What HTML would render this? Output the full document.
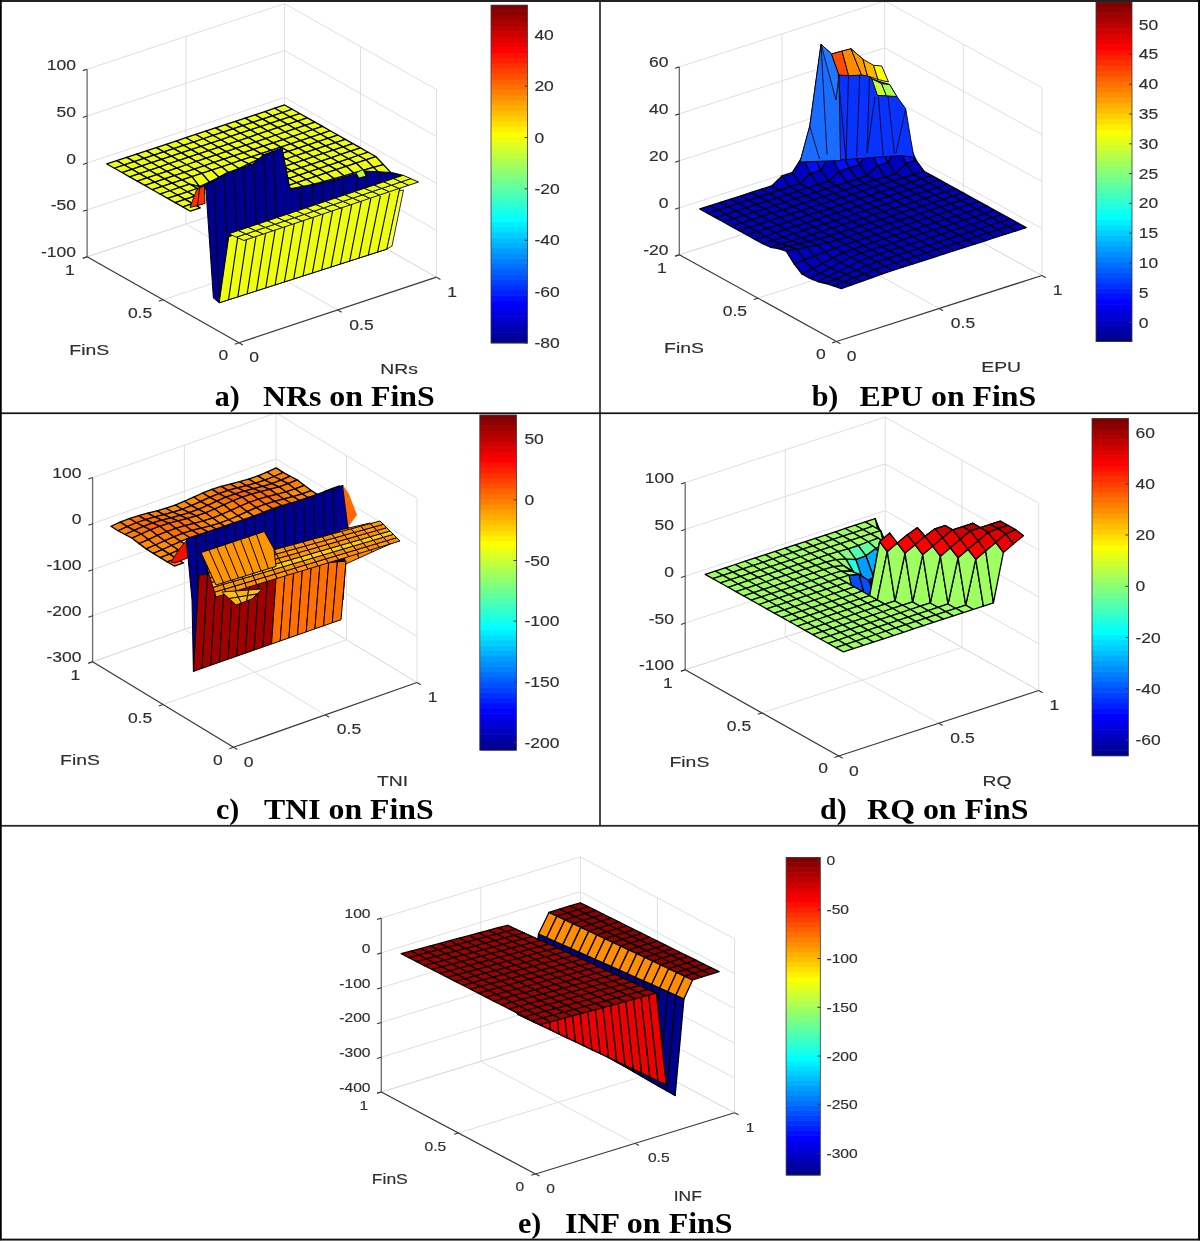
<!DOCTYPE html>
<html><head><meta charset="utf-8"><title>Figure</title>
<style>html,body{margin:0;padding:0;background:#fff;width:1200px;height:1241px;overflow:hidden}svg{display:block;filter:blur(0.4px)}svg.ov{position:absolute;left:0;top:0;filter:none}.t{font-family:"Liberation Sans",sans-serif;fill:#2e2e2e;stroke:#2e2e2e;stroke-width:0.15px}</style>
</head><body>
<svg width="1200" height="1241" viewBox="0 0 1200 1241"><line x1="87.1" y1="256.8" x2="284.6" y2="191.25" stroke="#dedede" stroke-width="1"/>
<line x1="284.6" y1="191.25" x2="436.5" y2="277.2" stroke="#dedede" stroke-width="1"/>
<line x1="87.1" y1="209.9" x2="284.6" y2="144.35" stroke="#dedede" stroke-width="1"/>
<line x1="284.6" y1="144.35" x2="436.5" y2="230.3" stroke="#dedede" stroke-width="1"/>
<line x1="87.1" y1="163" x2="284.6" y2="97.45" stroke="#dedede" stroke-width="1"/>
<line x1="284.6" y1="97.45" x2="436.5" y2="183.4" stroke="#dedede" stroke-width="1"/>
<line x1="87.1" y1="116.1" x2="284.6" y2="50.55" stroke="#dedede" stroke-width="1"/>
<line x1="284.6" y1="50.55" x2="436.5" y2="136.5" stroke="#dedede" stroke-width="1"/>
<line x1="87.1" y1="69.2" x2="284.6" y2="3.65" stroke="#dedede" stroke-width="1"/>
<line x1="284.6" y1="3.65" x2="436.5" y2="89.6" stroke="#dedede" stroke-width="1"/>
<line x1="185.85" y1="224.03" x2="185.85" y2="36.43" stroke="#dedede" stroke-width="1"/>
<line x1="284.6" y1="191.25" x2="284.6" y2="3.65" stroke="#dedede" stroke-width="1"/>
<line x1="436.5" y1="277.2" x2="436.5" y2="89.6" stroke="#dedede" stroke-width="1"/>
<line x1="360.55" y1="234.22" x2="360.55" y2="46.62" stroke="#dedede" stroke-width="1"/>
<line x1="337.75" y1="309.98" x2="185.85" y2="224.03" stroke="#dedede" stroke-width="1"/>
<line x1="436.5" y1="277.2" x2="284.6" y2="191.25" stroke="#dedede" stroke-width="1"/>
<line x1="163.05" y1="299.77" x2="360.55" y2="234.22" stroke="#dedede" stroke-width="1"/>
<line x1="87.1" y1="256.8" x2="284.6" y2="191.25" stroke="#dedede" stroke-width="1"/>
<polygon points="282.32,112.53 292.19,109.25 284.6,104.95 274.73,108.23" fill="#efff10" stroke="#000" stroke-width="1.3" stroke-linejoin="round"/>
<polygon points="272.44,115.81 282.32,112.53 274.73,108.23 264.85,111.51" fill="#efff10" stroke="#000" stroke-width="1.3" stroke-linejoin="round"/>
<polygon points="289.91,116.83 299.79,113.55 292.19,109.25 282.32,112.53" fill="#efff10" stroke="#000" stroke-width="1.3" stroke-linejoin="round"/>
<polygon points="262.57,119.08 272.44,115.81 264.85,111.51 254.97,114.79" fill="#efff10" stroke="#000" stroke-width="1.3" stroke-linejoin="round"/>
<polygon points="280.04,120.1 289.91,116.83 282.32,112.53 272.44,115.81" fill="#efff10" stroke="#000" stroke-width="1.3" stroke-linejoin="round"/>
<polygon points="297.51,121.12 307.38,117.85 299.79,113.55 289.91,116.83" fill="#efff10" stroke="#000" stroke-width="1.3" stroke-linejoin="round"/>
<polygon points="252.69,122.36 262.57,119.08 254.97,114.79 245.1,118.06" fill="#efff10" stroke="#000" stroke-width="1.3" stroke-linejoin="round"/>
<polygon points="270.16,123.38 280.04,120.1 272.44,115.81 262.57,119.08" fill="#efff10" stroke="#000" stroke-width="1.3" stroke-linejoin="round"/>
<polygon points="287.63,124.4 297.51,121.12 289.91,116.83 280.04,120.1" fill="#efff10" stroke="#000" stroke-width="1.3" stroke-linejoin="round"/>
<polygon points="305.11,125.42 314.98,122.14 307.38,117.85 297.51,121.12" fill="#efff10" stroke="#000" stroke-width="1.3" stroke-linejoin="round"/>
<polygon points="242.82,125.64 252.69,122.36 245.1,118.06 235.22,121.34" fill="#efff10" stroke="#000" stroke-width="1.3" stroke-linejoin="round"/>
<polygon points="260.29,126.66 270.16,123.38 262.57,119.08 252.69,122.36" fill="#efff10" stroke="#000" stroke-width="1.3" stroke-linejoin="round"/>
<polygon points="277.76,127.68 287.63,124.4 280.04,120.1 270.16,123.38" fill="#efff10" stroke="#000" stroke-width="1.3" stroke-linejoin="round"/>
<polygon points="295.23,128.7 305.11,125.42 297.51,121.12 287.63,124.4" fill="#efff10" stroke="#000" stroke-width="1.3" stroke-linejoin="round"/>
<polygon points="232.94,128.92 242.82,125.64 235.22,121.34 225.35,124.62" fill="#efff10" stroke="#000" stroke-width="1.3" stroke-linejoin="round"/>
<polygon points="312.7,129.72 322.57,126.44 314.98,122.14 305.11,125.42" fill="#efff10" stroke="#000" stroke-width="1.3" stroke-linejoin="round"/>
<polygon points="250.41,129.94 260.29,126.66 252.69,122.36 242.82,125.64" fill="#efff10" stroke="#000" stroke-width="1.3" stroke-linejoin="round"/>
<polygon points="267.88,130.96 277.76,127.68 270.16,123.38 260.29,126.66" fill="#efff10" stroke="#000" stroke-width="1.3" stroke-linejoin="round"/>
<polygon points="285.36,131.98 295.23,128.7 287.63,124.4 277.76,127.68" fill="#efff10" stroke="#000" stroke-width="1.3" stroke-linejoin="round"/>
<polygon points="223.07,132.19 232.94,128.92 225.35,124.62 215.47,127.9" fill="#efff10" stroke="#000" stroke-width="1.3" stroke-linejoin="round"/>
<polygon points="302.82,133 312.7,129.72 305.11,125.42 295.23,128.7" fill="#efff10" stroke="#000" stroke-width="1.3" stroke-linejoin="round"/>
<polygon points="240.54,133.21 250.41,129.94 242.82,125.64 232.94,128.92" fill="#efff10" stroke="#000" stroke-width="1.3" stroke-linejoin="round"/>
<polygon points="320.3,134.02 330.17,130.74 322.57,126.44 312.7,129.72" fill="#efff10" stroke="#000" stroke-width="1.3" stroke-linejoin="round"/>
<polygon points="258.01,134.23 267.88,130.96 260.29,126.66 250.41,129.94" fill="#efff10" stroke="#000" stroke-width="1.3" stroke-linejoin="round"/>
<polygon points="275.48,135.25 285.36,131.98 277.76,127.68 267.88,130.96" fill="#efff10" stroke="#000" stroke-width="1.3" stroke-linejoin="round"/>
<polygon points="213.19,135.47 223.07,132.19 215.47,127.9 205.6,131.17" fill="#efff10" stroke="#000" stroke-width="1.3" stroke-linejoin="round"/>
<polygon points="292.95,136.27 302.82,133 295.23,128.7 285.36,131.98" fill="#efff10" stroke="#000" stroke-width="1.3" stroke-linejoin="round"/>
<polygon points="230.66,136.49 240.54,133.21 232.94,128.92 223.07,132.19" fill="#efff10" stroke="#000" stroke-width="1.3" stroke-linejoin="round"/>
<polygon points="310.42,137.29 320.3,134.02 312.7,129.72 302.82,133" fill="#efff10" stroke="#000" stroke-width="1.3" stroke-linejoin="round"/>
<polygon points="248.13,137.51 258.01,134.23 250.41,129.94 240.54,133.21" fill="#efff10" stroke="#000" stroke-width="1.3" stroke-linejoin="round"/>
<polygon points="327.89,138.31 337.76,135.04 330.17,130.74 320.3,134.02" fill="#efff10" stroke="#000" stroke-width="1.3" stroke-linejoin="round"/>
<polygon points="265.61,138.53 275.48,135.25 267.88,130.96 258.01,134.23" fill="#efff10" stroke="#000" stroke-width="1.3" stroke-linejoin="round"/>
<polygon points="203.32,138.75 213.19,135.47 205.6,131.17 195.72,134.45" fill="#efff10" stroke="#000" stroke-width="1.3" stroke-linejoin="round"/>
<polygon points="283.07,139.55 292.95,136.27 285.36,131.98 275.48,135.25" fill="#efff10" stroke="#000" stroke-width="1.3" stroke-linejoin="round"/>
<polygon points="220.79,139.77 230.66,136.49 223.07,132.19 213.19,135.47" fill="#efff10" stroke="#000" stroke-width="1.3" stroke-linejoin="round"/>
<polygon points="300.55,140.57 310.42,137.29 302.82,133 292.95,136.27" fill="#efff10" stroke="#000" stroke-width="1.3" stroke-linejoin="round"/>
<polygon points="238.26,140.79 248.13,137.51 240.54,133.21 230.66,136.49" fill="#efff10" stroke="#000" stroke-width="1.3" stroke-linejoin="round"/>
<polygon points="318.01,141.59 327.89,138.31 320.3,134.02 310.42,137.29" fill="#efff10" stroke="#000" stroke-width="1.3" stroke-linejoin="round"/>
<polygon points="255.73,141.81 265.61,138.53 258.01,134.23 248.13,137.51" fill="#efff10" stroke="#000" stroke-width="1.3" stroke-linejoin="round"/>
<polygon points="193.44,142.03 203.32,138.75 195.72,134.45 185.85,137.73" fill="#efff10" stroke="#000" stroke-width="1.3" stroke-linejoin="round"/>
<polygon points="335.49,142.61 345.36,139.33 337.76,135.04 327.89,138.31" fill="#efff10" stroke="#000" stroke-width="1.3" stroke-linejoin="round"/>
<polygon points="273.2,142.83 283.07,139.55 275.48,135.25 265.61,138.53" fill="#efff10" stroke="#000" stroke-width="1.3" stroke-linejoin="round"/>
<polygon points="210.91,143.05 220.79,139.77 213.19,135.47 203.32,138.75" fill="#efff10" stroke="#000" stroke-width="1.3" stroke-linejoin="round"/>
<polygon points="290.67,143.85 300.55,140.57 292.95,136.27 283.07,139.55" fill="#efff10" stroke="#000" stroke-width="1.3" stroke-linejoin="round"/>
<polygon points="228.38,144.07 238.26,140.79 230.66,136.49 220.79,139.77" fill="#efff10" stroke="#000" stroke-width="1.3" stroke-linejoin="round"/>
<polygon points="308.14,144.87 318.01,141.59 310.42,137.29 300.55,140.57" fill="#efff10" stroke="#000" stroke-width="1.3" stroke-linejoin="round"/>
<polygon points="245.85,145.09 255.73,141.81 248.13,137.51 238.26,140.79" fill="#efff10" stroke="#000" stroke-width="1.3" stroke-linejoin="round"/>
<polygon points="183.57,145.3 193.44,142.03 185.85,137.73 175.97,141.01" fill="#efff10" stroke="#000" stroke-width="1.3" stroke-linejoin="round"/>
<polygon points="325.61,145.89 335.49,142.61 327.89,138.31 318.01,141.59" fill="#efff10" stroke="#000" stroke-width="1.3" stroke-linejoin="round"/>
<polygon points="263.32,146.11 273.2,142.83 265.61,138.53 255.73,141.81" fill="#efff10" stroke="#000" stroke-width="1.3" stroke-linejoin="round"/>
<polygon points="201.04,146.32 210.91,143.05 203.32,138.75 193.44,142.03" fill="#efff10" stroke="#000" stroke-width="1.3" stroke-linejoin="round"/>
<polygon points="343.08,146.91 352.95,143.63 345.36,139.33 335.49,142.61" fill="#efff10" stroke="#000" stroke-width="1.3" stroke-linejoin="round"/>
<polygon points="280.8,147.13 290.67,143.85 283.07,139.55 273.2,142.83" fill="#efff10" stroke="#000" stroke-width="1.3" stroke-linejoin="round"/>
<polygon points="218.51,147.34 228.38,144.07 220.79,139.77 210.91,143.05" fill="#efff10" stroke="#000" stroke-width="1.3" stroke-linejoin="round"/>
<polygon points="298.26,148.15 308.14,144.87 300.55,140.57 290.67,143.85" fill="#efff10" stroke="#000" stroke-width="1.3" stroke-linejoin="round"/>
<polygon points="235.98,148.36 245.85,145.09 238.26,140.79 228.38,144.07" fill="#efff10" stroke="#000" stroke-width="1.3" stroke-linejoin="round"/>
<polygon points="173.69,148.58 183.57,145.3 175.97,141.01 166.1,144.28" fill="#efff10" stroke="#000" stroke-width="1.3" stroke-linejoin="round"/>
<polygon points="315.74,149.17 325.61,145.89 318.01,141.59 308.14,144.87" fill="#efff10" stroke="#000" stroke-width="1.3" stroke-linejoin="round"/>
<polygon points="253.45,149.38 263.32,146.11 255.73,141.81 245.85,145.09" fill="#efff10" stroke="#000" stroke-width="1.3" stroke-linejoin="round"/>
<polygon points="191.16,149.6 201.04,146.32 193.44,142.03 183.57,145.3" fill="#efff10" stroke="#000" stroke-width="1.3" stroke-linejoin="round"/>
<polygon points="333.2,150.19 343.08,146.91 335.49,142.61 325.61,145.89" fill="#efff10" stroke="#000" stroke-width="1.3" stroke-linejoin="round"/>
<polygon points="270.92,150.4 280.8,147.13 273.2,142.83 263.32,146.11" fill="#efff10" stroke="#000" stroke-width="1.3" stroke-linejoin="round"/>
<polygon points="208.63,150.62 218.51,147.34 210.91,143.05 201.04,146.32" fill="#efff10" stroke="#000" stroke-width="1.3" stroke-linejoin="round"/>
<polygon points="350.68,151.21 360.55,147.93 352.95,143.63 343.08,146.91" fill="#efff10" stroke="#000" stroke-width="1.3" stroke-linejoin="round"/>
<polygon points="288.39,151.42 298.26,148.15 290.67,143.85 280.8,147.13" fill="#efff10" stroke="#000" stroke-width="1.3" stroke-linejoin="round"/>
<polygon points="226.1,151.64 235.98,148.36 228.38,144.07 218.51,147.34" fill="#efff10" stroke="#000" stroke-width="1.3" stroke-linejoin="round"/>
<polygon points="163.82,151.86 173.69,148.58 166.1,144.28 156.22,147.56" fill="#efff10" stroke="#000" stroke-width="1.3" stroke-linejoin="round"/>
<polygon points="305.86,152.44 315.74,149.17 308.14,144.87 298.26,148.15" fill="#efff10" stroke="#000" stroke-width="1.3" stroke-linejoin="round"/>
<polygon points="243.57,152.66 253.45,149.38 245.85,145.09 235.98,148.36" fill="#efff10" stroke="#000" stroke-width="1.3" stroke-linejoin="round"/>
<polygon points="181.29,152.88 191.16,149.6 183.57,145.3 173.69,148.58" fill="#efff10" stroke="#000" stroke-width="1.3" stroke-linejoin="round"/>
<polygon points="323.33,153.46 333.2,150.19 325.61,145.89 315.74,149.17" fill="#efff10" stroke="#000" stroke-width="1.3" stroke-linejoin="round"/>
<polygon points="261.05,153.68 270.92,150.4 263.32,146.11 253.45,149.38" fill="#efff10" stroke="#000" stroke-width="1.3" stroke-linejoin="round"/>
<polygon points="198.76,153.9 208.63,150.62 201.04,146.32 191.16,149.6" fill="#efff10" stroke="#000" stroke-width="1.3" stroke-linejoin="round"/>
<polygon points="340.8,154.48 350.68,151.21 343.08,146.91 333.2,150.19" fill="#efff10" stroke="#000" stroke-width="1.3" stroke-linejoin="round"/>
<polygon points="278.51,154.7 288.39,151.42 280.8,147.13 270.92,150.4" fill="#efff10" stroke="#000" stroke-width="1.3" stroke-linejoin="round"/>
<polygon points="216.23,154.92 226.1,151.64 218.51,147.34 208.63,150.62" fill="#efff10" stroke="#000" stroke-width="1.3" stroke-linejoin="round"/>
<polygon points="153.94,155.14 163.82,151.86 156.22,147.56 146.35,150.84" fill="#efff10" stroke="#000" stroke-width="1.3" stroke-linejoin="round"/>
<polygon points="358.27,155.5 368.14,152.23 360.55,147.93 350.68,151.21" fill="#efff10" stroke="#000" stroke-width="1.3" stroke-linejoin="round"/>
<polygon points="295.99,155.72 305.86,152.44 298.26,148.15 288.39,151.42" fill="#efff10" stroke="#000" stroke-width="1.3" stroke-linejoin="round"/>
<polygon points="233.7,155.94 243.57,152.66 235.98,148.36 226.1,151.64" fill="#efff10" stroke="#000" stroke-width="1.3" stroke-linejoin="round"/>
<polygon points="171.41,156.16 181.29,152.88 173.69,148.58 163.82,151.86" fill="#efff10" stroke="#000" stroke-width="1.3" stroke-linejoin="round"/>
<polygon points="313.45,156.74 323.33,153.46 315.74,149.17 305.86,152.44" fill="#efff10" stroke="#000" stroke-width="1.3" stroke-linejoin="round"/>
<polygon points="251.17,156.96 261.05,153.68 253.45,149.38 243.57,152.66" fill="#efff10" stroke="#000" stroke-width="1.3" stroke-linejoin="round"/>
<polygon points="188.88,157.18 198.76,153.9 191.16,149.6 181.29,152.88" fill="#efff10" stroke="#000" stroke-width="1.3" stroke-linejoin="round"/>
<polygon points="330.93,157.76 340.8,154.48 333.2,150.19 323.33,153.46" fill="#efff10" stroke="#000" stroke-width="1.3" stroke-linejoin="round"/>
<polygon points="268.64,157.98 278.51,154.7 270.92,150.4 261.05,153.68" fill="#efff10" stroke="#000" stroke-width="1.3" stroke-linejoin="round"/>
<polygon points="206.35,158.2 216.23,154.92 208.63,150.62 198.76,153.9" fill="#efff10" stroke="#000" stroke-width="1.3" stroke-linejoin="round"/>
<polygon points="144.07,158.41 153.94,155.14 146.35,150.84 136.47,154.12" fill="#efff10" stroke="#000" stroke-width="1.3" stroke-linejoin="round"/>
<polygon points="348.39,158.78 358.27,155.5 350.68,151.21 340.8,154.48" fill="#efff10" stroke="#000" stroke-width="1.3" stroke-linejoin="round"/>
<polygon points="286.11,159 295.99,155.72 288.39,151.42 278.51,154.7" fill="#efff10" stroke="#000" stroke-width="1.3" stroke-linejoin="round"/>
<polygon points="223.82,159.22 233.7,155.94 226.1,151.64 216.23,154.92" fill="#efff10" stroke="#000" stroke-width="1.3" stroke-linejoin="round"/>
<polygon points="161.54,159.43 171.41,156.16 163.82,151.86 153.94,155.14" fill="#efff10" stroke="#000" stroke-width="1.3" stroke-linejoin="round"/>
<polygon points="365.87,159.8 375.74,156.52 368.14,152.23 358.27,155.5" fill="#efff10" stroke="#000" stroke-width="1.3" stroke-linejoin="round"/>
<polygon points="303.58,160.02 313.45,156.74 305.86,152.44 295.99,155.72" fill="#efff10" stroke="#000" stroke-width="1.3" stroke-linejoin="round"/>
<polygon points="241.3,160.24 251.17,156.96 243.57,152.66 233.7,155.94" fill="#efff10" stroke="#000" stroke-width="1.3" stroke-linejoin="round"/>
<polygon points="179.01,160.45 188.88,157.18 181.29,152.88 171.41,156.16" fill="#efff10" stroke="#000" stroke-width="1.3" stroke-linejoin="round"/>
<polygon points="321.05,161.04 330.93,157.76 323.33,153.46 313.45,156.74" fill="#efff10" stroke="#000" stroke-width="1.3" stroke-linejoin="round"/>
<polygon points="258.76,159.38 268.64,157.98 261.05,153.68 251.17,156.96" fill="#efff10" stroke="#000" stroke-width="1.3" stroke-linejoin="round"/>
<polygon points="196.48,161.47 206.35,158.2 198.76,153.9 188.88,157.18" fill="#efff10" stroke="#000" stroke-width="1.3" stroke-linejoin="round"/>
<polygon points="134.19,161.69 144.07,158.41 136.47,154.12 126.6,157.39" fill="#efff10" stroke="#000" stroke-width="1.3" stroke-linejoin="round"/>
<polygon points="338.52,162.06 348.39,158.78 340.8,154.48 330.93,157.76" fill="#efff10" stroke="#000" stroke-width="1.3" stroke-linejoin="round"/>
<polygon points="276.24,162.28 286.11,159 278.51,154.7 268.64,157.98" fill="#efff10" stroke="#000" stroke-width="1.3" stroke-linejoin="round"/>
<polygon points="213.95,162.49 223.82,159.22 216.23,154.92 206.35,158.2" fill="#efff10" stroke="#000" stroke-width="1.3" stroke-linejoin="round"/>
<polygon points="151.66,162.71 161.54,159.43 153.94,155.14 144.07,158.41" fill="#efff10" stroke="#000" stroke-width="1.3" stroke-linejoin="round"/>
<polygon points="355.99,163.08 365.87,159.8 358.27,155.5 348.39,158.78" fill="#efff10" stroke="#000" stroke-width="1.3" stroke-linejoin="round"/>
<polygon points="293.7,163.3 303.58,160.02 295.99,155.72 286.11,159" fill="#efff10" stroke="#000" stroke-width="1.3" stroke-linejoin="round"/>
<polygon points="373.46,167.38 383.33,164.57 375.74,156.52 365.87,159.8" fill="#efff10" stroke="#000" stroke-width="1.3" stroke-linejoin="round"/>
<polygon points="231.42,163.51 241.3,160.24 233.7,155.94 223.82,159.22" fill="#efff10" stroke="#000" stroke-width="1.3" stroke-linejoin="round"/>
<polygon points="169.13,163.73 179.01,160.45 171.41,156.16 161.54,159.43" fill="#efff10" stroke="#000" stroke-width="1.3" stroke-linejoin="round"/>
<polygon points="311.18,164.32 321.05,161.04 313.45,156.74 303.58,160.02" fill="#efff10" stroke="#000" stroke-width="1.3" stroke-linejoin="round"/>
<polygon points="248.89,163.91 258.76,159.38 251.17,156.96 241.3,160.24" fill="#efff10" stroke="#000" stroke-width="1.3" stroke-linejoin="round"/>
<polygon points="186.6,164.75 196.48,161.47 188.88,157.18 179.01,160.45" fill="#efff10" stroke="#000" stroke-width="1.3" stroke-linejoin="round"/>
<polygon points="124.32,164.97 134.19,161.69 126.6,157.39 116.72,160.67" fill="#efff10" stroke="#000" stroke-width="1.3" stroke-linejoin="round"/>
<polygon points="328.64,165.34 338.52,162.06 330.93,157.76 321.05,161.04" fill="#efff10" stroke="#000" stroke-width="1.3" stroke-linejoin="round"/>
<polygon points="266.36,165.55 276.24,162.28 268.64,157.98 258.76,159.38" fill="#efff10" stroke="#000" stroke-width="1.3" stroke-linejoin="round"/>
<polygon points="204.07,165.77 213.95,162.49 206.35,158.2 196.48,161.47" fill="#efff10" stroke="#000" stroke-width="1.3" stroke-linejoin="round"/>
<polygon points="141.79,165.99 151.66,162.71 144.07,158.41 134.19,161.69" fill="#efff10" stroke="#000" stroke-width="1.3" stroke-linejoin="round"/>
<polygon points="346.12,166.36 355.99,163.08 348.39,158.78 338.52,162.06" fill="#efff10" stroke="#000" stroke-width="1.3" stroke-linejoin="round"/>
<polygon points="381.06,174.96 390.93,172.62 383.33,164.57 373.46,167.38" fill="#efff10" stroke="#000" stroke-width="1.3" stroke-linejoin="round"/>
<polygon points="283.83,166.57 293.7,163.3 286.11,159 276.24,162.28" fill="#efff10" stroke="#000" stroke-width="1.3" stroke-linejoin="round"/>
<polygon points="363.58,170.19 373.46,167.38 365.87,159.8 355.99,163.08" fill="#efff10" stroke="#000" stroke-width="1.3" stroke-linejoin="round"/>
<polygon points="221.55,166.79 231.42,163.51 223.82,159.22 213.95,162.49" fill="#efff10" stroke="#000" stroke-width="1.3" stroke-linejoin="round"/>
<polygon points="159.26,167.01 169.13,163.73 161.54,159.43 151.66,162.71" fill="#efff10" stroke="#000" stroke-width="1.3" stroke-linejoin="round"/>
<polygon points="301.3,167.59 311.18,164.32 303.58,160.02 293.7,163.3" fill="#efff10" stroke="#000" stroke-width="1.3" stroke-linejoin="round"/>
<polygon points="239.01,168.44 248.89,163.91 241.3,160.24 231.42,163.51" fill="#efff10" stroke="#000" stroke-width="1.3" stroke-linejoin="round"/>
<polygon points="176.73,168.03 186.6,164.75 179.01,160.45 169.13,163.73" fill="#efff10" stroke="#000" stroke-width="1.3" stroke-linejoin="round"/>
<polygon points="114.44,168.25 124.32,164.97 116.72,160.67 106.85,163.95" fill="#efff10" stroke="#000" stroke-width="1.3" stroke-linejoin="round"/>
<polygon points="318.77,168.61 328.64,165.34 321.05,161.04 311.18,164.32" fill="#efff10" stroke="#000" stroke-width="1.3" stroke-linejoin="round"/>
<polygon points="256.49,168.83 266.36,165.55 258.76,159.38 248.89,163.91" fill="#efff10" stroke="#000" stroke-width="1.3" stroke-linejoin="round"/>
<polygon points="194.2,169.05 204.07,165.77 196.48,161.47 186.6,164.75" fill="#efff10" stroke="#000" stroke-width="1.3" stroke-linejoin="round"/>
<polygon points="131.91,169.27 141.79,165.99 134.19,161.69 124.32,164.97" fill="#efff10" stroke="#000" stroke-width="1.3" stroke-linejoin="round"/>
<polygon points="336.24,169.63 346.12,166.36 338.52,162.06 328.64,165.34" fill="#efff10" stroke="#000" stroke-width="1.3" stroke-linejoin="round"/>
<polygon points="273.95,169.85 283.83,166.57 276.24,162.28 266.36,165.55" fill="#efff10" stroke="#000" stroke-width="1.3" stroke-linejoin="round"/>
<polygon points="371.18,177.3 381.06,174.96 373.46,167.38 363.58,170.19" fill="#efff10" stroke="#000" stroke-width="1.3" stroke-linejoin="round"/>
<polygon points="353.71,173 363.58,170.19 355.99,163.08 346.12,166.36" fill="#efff10" stroke="#000" stroke-width="1.3" stroke-linejoin="round"/>
<polygon points="211.67,170.07 221.55,166.79 213.95,162.49 204.07,165.77" fill="#efff10" stroke="#000" stroke-width="1.3" stroke-linejoin="round"/>
<polygon points="149.38,170.29 159.26,167.01 151.66,162.71 141.79,165.99" fill="#efff10" stroke="#000" stroke-width="1.3" stroke-linejoin="round"/>
<polygon points="291.43,170.87 301.3,167.59 293.7,163.3 283.83,166.57" fill="#efff10" stroke="#000" stroke-width="1.3" stroke-linejoin="round"/>
<polygon points="229.14,172.96 239.01,168.44 231.42,163.51 221.55,166.79" fill="#efff10" stroke="#000" stroke-width="1.3" stroke-linejoin="round"/>
<polygon points="166.85,171.31 176.73,168.03 169.13,163.73 159.26,167.01" fill="#efff10" stroke="#000" stroke-width="1.3" stroke-linejoin="round"/>
<polygon points="308.89,171.89 318.77,168.61 311.18,164.32 301.3,167.59" fill="#efff10" stroke="#000" stroke-width="1.3" stroke-linejoin="round"/>
<polygon points="184.32,172.33 194.2,169.05 186.6,164.75 176.73,168.03" fill="#efff10" stroke="#000" stroke-width="1.3" stroke-linejoin="round"/>
<polygon points="122.04,172.54 131.91,169.27 124.32,164.97 114.44,168.25" fill="#efff10" stroke="#000" stroke-width="1.3" stroke-linejoin="round"/>
<polygon points="326.37,172.91 336.24,169.63 328.64,165.34 318.77,168.61" fill="#efff10" stroke="#000" stroke-width="1.3" stroke-linejoin="round"/>
<polygon points="264.08,173.13 273.95,169.85 266.36,165.55 256.49,168.83" fill="#efff10" stroke="#000" stroke-width="1.3" stroke-linejoin="round"/>
<polygon points="201.8,173.35 211.67,170.07 204.07,165.77 194.2,169.05" fill="#efff10" stroke="#000" stroke-width="1.3" stroke-linejoin="round"/>
<polygon points="343.83,175.81 353.71,173 346.12,166.36 336.24,169.63" fill="#efff10" stroke="#000" stroke-width="1.3" stroke-linejoin="round"/>
<polygon points="139.51,173.56 149.38,170.29 141.79,165.99 131.91,169.27" fill="#efff10" stroke="#000" stroke-width="1.3" stroke-linejoin="round"/>
<polygon points="219.26,177.49 229.14,172.96 221.55,166.79 211.67,170.07" fill="#efff10" stroke="#000" stroke-width="1.3" stroke-linejoin="round"/>
<polygon points="281.55,174.15 291.43,170.87 283.83,166.57 273.95,169.85" fill="#efff10" stroke="#000" stroke-width="1.3" stroke-linejoin="round"/>
<polygon points="156.98,174.58 166.85,171.31 159.26,167.01 149.38,170.29" fill="#efff10" stroke="#000" stroke-width="1.3" stroke-linejoin="round"/>
<polygon points="299.02,175.17 308.89,171.89 301.3,167.59 291.43,170.87" fill="#efff10" stroke="#000" stroke-width="1.3" stroke-linejoin="round"/>
<polygon points="174.45,175.6 184.32,172.33 176.73,168.03 166.85,171.31" fill="#efff10" stroke="#000" stroke-width="1.3" stroke-linejoin="round"/>
<polygon points="316.49,176.19 326.37,172.91 318.77,168.61 308.89,171.89" fill="#efff10" stroke="#000" stroke-width="1.3" stroke-linejoin="round"/>
<polygon points="191.92,176.62 201.8,173.35 194.2,169.05 184.32,172.33" fill="#efff10" stroke="#000" stroke-width="1.3" stroke-linejoin="round"/>
<polygon points="333.96,178.62 343.83,175.81 336.24,169.63 326.37,172.91" fill="#efff10" stroke="#000" stroke-width="1.3" stroke-linejoin="round"/>
<polygon points="129.63,176.84 139.51,173.56 131.91,169.27 122.04,172.54" fill="#efff10" stroke="#000" stroke-width="1.3" stroke-linejoin="round"/>
<polygon points="209.39,182.02 219.26,177.49 211.67,170.07 201.8,173.35" fill="#efff10" stroke="#000" stroke-width="1.3" stroke-linejoin="round"/>
<polygon points="271.68,177.43 281.55,174.15 273.95,169.85 264.08,173.13" fill="#efff10" stroke="#000" stroke-width="1.3" stroke-linejoin="round"/>
<polygon points="147.1,177.86 156.98,174.58 149.38,170.29 139.51,173.56" fill="#efff10" stroke="#000" stroke-width="1.3" stroke-linejoin="round"/>
<polygon points="289.14,178.45 299.02,175.17 291.43,170.87 281.55,174.15" fill="#efff10" stroke="#000" stroke-width="1.3" stroke-linejoin="round"/>
<polygon points="164.57,178.88 174.45,175.6 166.85,171.31 156.98,174.58" fill="#efff10" stroke="#000" stroke-width="1.3" stroke-linejoin="round"/>
<polygon points="306.62,179.47 316.49,176.19 308.89,171.89 299.02,175.17" fill="#efff10" stroke="#000" stroke-width="1.3" stroke-linejoin="round"/>
<polygon points="182.05,179.9 191.92,176.62 184.32,172.33 174.45,175.6" fill="#efff10" stroke="#000" stroke-width="1.3" stroke-linejoin="round"/>
<polygon points="199.51,186.55 209.39,182.02 201.8,173.35 191.92,176.62" fill="#efff10" stroke="#000" stroke-width="1.3" stroke-linejoin="round"/>
<polygon points="324.08,181.42 333.96,178.62 326.37,172.91 316.49,176.19" fill="#efff10" stroke="#000" stroke-width="1.3" stroke-linejoin="round"/>
<polygon points="137.23,181.14 147.1,177.86 139.51,173.56 129.63,176.84" fill="#efff10" stroke="#000" stroke-width="1.3" stroke-linejoin="round"/>
<polygon points="279.27,181.72 289.14,178.45 281.55,174.15 271.68,177.43" fill="#efff10" stroke="#000" stroke-width="1.3" stroke-linejoin="round"/>
<polygon points="154.7,182.16 164.57,178.88 156.98,174.58 147.1,177.86" fill="#efff10" stroke="#000" stroke-width="1.3" stroke-linejoin="round"/>
<polygon points="296.74,182.74 306.62,179.47 299.02,175.17 289.14,178.45" fill="#efff10" stroke="#000" stroke-width="1.3" stroke-linejoin="round"/>
<polygon points="172.17,183.18 182.05,179.9 174.45,175.6 164.57,178.88" fill="#efff10" stroke="#000" stroke-width="1.3" stroke-linejoin="round"/>
<polygon points="314.21,184.23 324.08,181.42 316.49,176.19 306.62,179.47" fill="#efff10" stroke="#000" stroke-width="1.3" stroke-linejoin="round"/>
<polygon points="189.64,184.2 199.51,186.55 191.92,176.62 182.05,179.9" fill="#efff10" stroke="#000" stroke-width="1.3" stroke-linejoin="round"/>
<polygon points="144.82,185.44 154.7,182.16 147.1,177.86 137.23,181.14" fill="#efff10" stroke="#000" stroke-width="1.3" stroke-linejoin="round"/>
<polygon points="286.87,186.02 296.74,182.74 289.14,178.45 279.27,181.72" fill="#efff10" stroke="#000" stroke-width="1.3" stroke-linejoin="round"/>
<polygon points="162.3,186.46 172.17,183.18 164.57,178.88 154.7,182.16" fill="#efff10" stroke="#000" stroke-width="1.3" stroke-linejoin="round"/>
<polygon points="304.33,187.04 314.21,184.23 306.62,179.47 296.74,182.74" fill="#efff10" stroke="#000" stroke-width="1.3" stroke-linejoin="round"/>
<polygon points="179.76,187.48 189.64,184.2 182.05,179.9 172.17,183.18" fill="#efff10" stroke="#000" stroke-width="1.3" stroke-linejoin="round"/>
<polygon points="197.24,188.5 207.11,185.22 199.51,186.55 189.64,184.2" fill="#efff10" stroke="#000" stroke-width="1.3" stroke-linejoin="round"/>
<polygon points="152.42,189.73 162.3,186.46 154.7,182.16 144.82,185.44" fill="#efff10" stroke="#000" stroke-width="1.3" stroke-linejoin="round"/>
<polygon points="294.46,190.32 304.33,187.04 296.74,182.74 286.87,186.02" fill="#efff10" stroke="#000" stroke-width="1.3" stroke-linejoin="round"/>
<polygon points="169.89,190.75 179.76,187.48 172.17,183.18 162.3,186.46" fill="#efff10" stroke="#000" stroke-width="1.3" stroke-linejoin="round"/>
<polygon points="187.36,191.77 197.24,188.5 189.64,184.2 179.76,187.48" fill="#efff10" stroke="#000" stroke-width="1.3" stroke-linejoin="round"/>
<polygon points="160.01,194.03 169.89,190.75 162.3,186.46 152.42,189.73" fill="#efff10" stroke="#000" stroke-width="1.3" stroke-linejoin="round"/>
<polygon points="177.49,195.05 187.36,191.77 179.76,187.48 169.89,190.75" fill="#efff10" stroke="#000" stroke-width="1.3" stroke-linejoin="round"/>
<polygon points="194.95,196.07 204.83,192.79 197.24,188.5 187.36,191.77" fill="#efff10" stroke="#000" stroke-width="1.3" stroke-linejoin="round"/>
<polygon points="167.61,198.33 177.49,195.05 169.89,190.75 160.01,194.03" fill="#efff10" stroke="#000" stroke-width="1.3" stroke-linejoin="round"/>
<polygon points="185.08,199.35 194.95,196.07 187.36,191.77 177.49,195.05" fill="#efff10" stroke="#000" stroke-width="1.3" stroke-linejoin="round"/>
<polygon points="175.2,202.63 185.08,199.35 177.49,195.05 167.61,198.33" fill="#efff10" stroke="#000" stroke-width="1.3" stroke-linejoin="round"/>
<polygon points="192.68,203.65 202.55,200.37 194.95,196.07 185.08,199.35" fill="#efff10" stroke="#000" stroke-width="1.3" stroke-linejoin="round"/>
<polygon points="182.8,206.92 192.68,203.65 185.08,199.35 175.2,202.63" fill="#efff10" stroke="#000" stroke-width="1.3" stroke-linejoin="round"/>
<polygon points="190.39,211.22 200.27,207.94 192.68,203.65 182.8,206.92" fill="#efff10" stroke="#000" stroke-width="1.3" stroke-linejoin="round"/>
<polygon points="190,207.5 196.5,190 204.5,185.5 205,203.5" fill="#ff3000" stroke="#000" stroke-width="0.9" stroke-linejoin="round"/>
<line x1="199.5" y1="188.5" x2="197.5" y2="206" stroke="#000" stroke-width="0.9"/>
<polygon points="204,185.5 226,173 253,164 263,155 282,148 290,188.75 325,182 355,174 365,171 391.7,172.5 403,175.3 399.3,190.7 386.9,249.1 219.2,302.8 213.4,298 206,190" fill="#00008f" stroke="#000" stroke-width="1.0" stroke-linejoin="round"/>
<line x1="214" y1="179.82" x2="219" y2="300" stroke="#000" stroke-width="1.0"/>
<line x1="224" y1="174.14" x2="229" y2="297" stroke="#000" stroke-width="1.0"/>
<line x1="234" y1="170.33" x2="239" y2="294" stroke="#000" stroke-width="1.0"/>
<line x1="243.5" y1="167.17" x2="248.5" y2="291.15" stroke="#000" stroke-width="1.0"/>
<line x1="254" y1="163.1" x2="259" y2="288" stroke="#000" stroke-width="1.0"/>
<line x1="264" y1="154.63" x2="269" y2="285" stroke="#000" stroke-width="1.0"/>
<line x1="273.5" y1="151.13" x2="278.5" y2="282.15" stroke="#000" stroke-width="1.0"/>
<line x1="301.6" y1="186.51" x2="298.6" y2="250" stroke="#000" stroke-width="1.0"/>
<line x1="313" y1="184.31" x2="310" y2="250" stroke="#000" stroke-width="1.0"/>
<line x1="322.7" y1="182.44" x2="319.7" y2="250" stroke="#000" stroke-width="1.0"/>
<line x1="334" y1="179.6" x2="331" y2="250" stroke="#000" stroke-width="1.0"/>
<line x1="343.8" y1="176.99" x2="340.8" y2="250" stroke="#000" stroke-width="1.0"/>
<line x1="357" y1="173.4" x2="354" y2="250" stroke="#000" stroke-width="1.0"/>
<line x1="366.8" y1="171.1" x2="363.8" y2="250" stroke="#000" stroke-width="1.0"/>
<line x1="380" y1="171.84" x2="377" y2="250" stroke="#000" stroke-width="1.0"/>
<polygon points="356,173 363,169.5 366,176 359,178" fill="#b8ff48" stroke="#000" stroke-width="0.8" stroke-linejoin="round"/>
<polygon points="228.75,236.7 403.2,175.3 399.3,190.7 386.9,249.1 219.2,302.8" fill="#efff10" stroke="#000" stroke-width="1.0" stroke-linejoin="round"/>
<line x1="238.22" y1="234.14" x2="228.52" y2="299.82" stroke="#000" stroke-width="1.1"/>
<line x1="247.7" y1="231.59" x2="237.83" y2="296.83" stroke="#000" stroke-width="1.1"/>
<line x1="257.18" y1="229.03" x2="247.15" y2="293.85" stroke="#000" stroke-width="1.1"/>
<line x1="266.65" y1="226.48" x2="256.47" y2="290.87" stroke="#000" stroke-width="1.1"/>
<line x1="276.12" y1="223.92" x2="265.78" y2="287.88" stroke="#000" stroke-width="1.1"/>
<line x1="285.6" y1="221.37" x2="275.1" y2="284.9" stroke="#000" stroke-width="1.1"/>
<line x1="295.07" y1="218.81" x2="284.42" y2="281.92" stroke="#000" stroke-width="1.1"/>
<line x1="304.55" y1="216.26" x2="293.73" y2="278.93" stroke="#000" stroke-width="1.1"/>
<line x1="314.02" y1="213.7" x2="303.05" y2="275.95" stroke="#000" stroke-width="1.1"/>
<line x1="323.5" y1="211.14" x2="312.37" y2="272.97" stroke="#000" stroke-width="1.1"/>
<line x1="332.98" y1="208.59" x2="321.68" y2="269.98" stroke="#000" stroke-width="1.1"/>
<line x1="342.45" y1="206.03" x2="331" y2="267" stroke="#000" stroke-width="1.1"/>
<line x1="351.93" y1="203.48" x2="340.32" y2="264.02" stroke="#000" stroke-width="1.1"/>
<line x1="361.4" y1="200.92" x2="349.63" y2="261.03" stroke="#000" stroke-width="1.1"/>
<line x1="370.88" y1="198.37" x2="358.95" y2="258.05" stroke="#000" stroke-width="1.1"/>
<line x1="380.35" y1="195.81" x2="368.27" y2="255.07" stroke="#000" stroke-width="1.1"/>
<line x1="389.83" y1="193.26" x2="377.58" y2="252.08" stroke="#000" stroke-width="1.1"/>
<polygon points="399.3,190.7 403.5,190 392,246 386.9,249.1" fill="#f6ff50" stroke="#000" stroke-width="0.8" stroke-linejoin="round"/>
<polygon points="244,240.5 253.69,237.25 246.07,233.9 236.38,237.15" fill="#efff10" stroke="#000" stroke-width="0.95" stroke-linejoin="round"/>
<polygon points="253.69,237.25 263.39,234 255.76,230.65 246.07,233.9" fill="#efff10" stroke="#000" stroke-width="0.95" stroke-linejoin="round"/>
<polygon points="263.39,234 273.08,230.75 265.45,227.4 255.76,230.65" fill="#efff10" stroke="#000" stroke-width="0.95" stroke-linejoin="round"/>
<polygon points="273.08,230.75 282.78,227.5 275.15,224.15 265.45,227.4" fill="#efff10" stroke="#000" stroke-width="0.95" stroke-linejoin="round"/>
<polygon points="282.78,227.5 292.47,224.25 284.84,220.9 275.15,224.15" fill="#efff10" stroke="#000" stroke-width="0.95" stroke-linejoin="round"/>
<polygon points="292.47,224.25 302.17,221 294.53,217.65 284.84,220.9" fill="#efff10" stroke="#000" stroke-width="0.95" stroke-linejoin="round"/>
<polygon points="302.17,221 311.86,217.75 304.23,214.4 294.53,217.65" fill="#efff10" stroke="#000" stroke-width="0.95" stroke-linejoin="round"/>
<polygon points="311.86,217.75 321.56,214.5 313.92,211.15 304.23,214.4" fill="#efff10" stroke="#000" stroke-width="0.95" stroke-linejoin="round"/>
<polygon points="321.56,214.5 331.25,211.25 323.61,207.9 313.92,211.15" fill="#efff10" stroke="#000" stroke-width="0.95" stroke-linejoin="round"/>
<polygon points="331.25,211.25 340.94,208 333.31,204.65 323.61,207.9" fill="#efff10" stroke="#000" stroke-width="0.95" stroke-linejoin="round"/>
<polygon points="340.94,208 350.64,204.75 343,201.4 333.31,204.65" fill="#efff10" stroke="#000" stroke-width="0.95" stroke-linejoin="round"/>
<polygon points="350.64,204.75 360.33,201.5 352.69,198.15 343,201.4" fill="#efff10" stroke="#000" stroke-width="0.95" stroke-linejoin="round"/>
<polygon points="360.33,201.5 370.03,198.25 362.38,194.9 352.69,198.15" fill="#efff10" stroke="#000" stroke-width="0.95" stroke-linejoin="round"/>
<polygon points="370.03,198.25 379.72,195 372.08,191.65 362.38,194.9" fill="#efff10" stroke="#000" stroke-width="0.95" stroke-linejoin="round"/>
<polygon points="379.72,195 389.42,191.75 381.77,188.4 372.08,191.65" fill="#efff10" stroke="#000" stroke-width="0.95" stroke-linejoin="round"/>
<polygon points="389.42,191.75 399.11,188.5 391.46,185.15 381.77,188.4" fill="#efff10" stroke="#000" stroke-width="0.95" stroke-linejoin="round"/>
<polygon points="399.11,188.5 408.81,185.25 401.16,181.9 391.46,185.15" fill="#efff10" stroke="#000" stroke-width="0.95" stroke-linejoin="round"/>
<polygon points="408.81,185.25 418.5,182 410.85,178.65 401.16,181.9" fill="#efff10" stroke="#000" stroke-width="0.95" stroke-linejoin="round"/>
<polygon points="236.38,237.15 246.07,233.9 238.44,230.55 228.75,233.8" fill="#efff10" stroke="#000" stroke-width="0.95" stroke-linejoin="round"/>
<polygon points="246.07,233.9 255.76,230.65 248.13,227.3 238.44,230.55" fill="#efff10" stroke="#000" stroke-width="0.95" stroke-linejoin="round"/>
<polygon points="255.76,230.65 265.45,227.4 257.82,224.05 248.13,227.3" fill="#efff10" stroke="#000" stroke-width="0.95" stroke-linejoin="round"/>
<polygon points="265.45,227.4 275.15,224.15 267.52,220.8 257.82,224.05" fill="#efff10" stroke="#000" stroke-width="0.95" stroke-linejoin="round"/>
<polygon points="275.15,224.15 284.84,220.9 277.21,217.55 267.52,220.8" fill="#efff10" stroke="#000" stroke-width="0.95" stroke-linejoin="round"/>
<polygon points="284.84,220.9 294.53,217.65 286.9,214.3 277.21,217.55" fill="#efff10" stroke="#000" stroke-width="0.95" stroke-linejoin="round"/>
<polygon points="294.53,217.65 304.23,214.4 296.59,211.05 286.9,214.3" fill="#efff10" stroke="#000" stroke-width="0.95" stroke-linejoin="round"/>
<polygon points="304.23,214.4 313.92,211.15 306.28,207.8 296.59,211.05" fill="#efff10" stroke="#000" stroke-width="0.95" stroke-linejoin="round"/>
<polygon points="313.92,211.15 323.61,207.9 315.98,204.55 306.28,207.8" fill="#efff10" stroke="#000" stroke-width="0.95" stroke-linejoin="round"/>
<polygon points="323.61,207.9 333.31,204.65 325.67,201.3 315.98,204.55" fill="#efff10" stroke="#000" stroke-width="0.95" stroke-linejoin="round"/>
<polygon points="333.31,204.65 343,201.4 335.36,198.05 325.67,201.3" fill="#efff10" stroke="#000" stroke-width="0.95" stroke-linejoin="round"/>
<polygon points="343,201.4 352.69,198.15 345.05,194.8 335.36,198.05" fill="#efff10" stroke="#000" stroke-width="0.95" stroke-linejoin="round"/>
<polygon points="352.69,198.15 362.38,194.9 354.74,191.55 345.05,194.8" fill="#efff10" stroke="#000" stroke-width="0.95" stroke-linejoin="round"/>
<polygon points="362.38,194.9 372.08,191.65 364.43,188.3 354.74,191.55" fill="#efff10" stroke="#000" stroke-width="0.95" stroke-linejoin="round"/>
<polygon points="372.08,191.65 381.77,188.4 374.12,185.05 364.43,188.3" fill="#efff10" stroke="#000" stroke-width="0.95" stroke-linejoin="round"/>
<polygon points="381.77,188.4 391.46,185.15 383.82,181.8 374.12,185.05" fill="#efff10" stroke="#000" stroke-width="0.95" stroke-linejoin="round"/>
<polygon points="391.46,185.15 401.16,181.9 393.51,178.55 383.82,181.8" fill="#efff10" stroke="#000" stroke-width="0.95" stroke-linejoin="round"/>
<polygon points="401.16,181.9 410.85,178.65 403.2,175.3 393.51,178.55" fill="#efff10" stroke="#000" stroke-width="0.95" stroke-linejoin="round"/>
<line x1="87.1" y1="256.8" x2="87.1" y2="69.2" stroke="#6a6a6a" stroke-width="1.3"/>
<line x1="239" y1="342.75" x2="87.1" y2="256.8" stroke="#3a3a3a" stroke-width="1.3"/>
<line x1="239" y1="342.75" x2="436.5" y2="277.2" stroke="#3a3a3a" stroke-width="1.3"/>
<line x1="87.1" y1="256.8" x2="82.83" y2="258.22" stroke="#3a3a3a" stroke-width="1.1"/>
<line x1="87.1" y1="209.9" x2="82.83" y2="211.32" stroke="#3a3a3a" stroke-width="1.1"/>
<line x1="87.1" y1="163" x2="82.83" y2="164.42" stroke="#3a3a3a" stroke-width="1.1"/>
<line x1="87.1" y1="116.1" x2="82.83" y2="117.52" stroke="#3a3a3a" stroke-width="1.1"/>
<line x1="87.1" y1="69.2" x2="82.83" y2="70.62" stroke="#3a3a3a" stroke-width="1.1"/>
<line x1="239" y1="342.75" x2="234.73" y2="344.17" stroke="#3a3a3a" stroke-width="1.1"/>
<line x1="163.05" y1="299.77" x2="158.78" y2="301.19" stroke="#3a3a3a" stroke-width="1.1"/>
<line x1="87.1" y1="256.8" x2="82.83" y2="258.22" stroke="#3a3a3a" stroke-width="1.1"/>
<line x1="239" y1="342.75" x2="242.92" y2="344.97" stroke="#3a3a3a" stroke-width="1.1"/>
<line x1="337.75" y1="309.98" x2="341.67" y2="312.19" stroke="#3a3a3a" stroke-width="1.1"/>
<line x1="436.5" y1="277.2" x2="440.42" y2="279.42" stroke="#3a3a3a" stroke-width="1.1"/>
<text transform="translate(76 257.34) scale(1.25 1)" font-size="14" text-anchor="end" class="t">-100</text>
<text transform="translate(76 210.44) scale(1.25 1)" font-size="14" text-anchor="end" class="t">-50</text>
<text transform="translate(76 163.54) scale(1.25 1)" font-size="14" text-anchor="end" class="t">0</text>
<text transform="translate(76 116.64) scale(1.25 1)" font-size="14" text-anchor="end" class="t">50</text>
<text transform="translate(76 69.74) scale(1.25 1)" font-size="14" text-anchor="end" class="t">100</text>
<text transform="translate(223.25 360.04) scale(1.25 1)" font-size="14" text-anchor="middle" class="t">0</text>
<text transform="translate(140.05 317.81) scale(1.25 1)" font-size="14" text-anchor="middle" class="t">0.5</text>
<text transform="translate(69.75 275.29) scale(1.25 1)" font-size="14" text-anchor="middle" class="t">1</text>
<text transform="translate(254 362.29) scale(1.25 1)" font-size="14" text-anchor="middle" class="t">0</text>
<text transform="translate(361.5 329.52) scale(1.25 1)" font-size="14" text-anchor="middle" class="t">0.5</text>
<text transform="translate(452.1 296.54) scale(1.25 1)" font-size="14" text-anchor="middle" class="t">1</text>
<text transform="translate(89.25 355.08) scale(1.25 1)" font-size="15.5" text-anchor="middle" class="t">FinS</text>
<text transform="translate(399 373.83) scale(1.25 1)" font-size="15.5" text-anchor="middle" class="t">NRs</text>
<rect x="491" y="337.42" width="36.5" height="5.88" fill="#00008f"/>
<rect x="491" y="332.14" width="36.5" height="5.88" fill="#00009f"/>
<rect x="491" y="326.87" width="36.5" height="5.88" fill="#0000af"/>
<rect x="491" y="321.59" width="36.5" height="5.88" fill="#0000bf"/>
<rect x="491" y="316.31" width="36.5" height="5.88" fill="#0000cf"/>
<rect x="491" y="311.03" width="36.5" height="5.88" fill="#0000df"/>
<rect x="491" y="305.75" width="36.5" height="5.88" fill="#0000ef"/>
<rect x="491" y="300.48" width="36.5" height="5.88" fill="#0000ff"/>
<rect x="491" y="295.2" width="36.5" height="5.88" fill="#0010ff"/>
<rect x="491" y="289.92" width="36.5" height="5.88" fill="#0020ff"/>
<rect x="491" y="284.64" width="36.5" height="5.88" fill="#0030ff"/>
<rect x="491" y="279.36" width="36.5" height="5.88" fill="#0040ff"/>
<rect x="491" y="274.08" width="36.5" height="5.88" fill="#0050ff"/>
<rect x="491" y="268.81" width="36.5" height="5.88" fill="#0060ff"/>
<rect x="491" y="263.53" width="36.5" height="5.88" fill="#0070ff"/>
<rect x="491" y="258.25" width="36.5" height="5.88" fill="#0080ff"/>
<rect x="491" y="252.97" width="36.5" height="5.88" fill="#008fff"/>
<rect x="491" y="247.69" width="36.5" height="5.88" fill="#009fff"/>
<rect x="491" y="242.42" width="36.5" height="5.88" fill="#00afff"/>
<rect x="491" y="237.14" width="36.5" height="5.88" fill="#00bfff"/>
<rect x="491" y="231.86" width="36.5" height="5.88" fill="#00cfff"/>
<rect x="491" y="226.58" width="36.5" height="5.88" fill="#00dfff"/>
<rect x="491" y="221.3" width="36.5" height="5.88" fill="#00efff"/>
<rect x="491" y="216.02" width="36.5" height="5.88" fill="#00ffff"/>
<rect x="491" y="210.75" width="36.5" height="5.88" fill="#10ffef"/>
<rect x="491" y="205.47" width="36.5" height="5.88" fill="#20ffdf"/>
<rect x="491" y="200.19" width="36.5" height="5.88" fill="#30ffcf"/>
<rect x="491" y="194.91" width="36.5" height="5.88" fill="#40ffbf"/>
<rect x="491" y="189.63" width="36.5" height="5.88" fill="#50ffaf"/>
<rect x="491" y="184.36" width="36.5" height="5.88" fill="#60ff9f"/>
<rect x="491" y="179.08" width="36.5" height="5.88" fill="#70ff8f"/>
<rect x="491" y="173.8" width="36.5" height="5.88" fill="#80ff80"/>
<rect x="491" y="168.52" width="36.5" height="5.88" fill="#8fff70"/>
<rect x="491" y="163.24" width="36.5" height="5.88" fill="#9fff60"/>
<rect x="491" y="157.97" width="36.5" height="5.88" fill="#afff50"/>
<rect x="491" y="152.69" width="36.5" height="5.88" fill="#bfff40"/>
<rect x="491" y="147.41" width="36.5" height="5.88" fill="#cfff30"/>
<rect x="491" y="142.13" width="36.5" height="5.88" fill="#dfff20"/>
<rect x="491" y="136.85" width="36.5" height="5.88" fill="#efff10"/>
<rect x="491" y="131.57" width="36.5" height="5.88" fill="#ffff00"/>
<rect x="491" y="126.3" width="36.5" height="5.88" fill="#ffef00"/>
<rect x="491" y="121.02" width="36.5" height="5.88" fill="#ffdf00"/>
<rect x="491" y="115.74" width="36.5" height="5.88" fill="#ffcf00"/>
<rect x="491" y="110.46" width="36.5" height="5.88" fill="#ffbf00"/>
<rect x="491" y="105.18" width="36.5" height="5.88" fill="#ffaf00"/>
<rect x="491" y="99.91" width="36.5" height="5.88" fill="#ff9f00"/>
<rect x="491" y="94.63" width="36.5" height="5.88" fill="#ff8f00"/>
<rect x="491" y="89.35" width="36.5" height="5.88" fill="#ff8000"/>
<rect x="491" y="84.07" width="36.5" height="5.88" fill="#ff7000"/>
<rect x="491" y="78.79" width="36.5" height="5.88" fill="#ff6000"/>
<rect x="491" y="73.52" width="36.5" height="5.88" fill="#ff5000"/>
<rect x="491" y="68.24" width="36.5" height="5.88" fill="#ff4000"/>
<rect x="491" y="62.96" width="36.5" height="5.88" fill="#ff3000"/>
<rect x="491" y="57.68" width="36.5" height="5.88" fill="#ff2000"/>
<rect x="491" y="52.4" width="36.5" height="5.88" fill="#ff1000"/>
<rect x="491" y="47.12" width="36.5" height="5.88" fill="#ff0000"/>
<rect x="491" y="41.85" width="36.5" height="5.88" fill="#ef0000"/>
<rect x="491" y="36.57" width="36.5" height="5.88" fill="#df0000"/>
<rect x="491" y="31.29" width="36.5" height="5.88" fill="#cf0000"/>
<rect x="491" y="26.01" width="36.5" height="5.88" fill="#bf0000"/>
<rect x="491" y="20.73" width="36.5" height="5.88" fill="#af0000"/>
<rect x="491" y="15.46" width="36.5" height="5.88" fill="#9f0000"/>
<rect x="491" y="10.18" width="36.5" height="5.88" fill="#8f0000"/>
<rect x="491" y="4.9" width="36.5" height="5.88" fill="#800000"/>
<rect x="491" y="5.2" width="36.5" height="337.8" fill="none" stroke="#3a3a3a" stroke-width="0.8"/>
<line x1="524.5" y1="343" x2="527.5" y2="343" stroke="#3a3a3a" stroke-width="1"/>
<text transform="translate(534.4 348.04) scale(1.25 1)" font-size="14" text-anchor="start" class="t">-80</text>
<line x1="524.5" y1="291.62" x2="527.5" y2="291.62" stroke="#3a3a3a" stroke-width="1"/>
<text transform="translate(534.4 296.66) scale(1.25 1)" font-size="14" text-anchor="start" class="t">-60</text>
<line x1="524.5" y1="240.25" x2="527.5" y2="240.25" stroke="#3a3a3a" stroke-width="1"/>
<text transform="translate(534.4 245.29) scale(1.25 1)" font-size="14" text-anchor="start" class="t">-40</text>
<line x1="524.5" y1="188.87" x2="527.5" y2="188.87" stroke="#3a3a3a" stroke-width="1"/>
<text transform="translate(534.4 193.91) scale(1.25 1)" font-size="14" text-anchor="start" class="t">-20</text>
<line x1="524.5" y1="137.49" x2="527.5" y2="137.49" stroke="#3a3a3a" stroke-width="1"/>
<text transform="translate(534.4 142.53) scale(1.25 1)" font-size="14" text-anchor="start" class="t">0</text>
<line x1="524.5" y1="86.12" x2="527.5" y2="86.12" stroke="#3a3a3a" stroke-width="1"/>
<text transform="translate(534.4 91.16) scale(1.25 1)" font-size="14" text-anchor="start" class="t">20</text>
<line x1="524.5" y1="34.74" x2="527.5" y2="34.74" stroke="#3a3a3a" stroke-width="1"/>
<text transform="translate(534.4 39.78) scale(1.25 1)" font-size="14" text-anchor="start" class="t">40</text>
<line x1="679.3" y1="254.8" x2="884.7" y2="188.8" stroke="#dedede" stroke-width="1"/>
<line x1="884.7" y1="188.8" x2="1041.9" y2="275.5" stroke="#dedede" stroke-width="1"/>
<line x1="679.3" y1="207.82" x2="884.7" y2="141.82" stroke="#dedede" stroke-width="1"/>
<line x1="884.7" y1="141.82" x2="1041.9" y2="228.52" stroke="#dedede" stroke-width="1"/>
<line x1="679.3" y1="160.84" x2="884.7" y2="94.84" stroke="#dedede" stroke-width="1"/>
<line x1="884.7" y1="94.84" x2="1041.9" y2="181.54" stroke="#dedede" stroke-width="1"/>
<line x1="679.3" y1="113.86" x2="884.7" y2="47.86" stroke="#dedede" stroke-width="1"/>
<line x1="884.7" y1="47.86" x2="1041.9" y2="134.56" stroke="#dedede" stroke-width="1"/>
<line x1="679.3" y1="66.88" x2="884.7" y2="0.88" stroke="#dedede" stroke-width="1"/>
<line x1="884.7" y1="0.88" x2="1041.9" y2="87.58" stroke="#dedede" stroke-width="1"/>
<line x1="782" y1="221.8" x2="782" y2="33.88" stroke="#dedede" stroke-width="1"/>
<line x1="884.7" y1="188.8" x2="884.7" y2="0.88" stroke="#dedede" stroke-width="1"/>
<line x1="1041.9" y1="275.5" x2="1041.9" y2="87.58" stroke="#dedede" stroke-width="1"/>
<line x1="963.3" y1="232.15" x2="963.3" y2="44.23" stroke="#dedede" stroke-width="1"/>
<line x1="939.2" y1="308.5" x2="782" y2="221.8" stroke="#dedede" stroke-width="1"/>
<line x1="1041.9" y1="275.5" x2="884.7" y2="188.8" stroke="#dedede" stroke-width="1"/>
<line x1="757.9" y1="298.15" x2="963.3" y2="232.15" stroke="#dedede" stroke-width="1"/>
<line x1="679.3" y1="254.8" x2="884.7" y2="188.8" stroke="#dedede" stroke-width="1"/>
<polygon points="882.29,135.36 892.56,132.06 884.7,127.73 874.43,131.03" fill="#0050ff" stroke="#000" stroke-width="1.3" stroke-linejoin="round"/>
<polygon points="872.02,138.66 882.29,135.36 874.43,131.03 864.16,134.33" fill="#0050ff" stroke="#000" stroke-width="1.3" stroke-linejoin="round"/>
<polygon points="890.15,139.7 900.42,136.4 892.56,132.06 882.29,135.36" fill="#0050ff" stroke="#000" stroke-width="1.3" stroke-linejoin="round"/>
<polygon points="861.75,141.96 872.02,138.66 864.16,134.33 853.89,137.63" fill="#0050ff" stroke="#000" stroke-width="1.3" stroke-linejoin="round"/>
<polygon points="879.88,145.35 890.15,139.7 882.29,135.36 872.02,138.66" fill="#0030ff" stroke="#000" stroke-width="1.3" stroke-linejoin="round"/>
<polygon points="898.01,146.38 908.28,143.08 900.42,136.4 890.15,139.7" fill="#0030ff" stroke="#000" stroke-width="1.3" stroke-linejoin="round"/>
<polygon points="851.48,147.61 861.75,141.96 853.89,137.63 843.62,140.93" fill="#0030ff" stroke="#000" stroke-width="1.3" stroke-linejoin="round"/>
<polygon points="905.87,163.63 916.14,160.33 908.28,143.08 898.01,146.38" fill="#0010ff" stroke="#000" stroke-width="1.3" stroke-linejoin="round"/>
<polygon points="887.74,162.6 898.01,146.38 890.15,139.7 879.88,145.35" fill="#0010ff" stroke="#000" stroke-width="1.3" stroke-linejoin="round"/>
<polygon points="869.61,148.64 879.88,145.35 872.02,138.66 861.75,141.96" fill="#0030ff" stroke="#000" stroke-width="1.3" stroke-linejoin="round"/>
<polygon points="913.73,174.55 924,171.25 916.14,160.33 905.87,163.63" fill="#0000bf" stroke="#000" stroke-width="1.3" stroke-linejoin="round"/>
<polygon points="895.6,173.51 905.87,163.63 898.01,146.38 887.74,162.6" fill="#0000bf" stroke="#000" stroke-width="1.3" stroke-linejoin="round"/>
<polygon points="877.47,165.9 887.74,162.6 879.88,145.35 869.61,148.64" fill="#0010ff" stroke="#000" stroke-width="1.3" stroke-linejoin="round"/>
<polygon points="859.34,164.86 869.61,148.64 861.75,141.96 851.48,147.61" fill="#0010ff" stroke="#000" stroke-width="1.3" stroke-linejoin="round"/>
<polygon points="841.21,150.91 851.48,147.61 843.62,140.93 833.35,144.23" fill="#0030ff" stroke="#000" stroke-width="1.3" stroke-linejoin="round"/>
<polygon points="885.33,176.81 895.6,173.51 887.74,162.6 877.47,165.9" fill="#0000bf" stroke="#000" stroke-width="1.3" stroke-linejoin="round"/>
<polygon points="903.46,177.85 913.73,174.55 905.87,163.63 895.6,173.51" fill="#0000bf" stroke="#000" stroke-width="1.3" stroke-linejoin="round"/>
<polygon points="867.2,175.78 877.47,165.9 869.61,148.64 859.34,164.86" fill="#0000bf" stroke="#000" stroke-width="1.3" stroke-linejoin="round"/>
<polygon points="921.59,178.88 931.86,175.58 924,171.25 913.73,174.55" fill="#0000bf" stroke="#000" stroke-width="1.3" stroke-linejoin="round"/>
<polygon points="849.07,168.16 859.34,164.86 851.48,147.61 841.21,150.91" fill="#0010ff" stroke="#000" stroke-width="1.3" stroke-linejoin="round"/>
<polygon points="856.93,179.08 867.2,175.78 859.34,164.86 849.07,168.16" fill="#0000bf" stroke="#000" stroke-width="1.3" stroke-linejoin="round"/>
<polygon points="875.06,180.11 885.33,176.81 877.47,165.9 867.2,175.78" fill="#0000bf" stroke="#000" stroke-width="1.3" stroke-linejoin="round"/>
<polygon points="830.94,154.21 841.21,150.91 833.35,144.23 823.08,147.53" fill="#0030ff" stroke="#000" stroke-width="1.3" stroke-linejoin="round"/>
<polygon points="893.19,181.15 903.46,177.85 895.6,173.51 885.33,176.81" fill="#0000bf" stroke="#000" stroke-width="1.3" stroke-linejoin="round"/>
<polygon points="911.32,182.18 921.59,178.88 913.73,174.55 903.46,177.85" fill="#0000bf" stroke="#000" stroke-width="1.3" stroke-linejoin="round"/>
<polygon points="838.8,171.46 849.07,168.16 841.21,150.91 830.94,154.21" fill="#0010ff" stroke="#000" stroke-width="1.3" stroke-linejoin="round"/>
<polygon points="820.67,170.43 830.94,154.21 823.08,147.53 812.81,153.18" fill="#0010ff" stroke="#000" stroke-width="1.3" stroke-linejoin="round"/>
<polygon points="929.45,183.22 939.72,179.92 931.86,175.58 921.59,178.88" fill="#0000bf" stroke="#000" stroke-width="1.3" stroke-linejoin="round"/>
<polygon points="864.79,183.41 875.06,180.11 867.2,175.78 856.93,179.08" fill="#0000bf" stroke="#000" stroke-width="1.3" stroke-linejoin="round"/>
<polygon points="846.66,182.38 856.93,179.08 849.07,168.16 838.8,171.46" fill="#0000bf" stroke="#000" stroke-width="1.3" stroke-linejoin="round"/>
<polygon points="828.53,181.34 838.8,171.46 830.94,154.21 820.67,170.43" fill="#0000bf" stroke="#000" stroke-width="1.3" stroke-linejoin="round"/>
<polygon points="882.92,184.45 893.19,181.15 885.33,176.81 875.06,180.11" fill="#0000bf" stroke="#000" stroke-width="1.3" stroke-linejoin="round"/>
<polygon points="810.4,173.73 820.67,170.43 812.81,153.18 802.54,156.47" fill="#0010ff" stroke="#000" stroke-width="1.3" stroke-linejoin="round"/>
<polygon points="901.05,185.48 911.32,182.18 903.46,177.85 893.19,181.15" fill="#0000bf" stroke="#000" stroke-width="1.3" stroke-linejoin="round"/>
<polygon points="818.26,184.64 828.53,181.34 820.67,170.43 810.4,173.73" fill="#0000bf" stroke="#000" stroke-width="1.3" stroke-linejoin="round"/>
<polygon points="836.39,185.68 846.66,182.38 838.8,171.46 828.53,181.34" fill="#0000bf" stroke="#000" stroke-width="1.3" stroke-linejoin="round"/>
<polygon points="919.18,186.52 929.45,183.22 921.59,178.88 911.32,182.18" fill="#0000bf" stroke="#000" stroke-width="1.3" stroke-linejoin="round"/>
<polygon points="800.13,183.61 810.4,173.73 802.54,156.47 792.27,172.69" fill="#0000bf" stroke="#000" stroke-width="1.3" stroke-linejoin="round"/>
<polygon points="854.52,186.71 864.79,183.41 856.93,179.08 846.66,182.38" fill="#0000bf" stroke="#000" stroke-width="1.3" stroke-linejoin="round"/>
<polygon points="937.31,187.55 947.58,184.25 939.72,179.92 929.45,183.22" fill="#0000bf" stroke="#000" stroke-width="1.3" stroke-linejoin="round"/>
<polygon points="872.65,187.75 882.92,184.45 875.06,180.11 864.79,183.41" fill="#0000bf" stroke="#000" stroke-width="1.3" stroke-linejoin="round"/>
<polygon points="789.86,186.91 800.13,183.61 792.27,172.69 782,175.99" fill="#0000bf" stroke="#000" stroke-width="1.3" stroke-linejoin="round"/>
<polygon points="807.99,187.94 818.26,184.64 810.4,173.73 800.13,183.61" fill="#0000bf" stroke="#000" stroke-width="1.3" stroke-linejoin="round"/>
<polygon points="890.78,188.78 901.05,185.48 893.19,181.15 882.92,184.45" fill="#0000bf" stroke="#000" stroke-width="1.3" stroke-linejoin="round"/>
<polygon points="826.12,188.98 836.39,185.68 828.53,181.34 818.26,184.64" fill="#0000bf" stroke="#000" stroke-width="1.3" stroke-linejoin="round"/>
<polygon points="908.91,189.82 919.18,186.52 911.32,182.18 901.05,185.48" fill="#0000bf" stroke="#000" stroke-width="1.3" stroke-linejoin="round"/>
<polygon points="844.25,190.01 854.52,186.71 846.66,182.38 836.39,185.68" fill="#0000bf" stroke="#000" stroke-width="1.3" stroke-linejoin="round"/>
<polygon points="927.04,190.85 937.31,187.55 929.45,183.22 919.18,186.52" fill="#0000bf" stroke="#000" stroke-width="1.3" stroke-linejoin="round"/>
<polygon points="779.59,190.21 789.86,186.91 782,175.99 771.73,185.87" fill="#0000bf" stroke="#000" stroke-width="1.3" stroke-linejoin="round"/>
<polygon points="862.38,191.05 872.65,187.75 864.79,183.41 854.52,186.71" fill="#0000bf" stroke="#000" stroke-width="1.3" stroke-linejoin="round"/>
<polygon points="797.72,191.24 807.99,187.94 800.13,183.61 789.86,186.91" fill="#0000bf" stroke="#000" stroke-width="1.3" stroke-linejoin="round"/>
<polygon points="945.17,191.89 955.44,188.59 947.58,184.25 937.31,187.55" fill="#0000bf" stroke="#000" stroke-width="1.3" stroke-linejoin="round"/>
<polygon points="880.51,192.08 890.78,188.78 882.92,184.45 872.65,187.75" fill="#0000bf" stroke="#000" stroke-width="1.3" stroke-linejoin="round"/>
<polygon points="815.85,192.28 826.12,188.98 818.26,184.64 807.99,187.94" fill="#0000bf" stroke="#000" stroke-width="1.3" stroke-linejoin="round"/>
<polygon points="898.64,193.12 908.91,189.82 901.05,185.48 890.78,188.78" fill="#0000bf" stroke="#000" stroke-width="1.3" stroke-linejoin="round"/>
<polygon points="833.98,193.31 844.25,190.01 836.39,185.68 826.12,188.98" fill="#0000bf" stroke="#000" stroke-width="1.3" stroke-linejoin="round"/>
<polygon points="769.32,193.51 779.59,190.21 771.73,185.87 761.46,189.17" fill="#0000bf" stroke="#000" stroke-width="1.3" stroke-linejoin="round"/>
<polygon points="916.77,194.15 927.04,190.85 919.18,186.52 908.91,189.82" fill="#0000bf" stroke="#000" stroke-width="1.3" stroke-linejoin="round"/>
<polygon points="852.11,194.35 862.38,191.05 854.52,186.71 844.25,190.01" fill="#0000bf" stroke="#000" stroke-width="1.3" stroke-linejoin="round"/>
<polygon points="787.45,194.54 797.72,191.24 789.86,186.91 779.59,190.21" fill="#0000bf" stroke="#000" stroke-width="1.3" stroke-linejoin="round"/>
<polygon points="934.9,195.19 945.17,191.89 937.31,187.55 927.04,190.85" fill="#0000bf" stroke="#000" stroke-width="1.3" stroke-linejoin="round"/>
<polygon points="870.24,195.38 880.51,192.08 872.65,187.75 862.38,191.05" fill="#0000bf" stroke="#000" stroke-width="1.3" stroke-linejoin="round"/>
<polygon points="805.58,195.58 815.85,192.28 807.99,187.94 797.72,191.24" fill="#0000bf" stroke="#000" stroke-width="1.3" stroke-linejoin="round"/>
<polygon points="953.03,196.22 963.3,192.92 955.44,188.59 945.17,191.89" fill="#0000bf" stroke="#000" stroke-width="1.3" stroke-linejoin="round"/>
<polygon points="888.37,196.42 898.64,193.12 890.78,188.78 880.51,192.08" fill="#0000bf" stroke="#000" stroke-width="1.3" stroke-linejoin="round"/>
<polygon points="823.71,196.61 833.98,193.31 826.12,188.98 815.85,192.28" fill="#0000bf" stroke="#000" stroke-width="1.3" stroke-linejoin="round"/>
<polygon points="759.05,196.81 769.32,193.51 761.46,189.17 751.19,192.47" fill="#0000bf" stroke="#000" stroke-width="1.3" stroke-linejoin="round"/>
<polygon points="906.5,197.45 916.77,194.15 908.91,189.82 898.64,193.12" fill="#0000bf" stroke="#000" stroke-width="1.3" stroke-linejoin="round"/>
<polygon points="841.84,197.65 852.11,194.35 844.25,190.01 833.98,193.31" fill="#0000bf" stroke="#000" stroke-width="1.3" stroke-linejoin="round"/>
<polygon points="777.18,197.84 787.45,194.54 779.59,190.21 769.32,193.51" fill="#0000bf" stroke="#000" stroke-width="1.3" stroke-linejoin="round"/>
<polygon points="924.63,198.49 934.9,195.19 927.04,190.85 916.77,194.15" fill="#0000bf" stroke="#000" stroke-width="1.3" stroke-linejoin="round"/>
<polygon points="859.97,198.68 870.24,195.38 862.38,191.05 852.11,194.35" fill="#0000bf" stroke="#000" stroke-width="1.3" stroke-linejoin="round"/>
<polygon points="795.31,198.88 805.58,195.58 797.72,191.24 787.45,194.54" fill="#0000bf" stroke="#000" stroke-width="1.3" stroke-linejoin="round"/>
<polygon points="942.76,199.52 953.03,196.22 945.17,191.89 934.9,195.19" fill="#0000bf" stroke="#000" stroke-width="1.3" stroke-linejoin="round"/>
<polygon points="878.1,199.72 888.37,196.42 880.51,192.08 870.24,195.38" fill="#0000bf" stroke="#000" stroke-width="1.3" stroke-linejoin="round"/>
<polygon points="813.44,199.91 823.71,196.61 815.85,192.28 805.58,195.58" fill="#0000bf" stroke="#000" stroke-width="1.3" stroke-linejoin="round"/>
<polygon points="748.78,200.11 759.05,196.81 751.19,192.47 740.92,195.77" fill="#0000bf" stroke="#000" stroke-width="1.3" stroke-linejoin="round"/>
<polygon points="960.89,200.56 971.16,197.26 963.3,192.92 953.03,196.22" fill="#0000bf" stroke="#000" stroke-width="1.3" stroke-linejoin="round"/>
<polygon points="896.23,200.75 906.5,197.45 898.64,193.12 888.37,196.42" fill="#0000bf" stroke="#000" stroke-width="1.3" stroke-linejoin="round"/>
<polygon points="831.57,200.95 841.84,197.65 833.98,193.31 823.71,196.61" fill="#0000bf" stroke="#000" stroke-width="1.3" stroke-linejoin="round"/>
<polygon points="766.91,201.14 777.18,197.84 769.32,193.51 759.05,196.81" fill="#0000bf" stroke="#000" stroke-width="1.3" stroke-linejoin="round"/>
<polygon points="914.36,201.79 924.63,198.49 916.77,194.15 906.5,197.45" fill="#0000bf" stroke="#000" stroke-width="1.3" stroke-linejoin="round"/>
<polygon points="849.7,201.98 859.97,198.68 852.11,194.35 841.84,197.65" fill="#0000bf" stroke="#000" stroke-width="1.3" stroke-linejoin="round"/>
<polygon points="785.04,202.18 795.31,198.88 787.45,194.54 777.18,197.84" fill="#0000bf" stroke="#000" stroke-width="1.3" stroke-linejoin="round"/>
<polygon points="932.49,202.82 942.76,199.52 934.9,195.19 924.63,198.49" fill="#0000bf" stroke="#000" stroke-width="1.3" stroke-linejoin="round"/>
<polygon points="867.83,203.02 878.1,199.72 870.24,195.38 859.97,198.68" fill="#0000bf" stroke="#000" stroke-width="1.3" stroke-linejoin="round"/>
<polygon points="803.17,203.21 813.44,199.91 805.58,195.58 795.31,198.88" fill="#0000bf" stroke="#000" stroke-width="1.3" stroke-linejoin="round"/>
<polygon points="738.51,203.41 748.78,200.11 740.92,195.77 730.65,199.07" fill="#0000bf" stroke="#000" stroke-width="1.3" stroke-linejoin="round"/>
<polygon points="950.62,203.86 960.89,200.56 953.03,196.22 942.76,199.52" fill="#0000bf" stroke="#000" stroke-width="1.3" stroke-linejoin="round"/>
<polygon points="885.96,204.05 896.23,200.75 888.37,196.42 878.1,199.72" fill="#0000bf" stroke="#000" stroke-width="1.3" stroke-linejoin="round"/>
<polygon points="821.3,204.25 831.57,200.95 823.71,196.61 813.44,199.91" fill="#0000bf" stroke="#000" stroke-width="1.3" stroke-linejoin="round"/>
<polygon points="756.64,204.44 766.91,201.14 759.05,196.81 748.78,200.11" fill="#0000bf" stroke="#000" stroke-width="1.3" stroke-linejoin="round"/>
<polygon points="968.75,204.89 979.02,201.59 971.16,197.26 960.89,200.56" fill="#0000bf" stroke="#000" stroke-width="1.3" stroke-linejoin="round"/>
<polygon points="904.09,205.09 914.36,201.79 906.5,197.45 896.23,200.75" fill="#0000bf" stroke="#000" stroke-width="1.3" stroke-linejoin="round"/>
<polygon points="839.43,205.28 849.7,201.98 841.84,197.65 831.57,200.95" fill="#0000bf" stroke="#000" stroke-width="1.3" stroke-linejoin="round"/>
<polygon points="774.77,205.48 785.04,202.18 777.18,197.84 766.91,201.14" fill="#0000bf" stroke="#000" stroke-width="1.3" stroke-linejoin="round"/>
<polygon points="922.22,206.12 932.49,202.82 924.63,198.49 914.36,201.79" fill="#0000bf" stroke="#000" stroke-width="1.3" stroke-linejoin="round"/>
<polygon points="857.56,206.32 867.83,203.02 859.97,198.68 849.7,201.98" fill="#0000bf" stroke="#000" stroke-width="1.3" stroke-linejoin="round"/>
<polygon points="792.9,206.51 803.17,203.21 795.31,198.88 785.04,202.18" fill="#0000bf" stroke="#000" stroke-width="1.3" stroke-linejoin="round"/>
<polygon points="728.24,206.71 738.51,203.41 730.65,199.07 720.38,202.37" fill="#0000bf" stroke="#000" stroke-width="1.3" stroke-linejoin="round"/>
<polygon points="940.35,207.16 950.62,203.86 942.76,199.52 932.49,202.82" fill="#0000bf" stroke="#000" stroke-width="1.3" stroke-linejoin="round"/>
<polygon points="875.69,207.35 885.96,204.05 878.1,199.72 867.83,203.02" fill="#0000bf" stroke="#000" stroke-width="1.3" stroke-linejoin="round"/>
<polygon points="811.03,207.55 821.3,204.25 813.44,199.91 803.17,203.21" fill="#0000bf" stroke="#000" stroke-width="1.3" stroke-linejoin="round"/>
<polygon points="746.37,207.74 756.64,204.44 748.78,200.11 738.51,203.41" fill="#0000bf" stroke="#000" stroke-width="1.3" stroke-linejoin="round"/>
<polygon points="958.48,208.19 968.75,204.89 960.89,200.56 950.62,203.86" fill="#0000bf" stroke="#000" stroke-width="1.3" stroke-linejoin="round"/>
<polygon points="893.82,208.39 904.09,205.09 896.23,200.75 885.96,204.05" fill="#0000bf" stroke="#000" stroke-width="1.3" stroke-linejoin="round"/>
<polygon points="829.16,208.58 839.43,205.28 831.57,200.95 821.3,204.25" fill="#0000bf" stroke="#000" stroke-width="1.3" stroke-linejoin="round"/>
<polygon points="764.5,208.78 774.77,205.48 766.91,201.14 756.64,204.44" fill="#0000bf" stroke="#000" stroke-width="1.3" stroke-linejoin="round"/>
<polygon points="976.61,209.23 986.88,205.93 979.02,201.59 968.75,204.89" fill="#0000bf" stroke="#000" stroke-width="1.3" stroke-linejoin="round"/>
<polygon points="911.95,209.42 922.22,206.12 914.36,201.79 904.09,205.09" fill="#0000bf" stroke="#000" stroke-width="1.3" stroke-linejoin="round"/>
<polygon points="847.29,209.62 857.56,206.32 849.7,201.98 839.43,205.28" fill="#0000bf" stroke="#000" stroke-width="1.3" stroke-linejoin="round"/>
<polygon points="782.63,209.81 792.9,206.51 785.04,202.18 774.77,205.48" fill="#0000bf" stroke="#000" stroke-width="1.3" stroke-linejoin="round"/>
<polygon points="717.97,210.01 728.24,206.71 720.38,202.37 710.11,205.67" fill="#0000bf" stroke="#000" stroke-width="1.3" stroke-linejoin="round"/>
<polygon points="930.08,210.46 940.35,207.16 932.49,202.82 922.22,206.12" fill="#0000bf" stroke="#000" stroke-width="1.3" stroke-linejoin="round"/>
<polygon points="865.42,210.65 875.69,207.35 867.83,203.02 857.56,206.32" fill="#0000bf" stroke="#000" stroke-width="1.3" stroke-linejoin="round"/>
<polygon points="800.76,210.85 811.03,207.55 803.17,203.21 792.9,206.51" fill="#0000bf" stroke="#000" stroke-width="1.3" stroke-linejoin="round"/>
<polygon points="736.1,211.04 746.37,207.74 738.51,203.41 728.24,206.71" fill="#0000bf" stroke="#000" stroke-width="1.3" stroke-linejoin="round"/>
<polygon points="948.21,211.49 958.48,208.19 950.62,203.86 940.35,207.16" fill="#0000bf" stroke="#000" stroke-width="1.3" stroke-linejoin="round"/>
<polygon points="883.55,211.69 893.82,208.39 885.96,204.05 875.69,207.35" fill="#0000bf" stroke="#000" stroke-width="1.3" stroke-linejoin="round"/>
<polygon points="818.89,211.88 829.16,208.58 821.3,204.25 811.03,207.55" fill="#0000bf" stroke="#000" stroke-width="1.3" stroke-linejoin="round"/>
<polygon points="754.23,212.08 764.5,208.78 756.64,204.44 746.37,207.74" fill="#0000bf" stroke="#000" stroke-width="1.3" stroke-linejoin="round"/>
<polygon points="966.34,212.53 976.61,209.23 968.75,204.89 958.48,208.19" fill="#0000bf" stroke="#000" stroke-width="1.3" stroke-linejoin="round"/>
<polygon points="901.68,212.72 911.95,209.42 904.09,205.09 893.82,208.39" fill="#0000bf" stroke="#000" stroke-width="1.3" stroke-linejoin="round"/>
<polygon points="837.02,212.92 847.29,209.62 839.43,205.28 829.16,208.58" fill="#0000bf" stroke="#000" stroke-width="1.3" stroke-linejoin="round"/>
<polygon points="772.36,213.11 782.63,209.81 774.77,205.48 764.5,208.78" fill="#0000bf" stroke="#000" stroke-width="1.3" stroke-linejoin="round"/>
<polygon points="984.47,213.56 994.74,210.26 986.88,205.93 976.61,209.23" fill="#0000bf" stroke="#000" stroke-width="1.3" stroke-linejoin="round"/>
<polygon points="707.7,213.31 717.97,210.01 710.11,205.67 699.84,208.97" fill="#0000bf" stroke="#000" stroke-width="1.3" stroke-linejoin="round"/>
<polygon points="919.81,213.76 930.08,210.46 922.22,206.12 911.95,209.42" fill="#0000bf" stroke="#000" stroke-width="1.3" stroke-linejoin="round"/>
<polygon points="855.15,213.95 865.42,210.65 857.56,206.32 847.29,209.62" fill="#0000bf" stroke="#000" stroke-width="1.3" stroke-linejoin="round"/>
<polygon points="790.49,214.15 800.76,210.85 792.9,206.51 782.63,209.81" fill="#0000bf" stroke="#000" stroke-width="1.3" stroke-linejoin="round"/>
<polygon points="725.83,214.34 736.1,211.04 728.24,206.71 717.97,210.01" fill="#0000bf" stroke="#000" stroke-width="1.3" stroke-linejoin="round"/>
<polygon points="937.94,214.79 948.21,211.49 940.35,207.16 930.08,210.46" fill="#0000bf" stroke="#000" stroke-width="1.3" stroke-linejoin="round"/>
<polygon points="873.28,214.99 883.55,211.69 875.69,207.35 865.42,210.65" fill="#0000bf" stroke="#000" stroke-width="1.3" stroke-linejoin="round"/>
<polygon points="808.62,215.18 818.89,211.88 811.03,207.55 800.76,210.85" fill="#0000bf" stroke="#000" stroke-width="1.3" stroke-linejoin="round"/>
<polygon points="743.96,215.38 754.23,212.08 746.37,207.74 736.1,211.04" fill="#0000bf" stroke="#000" stroke-width="1.3" stroke-linejoin="round"/>
<polygon points="956.07,215.83 966.34,212.53 958.48,208.19 948.21,211.49" fill="#0000bf" stroke="#000" stroke-width="1.3" stroke-linejoin="round"/>
<polygon points="891.41,216.02 901.68,212.72 893.82,208.39 883.55,211.69" fill="#0000bf" stroke="#000" stroke-width="1.3" stroke-linejoin="round"/>
<polygon points="826.75,216.22 837.02,212.92 829.16,208.58 818.89,211.88" fill="#0000bf" stroke="#000" stroke-width="1.3" stroke-linejoin="round"/>
<polygon points="762.09,216.41 772.36,213.11 764.5,208.78 754.23,212.08" fill="#0000bf" stroke="#000" stroke-width="1.3" stroke-linejoin="round"/>
<polygon points="974.2,216.86 984.47,213.56 976.61,209.23 966.34,212.53" fill="#0000bf" stroke="#000" stroke-width="1.3" stroke-linejoin="round"/>
<polygon points="909.54,217.06 919.81,213.76 911.95,209.42 901.68,212.72" fill="#0000bf" stroke="#000" stroke-width="1.3" stroke-linejoin="round"/>
<polygon points="844.88,217.25 855.15,213.95 847.29,209.62 837.02,212.92" fill="#0000bf" stroke="#000" stroke-width="1.3" stroke-linejoin="round"/>
<polygon points="780.22,217.45 790.49,214.15 782.63,209.81 772.36,213.11" fill="#0000bf" stroke="#000" stroke-width="1.3" stroke-linejoin="round"/>
<polygon points="992.33,217.9 1002.6,214.6 994.74,210.26 984.47,213.56" fill="#0000bf" stroke="#000" stroke-width="1.3" stroke-linejoin="round"/>
<polygon points="715.56,217.64 725.83,214.34 717.97,210.01 707.7,213.31" fill="#0000bf" stroke="#000" stroke-width="1.3" stroke-linejoin="round"/>
<polygon points="927.67,218.09 937.94,214.79 930.08,210.46 919.81,213.76" fill="#0000bf" stroke="#000" stroke-width="1.3" stroke-linejoin="round"/>
<polygon points="863.01,218.29 873.28,214.99 865.42,210.65 855.15,213.95" fill="#0000bf" stroke="#000" stroke-width="1.3" stroke-linejoin="round"/>
<polygon points="798.35,218.48 808.62,215.18 800.76,210.85 790.49,214.15" fill="#0000bf" stroke="#000" stroke-width="1.3" stroke-linejoin="round"/>
<polygon points="733.69,218.68 743.96,215.38 736.1,211.04 725.83,214.34" fill="#0000bf" stroke="#000" stroke-width="1.3" stroke-linejoin="round"/>
<polygon points="945.8,219.13 956.07,215.83 948.21,211.49 937.94,214.79" fill="#0000bf" stroke="#000" stroke-width="1.3" stroke-linejoin="round"/>
<polygon points="881.14,219.32 891.41,216.02 883.55,211.69 873.28,214.99" fill="#0000bf" stroke="#000" stroke-width="1.3" stroke-linejoin="round"/>
<polygon points="816.48,219.52 826.75,216.22 818.89,211.88 808.62,215.18" fill="#0000bf" stroke="#000" stroke-width="1.3" stroke-linejoin="round"/>
<polygon points="751.82,219.71 762.09,216.41 754.23,212.08 743.96,215.38" fill="#0000bf" stroke="#000" stroke-width="1.3" stroke-linejoin="round"/>
<polygon points="963.93,220.16 974.2,216.86 966.34,212.53 956.07,215.83" fill="#0000bf" stroke="#000" stroke-width="1.3" stroke-linejoin="round"/>
<polygon points="899.27,220.36 909.54,217.06 901.68,212.72 891.41,216.02" fill="#0000bf" stroke="#000" stroke-width="1.3" stroke-linejoin="round"/>
<polygon points="834.61,220.55 844.88,217.25 837.02,212.92 826.75,216.22" fill="#0000bf" stroke="#000" stroke-width="1.3" stroke-linejoin="round"/>
<polygon points="769.95,220.75 780.22,217.45 772.36,213.11 762.09,216.41" fill="#0000bf" stroke="#000" stroke-width="1.3" stroke-linejoin="round"/>
<polygon points="982.06,221.2 992.33,217.9 984.47,213.56 974.2,216.86" fill="#0000bf" stroke="#000" stroke-width="1.3" stroke-linejoin="round"/>
<polygon points="917.4,221.39 927.67,218.09 919.81,213.76 909.54,217.06" fill="#0000bf" stroke="#000" stroke-width="1.3" stroke-linejoin="round"/>
<polygon points="852.74,221.59 863.01,218.29 855.15,213.95 844.88,217.25" fill="#0000bf" stroke="#000" stroke-width="1.3" stroke-linejoin="round"/>
<polygon points="788.08,221.78 798.35,218.48 790.49,214.15 780.22,217.45" fill="#0000bf" stroke="#000" stroke-width="1.3" stroke-linejoin="round"/>
<polygon points="1000.19,222.23 1010.46,218.93 1002.6,214.6 992.33,217.9" fill="#0000bf" stroke="#000" stroke-width="1.3" stroke-linejoin="round"/>
<polygon points="723.42,221.98 733.69,218.68 725.83,214.34 715.56,217.64" fill="#0000bf" stroke="#000" stroke-width="1.3" stroke-linejoin="round"/>
<polygon points="935.53,222.43 945.8,219.13 937.94,214.79 927.67,218.09" fill="#0000bf" stroke="#000" stroke-width="1.3" stroke-linejoin="round"/>
<polygon points="870.87,222.62 881.14,219.32 873.28,214.99 863.01,218.29" fill="#0000bf" stroke="#000" stroke-width="1.3" stroke-linejoin="round"/>
<polygon points="806.21,222.82 816.48,219.52 808.62,215.18 798.35,218.48" fill="#0000bf" stroke="#000" stroke-width="1.3" stroke-linejoin="round"/>
<polygon points="741.55,223.01 751.82,219.71 743.96,215.38 733.69,218.68" fill="#0000bf" stroke="#000" stroke-width="1.3" stroke-linejoin="round"/>
<polygon points="953.66,223.46 963.93,220.16 956.07,215.83 945.8,219.13" fill="#0000bf" stroke="#000" stroke-width="1.3" stroke-linejoin="round"/>
<polygon points="889,223.66 899.27,220.36 891.41,216.02 881.14,219.32" fill="#0000bf" stroke="#000" stroke-width="1.3" stroke-linejoin="round"/>
<polygon points="824.34,223.85 834.61,220.55 826.75,216.22 816.48,219.52" fill="#0000bf" stroke="#000" stroke-width="1.3" stroke-linejoin="round"/>
<polygon points="759.68,224.05 769.95,220.75 762.09,216.41 751.82,219.71" fill="#0000bf" stroke="#000" stroke-width="1.3" stroke-linejoin="round"/>
<polygon points="971.79,224.5 982.06,221.2 974.2,216.86 963.93,220.16" fill="#0000bf" stroke="#000" stroke-width="1.3" stroke-linejoin="round"/>
<polygon points="907.13,224.69 917.4,221.39 909.54,217.06 899.27,220.36" fill="#0000bf" stroke="#000" stroke-width="1.3" stroke-linejoin="round"/>
<polygon points="842.47,224.89 852.74,221.59 844.88,217.25 834.61,220.55" fill="#0000bf" stroke="#000" stroke-width="1.3" stroke-linejoin="round"/>
<polygon points="777.81,225.08 788.08,221.78 780.22,217.45 769.95,220.75" fill="#0000bf" stroke="#000" stroke-width="1.3" stroke-linejoin="round"/>
<polygon points="989.92,225.53 1000.19,222.23 992.33,217.9 982.06,221.2" fill="#0000bf" stroke="#000" stroke-width="1.3" stroke-linejoin="round"/>
<polygon points="925.26,225.73 935.53,222.43 927.67,218.09 917.4,221.39" fill="#0000bf" stroke="#000" stroke-width="1.3" stroke-linejoin="round"/>
<polygon points="860.6,225.92 870.87,222.62 863.01,218.29 852.74,221.59" fill="#0000bf" stroke="#000" stroke-width="1.3" stroke-linejoin="round"/>
<polygon points="795.94,226.12 806.21,222.82 798.35,218.48 788.08,221.78" fill="#0000bf" stroke="#000" stroke-width="1.3" stroke-linejoin="round"/>
<polygon points="1008.05,226.57 1018.32,223.27 1010.46,218.93 1000.19,222.23" fill="#0000bf" stroke="#000" stroke-width="1.3" stroke-linejoin="round"/>
<polygon points="731.28,226.31 741.55,223.01 733.69,218.68 723.42,221.98" fill="#0000bf" stroke="#000" stroke-width="1.3" stroke-linejoin="round"/>
<polygon points="943.39,226.76 953.66,223.46 945.8,219.13 935.53,222.43" fill="#0000bf" stroke="#000" stroke-width="1.3" stroke-linejoin="round"/>
<polygon points="878.73,226.96 889,223.66 881.14,219.32 870.87,222.62" fill="#0000bf" stroke="#000" stroke-width="1.3" stroke-linejoin="round"/>
<polygon points="814.07,227.15 824.34,223.85 816.48,219.52 806.21,222.82" fill="#0000bf" stroke="#000" stroke-width="1.3" stroke-linejoin="round"/>
<polygon points="749.41,227.35 759.68,224.05 751.82,219.71 741.55,223.01" fill="#0000bf" stroke="#000" stroke-width="1.3" stroke-linejoin="round"/>
<polygon points="961.52,227.8 971.79,224.5 963.93,220.16 953.66,223.46" fill="#0000bf" stroke="#000" stroke-width="1.3" stroke-linejoin="round"/>
<polygon points="896.86,227.99 907.13,224.69 899.27,220.36 889,223.66" fill="#0000bf" stroke="#000" stroke-width="1.3" stroke-linejoin="round"/>
<polygon points="832.2,228.19 842.47,224.89 834.61,220.55 824.34,223.85" fill="#0000bf" stroke="#000" stroke-width="1.3" stroke-linejoin="round"/>
<polygon points="767.54,228.38 777.81,225.08 769.95,220.75 759.68,224.05" fill="#0000bf" stroke="#000" stroke-width="1.3" stroke-linejoin="round"/>
<polygon points="979.65,228.83 989.92,225.53 982.06,221.2 971.79,224.5" fill="#0000bf" stroke="#000" stroke-width="1.3" stroke-linejoin="round"/>
<polygon points="914.99,229.03 925.26,225.73 917.4,221.39 907.13,224.69" fill="#0000bf" stroke="#000" stroke-width="1.3" stroke-linejoin="round"/>
<polygon points="850.33,229.22 860.6,225.92 852.74,221.59 842.47,224.89" fill="#0000bf" stroke="#000" stroke-width="1.3" stroke-linejoin="round"/>
<polygon points="785.67,229.42 795.94,226.12 788.08,221.78 777.81,225.08" fill="#0000bf" stroke="#000" stroke-width="1.3" stroke-linejoin="round"/>
<polygon points="997.78,229.87 1008.05,226.57 1000.19,222.23 989.92,225.53" fill="#0000bf" stroke="#000" stroke-width="1.3" stroke-linejoin="round"/>
<polygon points="933.12,230.06 943.39,226.76 935.53,222.43 925.26,225.73" fill="#0000bf" stroke="#000" stroke-width="1.3" stroke-linejoin="round"/>
<polygon points="868.46,230.26 878.73,226.96 870.87,222.62 860.6,225.92" fill="#0000bf" stroke="#000" stroke-width="1.3" stroke-linejoin="round"/>
<polygon points="803.8,230.45 814.07,227.15 806.21,222.82 795.94,226.12" fill="#0000bf" stroke="#000" stroke-width="1.3" stroke-linejoin="round"/>
<polygon points="1015.91,230.9 1026.18,227.6 1018.32,223.27 1008.05,226.57" fill="#0000bf" stroke="#000" stroke-width="1.3" stroke-linejoin="round"/>
<polygon points="739.14,230.65 749.41,227.35 741.55,223.01 731.28,226.31" fill="#0000bf" stroke="#000" stroke-width="1.3" stroke-linejoin="round"/>
<polygon points="951.25,231.1 961.52,227.8 953.66,223.46 943.39,226.76" fill="#0000bf" stroke="#000" stroke-width="1.3" stroke-linejoin="round"/>
<polygon points="886.59,231.29 896.86,227.99 889,223.66 878.73,226.96" fill="#0000bf" stroke="#000" stroke-width="1.3" stroke-linejoin="round"/>
<polygon points="821.93,231.49 832.2,228.19 824.34,223.85 814.07,227.15" fill="#0000bf" stroke="#000" stroke-width="1.3" stroke-linejoin="round"/>
<polygon points="757.27,231.68 767.54,228.38 759.68,224.05 749.41,227.35" fill="#0000bf" stroke="#000" stroke-width="1.3" stroke-linejoin="round"/>
<polygon points="969.38,232.13 979.65,228.83 971.79,224.5 961.52,227.8" fill="#0000bf" stroke="#000" stroke-width="1.3" stroke-linejoin="round"/>
<polygon points="904.72,232.33 914.99,229.03 907.13,224.69 896.86,227.99" fill="#0000bf" stroke="#000" stroke-width="1.3" stroke-linejoin="round"/>
<polygon points="840.06,232.52 850.33,229.22 842.47,224.89 832.2,228.19" fill="#0000bf" stroke="#000" stroke-width="1.3" stroke-linejoin="round"/>
<polygon points="775.4,232.72 785.67,229.42 777.81,225.08 767.54,228.38" fill="#0000bf" stroke="#000" stroke-width="1.3" stroke-linejoin="round"/>
<polygon points="987.51,233.17 997.78,229.87 989.92,225.53 979.65,228.83" fill="#0000bf" stroke="#000" stroke-width="1.3" stroke-linejoin="round"/>
<polygon points="922.85,233.36 933.12,230.06 925.26,225.73 914.99,229.03" fill="#0000bf" stroke="#000" stroke-width="1.3" stroke-linejoin="round"/>
<polygon points="858.19,233.56 868.46,230.26 860.6,225.92 850.33,229.22" fill="#0000bf" stroke="#000" stroke-width="1.3" stroke-linejoin="round"/>
<polygon points="793.53,233.75 803.8,230.45 795.94,226.12 785.67,229.42" fill="#0000bf" stroke="#000" stroke-width="1.3" stroke-linejoin="round"/>
<polygon points="1005.64,234.2 1015.91,230.9 1008.05,226.57 997.78,229.87" fill="#0000bf" stroke="#000" stroke-width="1.3" stroke-linejoin="round"/>
<polygon points="940.98,234.4 951.25,231.1 943.39,226.76 933.12,230.06" fill="#0000bf" stroke="#000" stroke-width="1.3" stroke-linejoin="round"/>
<polygon points="876.32,234.59 886.59,231.29 878.73,226.96 868.46,230.26" fill="#0000bf" stroke="#000" stroke-width="1.3" stroke-linejoin="round"/>
<polygon points="811.66,234.72 821.93,231.49 814.07,227.15 803.8,230.45" fill="#0000bf" stroke="#000" stroke-width="1.3" stroke-linejoin="round"/>
<polygon points="747,234.98 757.27,231.68 749.41,227.35 739.14,230.65" fill="#0000bf" stroke="#000" stroke-width="1.3" stroke-linejoin="round"/>
<polygon points="959.11,235.43 969.38,232.13 961.52,227.8 951.25,231.1" fill="#0000bf" stroke="#000" stroke-width="1.3" stroke-linejoin="round"/>
<polygon points="894.45,235.63 904.72,232.33 896.86,227.99 886.59,231.29" fill="#0000bf" stroke="#000" stroke-width="1.3" stroke-linejoin="round"/>
<polygon points="829.79,235.82 840.06,232.52 832.2,228.19 821.93,231.49" fill="#0000bf" stroke="#000" stroke-width="1.3" stroke-linejoin="round"/>
<polygon points="765.13,236.02 775.4,232.72 767.54,228.38 757.27,231.68" fill="#0000bf" stroke="#000" stroke-width="1.3" stroke-linejoin="round"/>
<polygon points="977.24,236.47 987.51,233.17 979.65,228.83 969.38,232.13" fill="#0000bf" stroke="#000" stroke-width="1.3" stroke-linejoin="round"/>
<polygon points="912.58,236.66 922.85,233.36 914.99,229.03 904.72,232.33" fill="#0000bf" stroke="#000" stroke-width="1.3" stroke-linejoin="round"/>
<polygon points="847.92,236.86 858.19,233.56 850.33,229.22 840.06,232.52" fill="#0000bf" stroke="#000" stroke-width="1.3" stroke-linejoin="round"/>
<polygon points="783.26,237.05 793.53,233.75 785.67,229.42 775.4,232.72" fill="#0000bf" stroke="#000" stroke-width="1.3" stroke-linejoin="round"/>
<polygon points="995.37,237.5 1005.64,234.2 997.78,229.87 987.51,233.17" fill="#0000bf" stroke="#000" stroke-width="1.3" stroke-linejoin="round"/>
<polygon points="930.71,237.7 940.98,234.4 933.12,230.06 922.85,233.36" fill="#0000bf" stroke="#000" stroke-width="1.3" stroke-linejoin="round"/>
<polygon points="866.05,237.89 876.32,234.59 868.46,230.26 858.19,233.56" fill="#0000bf" stroke="#000" stroke-width="1.3" stroke-linejoin="round"/>
<polygon points="801.39,237.86 811.66,234.72 803.8,230.45 793.53,233.75" fill="#0000bf" stroke="#000" stroke-width="1.3" stroke-linejoin="round"/>
<polygon points="948.84,238.73 959.11,235.43 951.25,231.1 940.98,234.4" fill="#0000bf" stroke="#000" stroke-width="1.3" stroke-linejoin="round"/>
<polygon points="884.18,238.93 894.45,235.63 886.59,231.29 876.32,234.59" fill="#0000bf" stroke="#000" stroke-width="1.3" stroke-linejoin="round"/>
<polygon points="819.52,238.78 829.79,235.82 821.93,231.49 811.66,234.72" fill="#0000bf" stroke="#000" stroke-width="1.3" stroke-linejoin="round"/>
<polygon points="754.86,239.32 765.13,236.02 757.27,231.68 747,234.98" fill="#0000bf" stroke="#000" stroke-width="1.3" stroke-linejoin="round"/>
<polygon points="966.97,239.77 977.24,236.47 969.38,232.13 959.11,235.43" fill="#0000bf" stroke="#000" stroke-width="1.3" stroke-linejoin="round"/>
<polygon points="902.31,239.96 912.58,236.66 904.72,232.33 894.45,235.63" fill="#0000bf" stroke="#000" stroke-width="1.3" stroke-linejoin="round"/>
<polygon points="837.65,240.16 847.92,236.86 840.06,232.52 829.79,235.82" fill="#0000bf" stroke="#000" stroke-width="1.3" stroke-linejoin="round"/>
<polygon points="772.99,240.35 783.26,237.05 775.4,232.72 765.13,236.02" fill="#0000bf" stroke="#000" stroke-width="1.3" stroke-linejoin="round"/>
<polygon points="985.1,240.8 995.37,237.5 987.51,233.17 977.24,236.47" fill="#0000bf" stroke="#000" stroke-width="1.3" stroke-linejoin="round"/>
<polygon points="920.44,241 930.71,237.7 922.85,233.36 912.58,236.66" fill="#0000bf" stroke="#000" stroke-width="1.3" stroke-linejoin="round"/>
<polygon points="855.78,241.19 866.05,237.89 858.19,233.56 847.92,236.86" fill="#0000bf" stroke="#000" stroke-width="1.3" stroke-linejoin="round"/>
<polygon points="791.12,241 801.39,237.86 793.53,233.75 783.26,237.05" fill="#0000bf" stroke="#000" stroke-width="1.3" stroke-linejoin="round"/>
<polygon points="938.57,242.03 948.84,238.73 940.98,234.4 930.71,237.7" fill="#0000bf" stroke="#000" stroke-width="1.3" stroke-linejoin="round"/>
<polygon points="873.91,242.23 884.18,238.93 876.32,234.59 866.05,237.89" fill="#0000bf" stroke="#000" stroke-width="1.3" stroke-linejoin="round"/>
<polygon points="809.25,241.23 819.52,238.78 811.66,234.72 801.39,237.86" fill="#0000bf" stroke="#000" stroke-width="1.3" stroke-linejoin="round"/>
<polygon points="956.7,243.07 966.97,239.77 959.11,235.43 948.84,238.73" fill="#0000bf" stroke="#000" stroke-width="1.3" stroke-linejoin="round"/>
<polygon points="892.04,243.26 902.31,239.96 894.45,235.63 884.18,238.93" fill="#0000bf" stroke="#000" stroke-width="1.3" stroke-linejoin="round"/>
<polygon points="827.38,242.97 837.65,240.16 829.79,235.82 819.52,238.78" fill="#0000bf" stroke="#000" stroke-width="1.3" stroke-linejoin="round"/>
<polygon points="762.72,243.65 772.99,240.35 765.13,236.02 754.86,239.32" fill="#0000bf" stroke="#000" stroke-width="1.3" stroke-linejoin="round"/>
<polygon points="974.83,244.1 985.1,240.8 977.24,236.47 966.97,239.77" fill="#0000bf" stroke="#000" stroke-width="1.3" stroke-linejoin="round"/>
<polygon points="910.17,244.3 920.44,241 912.58,236.66 902.31,239.96" fill="#0000bf" stroke="#000" stroke-width="1.3" stroke-linejoin="round"/>
<polygon points="845.51,244.49 855.78,241.19 847.92,236.86 837.65,240.16" fill="#0000bf" stroke="#000" stroke-width="1.3" stroke-linejoin="round"/>
<polygon points="780.85,244.14 791.12,241 783.26,237.05 772.99,240.35" fill="#0000bf" stroke="#000" stroke-width="1.3" stroke-linejoin="round"/>
<polygon points="928.3,245.33 938.57,242.03 930.71,237.7 920.44,241" fill="#0000bf" stroke="#000" stroke-width="1.3" stroke-linejoin="round"/>
<polygon points="863.64,245.53 873.91,242.23 866.05,237.89 855.78,241.19" fill="#0000bf" stroke="#000" stroke-width="1.3" stroke-linejoin="round"/>
<polygon points="798.98,243.67 809.25,241.23 801.39,237.86 791.12,241" fill="#0000bf" stroke="#000" stroke-width="1.3" stroke-linejoin="round"/>
<polygon points="946.43,246.37 956.7,243.07 948.84,238.73 938.57,242.03" fill="#0000bf" stroke="#000" stroke-width="1.3" stroke-linejoin="round"/>
<polygon points="881.77,246.56 892.04,243.26 884.18,238.93 873.91,242.23" fill="#0000bf" stroke="#000" stroke-width="1.3" stroke-linejoin="round"/>
<polygon points="817.11,245.04 827.38,242.97 819.52,238.78 809.25,241.23" fill="#0000bf" stroke="#000" stroke-width="1.3" stroke-linejoin="round"/>
<polygon points="964.56,247.4 974.83,244.1 966.97,239.77 956.7,243.07" fill="#0000bf" stroke="#000" stroke-width="1.3" stroke-linejoin="round"/>
<polygon points="899.9,247.6 910.17,244.3 902.31,239.96 892.04,243.26" fill="#0000bf" stroke="#000" stroke-width="1.3" stroke-linejoin="round"/>
<polygon points="835.24,248.05 845.51,244.49 837.65,240.16 827.38,242.97" fill="#0000bf" stroke="#000" stroke-width="1.3" stroke-linejoin="round"/>
<polygon points="770.58,247.28 780.85,244.14 772.99,240.35 762.72,243.65" fill="#0000bf" stroke="#000" stroke-width="1.3" stroke-linejoin="round"/>
<polygon points="918.03,248.63 928.3,245.33 920.44,241 910.17,244.3" fill="#0000bf" stroke="#000" stroke-width="1.3" stroke-linejoin="round"/>
<polygon points="853.37,248.83 863.64,245.53 855.78,241.19 845.51,244.49" fill="#0000bf" stroke="#000" stroke-width="1.3" stroke-linejoin="round"/>
<polygon points="936.16,249.67 946.43,246.37 938.57,242.03 928.3,245.33" fill="#0000bf" stroke="#000" stroke-width="1.3" stroke-linejoin="round"/>
<polygon points="788.71,246.12 798.98,243.67 791.12,241 780.85,244.14" fill="#0000bf" stroke="#000" stroke-width="1.3" stroke-linejoin="round"/>
<polygon points="871.5,249.86 881.77,246.56 873.91,242.23 863.64,245.53" fill="#0000bf" stroke="#000" stroke-width="1.3" stroke-linejoin="round"/>
<polygon points="954.29,250.7 964.56,247.4 956.7,243.07 946.43,246.37" fill="#0000bf" stroke="#000" stroke-width="1.3" stroke-linejoin="round"/>
<polygon points="806.84,247.11 817.11,245.04 809.25,241.23 798.98,243.67" fill="#0000bf" stroke="#000" stroke-width="1.3" stroke-linejoin="round"/>
<polygon points="889.63,250.9 899.9,247.6 892.04,243.26 881.77,246.56" fill="#0000bf" stroke="#000" stroke-width="1.3" stroke-linejoin="round"/>
<polygon points="824.97,251.99 835.24,248.05 827.38,242.97 817.11,245.04" fill="#0000bf" stroke="#000" stroke-width="1.3" stroke-linejoin="round"/>
<polygon points="907.76,251.93 918.03,248.63 910.17,244.3 899.9,247.6" fill="#0000bf" stroke="#000" stroke-width="1.3" stroke-linejoin="round"/>
<polygon points="843.1,252.92 853.37,248.83 845.51,244.49 835.24,248.05" fill="#0000bf" stroke="#000" stroke-width="1.3" stroke-linejoin="round"/>
<polygon points="925.89,252.97 936.16,249.67 928.3,245.33 918.03,248.63" fill="#0000bf" stroke="#000" stroke-width="1.3" stroke-linejoin="round"/>
<polygon points="778.44,248.56 788.71,246.12 780.85,244.14 770.58,247.28" fill="#0000bf" stroke="#000" stroke-width="1.3" stroke-linejoin="round"/>
<polygon points="861.23,253.16 871.5,249.86 863.64,245.53 853.37,248.83" fill="#0000bf" stroke="#000" stroke-width="1.3" stroke-linejoin="round"/>
<polygon points="944.02,254 954.29,250.7 946.43,246.37 936.16,249.67" fill="#0000bf" stroke="#000" stroke-width="1.3" stroke-linejoin="round"/>
<polygon points="879.36,254.2 889.63,250.9 881.77,246.56 871.5,249.86" fill="#0000bf" stroke="#000" stroke-width="1.3" stroke-linejoin="round"/>
<polygon points="796.57,249.18 806.84,247.11 798.98,243.67 788.71,246.12" fill="#0000bf" stroke="#000" stroke-width="1.3" stroke-linejoin="round"/>
<polygon points="814.7,255.93 824.97,251.99 817.11,245.04 806.84,247.11" fill="#0000bf" stroke="#000" stroke-width="1.3" stroke-linejoin="round"/>
<polygon points="832.83,258.19 843.1,252.92 835.24,248.05 824.97,251.99" fill="#0000bf" stroke="#000" stroke-width="1.3" stroke-linejoin="round"/>
<polygon points="897.49,255.23 907.76,251.93 899.9,247.6 889.63,250.9" fill="#0000bf" stroke="#000" stroke-width="1.3" stroke-linejoin="round"/>
<polygon points="915.62,256.27 925.89,252.97 918.03,248.63 907.76,251.93" fill="#0000bf" stroke="#000" stroke-width="1.3" stroke-linejoin="round"/>
<polygon points="850.96,257.25 861.23,253.16 853.37,248.83 843.1,252.92" fill="#0000bf" stroke="#000" stroke-width="1.3" stroke-linejoin="round"/>
<polygon points="933.75,257.3 944.02,254 936.16,249.67 925.89,252.97" fill="#0000bf" stroke="#000" stroke-width="1.3" stroke-linejoin="round"/>
<polygon points="869.09,257.5 879.36,254.2 871.5,249.86 861.23,253.16" fill="#0000bf" stroke="#000" stroke-width="1.3" stroke-linejoin="round"/>
<polygon points="822.56,263.47 832.83,258.19 824.97,251.99 814.7,255.93" fill="#0000bf" stroke="#000" stroke-width="1.3" stroke-linejoin="round"/>
<polygon points="804.43,259.87 814.7,255.93 806.84,247.11 796.57,249.18" fill="#0000bf" stroke="#000" stroke-width="1.3" stroke-linejoin="round"/>
<polygon points="786.3,251.25 796.57,249.18 788.71,246.12 778.44,248.56" fill="#0000bf" stroke="#000" stroke-width="1.3" stroke-linejoin="round"/>
<polygon points="887.22,258.53 897.49,255.23 889.63,250.9 879.36,254.2" fill="#0000bf" stroke="#000" stroke-width="1.3" stroke-linejoin="round"/>
<polygon points="840.69,262.53 850.96,257.25 843.1,252.92 832.83,258.19" fill="#0000bf" stroke="#000" stroke-width="1.3" stroke-linejoin="round"/>
<polygon points="905.35,259.57 915.62,256.27 907.76,251.93 897.49,255.23" fill="#0000bf" stroke="#000" stroke-width="1.3" stroke-linejoin="round"/>
<polygon points="923.48,260.6 933.75,257.3 925.89,252.97 915.62,256.27" fill="#0000bf" stroke="#000" stroke-width="1.3" stroke-linejoin="round"/>
<polygon points="858.82,261.48 869.09,257.5 861.23,253.16 850.96,257.25" fill="#0000bf" stroke="#000" stroke-width="1.3" stroke-linejoin="round"/>
<polygon points="812.29,268.74 822.56,263.47 814.7,255.93 804.43,259.87" fill="#0000bf" stroke="#000" stroke-width="1.3" stroke-linejoin="round"/>
<polygon points="794.16,263.81 804.43,259.87 796.57,249.18 786.3,251.25" fill="#0000bf" stroke="#000" stroke-width="1.3" stroke-linejoin="round"/>
<polygon points="876.95,261.83 887.22,258.53 879.36,254.2 869.09,257.5" fill="#0000bf" stroke="#000" stroke-width="1.3" stroke-linejoin="round"/>
<polygon points="830.42,267.8 840.69,262.53 832.83,258.19 822.56,263.47" fill="#0000bf" stroke="#000" stroke-width="1.3" stroke-linejoin="round"/>
<polygon points="895.08,262.87 905.35,259.57 897.49,255.23 887.22,258.53" fill="#0000bf" stroke="#000" stroke-width="1.3" stroke-linejoin="round"/>
<polygon points="848.55,266.49 858.82,261.48 850.96,257.25 840.69,262.53" fill="#0000bf" stroke="#000" stroke-width="1.3" stroke-linejoin="round"/>
<polygon points="802.02,274.02 812.29,268.74 804.43,259.87 794.16,263.81" fill="#0000bf" stroke="#000" stroke-width="1.3" stroke-linejoin="round"/>
<polygon points="913.21,263.9 923.48,260.6 915.62,256.27 905.35,259.57" fill="#0000bf" stroke="#000" stroke-width="1.3" stroke-linejoin="round"/>
<polygon points="820.15,273.08 830.42,267.8 822.56,263.47 812.29,268.74" fill="#0000bf" stroke="#000" stroke-width="1.3" stroke-linejoin="round"/>
<polygon points="866.68,265.6 876.95,261.83 869.09,257.5 858.82,261.48" fill="#0000bf" stroke="#000" stroke-width="1.3" stroke-linejoin="round"/>
<polygon points="884.81,266.17 895.08,262.87 887.22,258.53 876.95,261.83" fill="#0000bf" stroke="#000" stroke-width="1.3" stroke-linejoin="round"/>
<polygon points="838.28,271.5 848.55,266.49 840.69,262.53 830.42,267.8" fill="#0000bf" stroke="#000" stroke-width="1.3" stroke-linejoin="round"/>
<polygon points="902.94,267.2 913.21,263.9 905.35,259.57 895.08,262.87" fill="#0000bf" stroke="#000" stroke-width="1.3" stroke-linejoin="round"/>
<polygon points="809.88,278.35 820.15,273.08 812.29,268.74 802.02,274.02" fill="#0000bf" stroke="#000" stroke-width="1.3" stroke-linejoin="round"/>
<polygon points="856.41,270.08 866.68,265.6 858.82,261.48 848.55,266.49" fill="#0000bf" stroke="#000" stroke-width="1.3" stroke-linejoin="round"/>
<polygon points="828.01,276.51 838.28,271.5 830.42,267.8 820.15,273.08" fill="#0000bf" stroke="#000" stroke-width="1.3" stroke-linejoin="round"/>
<polygon points="874.54,269.77 884.81,266.17 876.95,261.83 866.68,265.6" fill="#0000bf" stroke="#000" stroke-width="1.3" stroke-linejoin="round"/>
<polygon points="892.67,270.5 902.94,267.2 895.08,262.87 884.81,266.17" fill="#0000bf" stroke="#000" stroke-width="1.3" stroke-linejoin="round"/>
<polygon points="846.14,274.55 856.41,270.08 848.55,266.49 838.28,271.5" fill="#0000bf" stroke="#000" stroke-width="1.3" stroke-linejoin="round"/>
<polygon points="817.74,281.51 828.01,276.51 820.15,273.08 809.88,278.35" fill="#0000bf" stroke="#000" stroke-width="1.3" stroke-linejoin="round"/>
<polygon points="864.27,273.81 874.54,269.77 866.68,265.6 856.41,270.08" fill="#0000bf" stroke="#000" stroke-width="1.3" stroke-linejoin="round"/>
<polygon points="835.87,279.03 846.14,274.55 838.28,271.5 828.01,276.51" fill="#0000bf" stroke="#000" stroke-width="1.3" stroke-linejoin="round"/>
<polygon points="882.4,273.95 892.67,270.5 884.81,266.17 874.54,269.77" fill="#0000bf" stroke="#000" stroke-width="1.3" stroke-linejoin="round"/>
<polygon points="854,277.86 864.27,273.81 856.41,270.08 846.14,274.55" fill="#0000bf" stroke="#000" stroke-width="1.3" stroke-linejoin="round"/>
<polygon points="825.6,283.5 835.87,279.03 828.01,276.51 817.74,281.51" fill="#0000bf" stroke="#000" stroke-width="1.3" stroke-linejoin="round"/>
<polygon points="872.13,277.62 882.4,273.95 874.54,269.77 864.27,273.81" fill="#0000bf" stroke="#000" stroke-width="1.3" stroke-linejoin="round"/>
<polygon points="843.73,281.91 854,277.86 846.14,274.55 835.87,279.03" fill="#0000bf" stroke="#000" stroke-width="1.3" stroke-linejoin="round"/>
<polygon points="861.86,281.3 872.13,277.62 864.27,273.81 854,277.86" fill="#0000bf" stroke="#000" stroke-width="1.3" stroke-linejoin="round"/>
<polygon points="833.46,285.96 843.73,281.91 835.87,279.03 825.6,283.5" fill="#0000bf" stroke="#000" stroke-width="1.3" stroke-linejoin="round"/>
<polygon points="851.59,284.97 861.86,281.3 854,277.86 843.73,281.91" fill="#0000bf" stroke="#000" stroke-width="1.3" stroke-linejoin="round"/>
<polygon points="841.32,288.65 851.59,284.97 843.73,281.91 833.46,285.96" fill="#0000bf" stroke="#000" stroke-width="1.3" stroke-linejoin="round"/>
<polygon points="800,162 809.75,126 821,44.25 831.5,54 851,48.75 863,59.25 871.9,78.9 889.6,84.5 896.9,96.6 905.7,108.7 910.6,138.5 914.6,161 912,157 900.5,155.5 809,162.2" fill="#0a32ff" stroke="#000" stroke-width="0.9" stroke-linejoin="round"/>
<polygon points="800,162 809.75,126 821,44.25 831.5,54 839,75 840.5,160.5" fill="#1a6cff" stroke="#000" stroke-width="0.9" stroke-linejoin="round"/>
<polygon points="821,44.25 831.5,54 839,75 836,100" fill="#1f78ff" stroke="#000" stroke-width="0.8" stroke-linejoin="round"/>
<line x1="821" y1="44.25" x2="827" y2="154.5" stroke="#000" stroke-width="0.8"/>
<line x1="809.75" y1="126" x2="819.5" y2="159" stroke="#000" stroke-width="0.8"/>
<line x1="838" y1="74" x2="846" y2="159.4" stroke="#000" stroke-width="0.8"/>
<line x1="848.5" y1="76.4" x2="846" y2="159.4" stroke="#000" stroke-width="0.8"/>
<line x1="859.8" y1="74.8" x2="856.6" y2="157" stroke="#000" stroke-width="0.8"/>
<line x1="869.5" y1="77.3" x2="867" y2="153" stroke="#000" stroke-width="0.8"/>
<line x1="875" y1="96.6" x2="867" y2="153" stroke="#000" stroke-width="0.8"/>
<line x1="878.3" y1="96.6" x2="883.2" y2="155.4" stroke="#000" stroke-width="0.8"/>
<line x1="888" y1="96.6" x2="894.5" y2="153.8" stroke="#000" stroke-width="0.8"/>
<line x1="905.7" y1="108.7" x2="896" y2="153" stroke="#000" stroke-width="0.8"/>
<polygon points="831.5,54 842,51 848.7,75.8 839,75" fill="#ff4a00" stroke="#000" stroke-width="0.9" stroke-linejoin="round"/>
<polygon points="842,51 851,48.75 861.5,75 848.7,75.8" fill="#ff8c00" stroke="#000" stroke-width="0.9" stroke-linejoin="round"/>
<polygon points="851,48.75 863,59.25 867.5,76 861.5,75" fill="#ff9a00" stroke="#000" stroke-width="0.9" stroke-linejoin="round"/>
<polygon points="863,59.25 873.5,65.25 878,79.5 867.5,76" fill="#ffb400" stroke="#000" stroke-width="0.9" stroke-linejoin="round"/>
<polygon points="873.5,65.25 881.75,66 888.5,82 878,79.5" fill="#ffff00" stroke="#000" stroke-width="0.9" stroke-linejoin="round"/>
<polygon points="871.9,78.9 881.6,83.7 886.4,95.8 877.5,95.4" fill="#c8ff30" stroke="#000" stroke-width="0.9" stroke-linejoin="round"/>
<polygon points="881.6,83.7 889.6,84.5 896.9,96.6 886.4,95.8" fill="#b0ff4a" stroke="#000" stroke-width="0.9" stroke-linejoin="round"/>
<line x1="679.3" y1="254.8" x2="679.3" y2="66.88" stroke="#6a6a6a" stroke-width="1.3"/>
<line x1="836.5" y1="341.5" x2="679.3" y2="254.8" stroke="#3a3a3a" stroke-width="1.3"/>
<line x1="836.5" y1="341.5" x2="1041.9" y2="275.5" stroke="#3a3a3a" stroke-width="1.3"/>
<line x1="679.3" y1="254.8" x2="675.02" y2="256.18" stroke="#3a3a3a" stroke-width="1.1"/>
<line x1="679.3" y1="207.82" x2="675.02" y2="209.2" stroke="#3a3a3a" stroke-width="1.1"/>
<line x1="679.3" y1="160.84" x2="675.02" y2="162.22" stroke="#3a3a3a" stroke-width="1.1"/>
<line x1="679.3" y1="113.86" x2="675.02" y2="115.24" stroke="#3a3a3a" stroke-width="1.1"/>
<line x1="679.3" y1="66.88" x2="675.02" y2="68.26" stroke="#3a3a3a" stroke-width="1.1"/>
<line x1="836.5" y1="341.5" x2="832.22" y2="342.88" stroke="#3a3a3a" stroke-width="1.1"/>
<line x1="757.9" y1="298.15" x2="753.62" y2="299.53" stroke="#3a3a3a" stroke-width="1.1"/>
<line x1="679.3" y1="254.8" x2="675.02" y2="256.18" stroke="#3a3a3a" stroke-width="1.1"/>
<line x1="836.5" y1="341.5" x2="840.44" y2="343.67" stroke="#3a3a3a" stroke-width="1.1"/>
<line x1="939.2" y1="308.5" x2="943.14" y2="310.67" stroke="#3a3a3a" stroke-width="1.1"/>
<line x1="1041.9" y1="275.5" x2="1045.84" y2="277.67" stroke="#3a3a3a" stroke-width="1.1"/>
<text transform="translate(668.5 255.34) scale(1.25 1)" font-size="14" text-anchor="end" class="t">-20</text>
<text transform="translate(668.5 208.36) scale(1.25 1)" font-size="14" text-anchor="end" class="t">0</text>
<text transform="translate(668.5 161.38) scale(1.25 1)" font-size="14" text-anchor="end" class="t">20</text>
<text transform="translate(668.5 114.4) scale(1.25 1)" font-size="14" text-anchor="end" class="t">40</text>
<text transform="translate(668.5 67.42) scale(1.25 1)" font-size="14" text-anchor="end" class="t">60</text>
<text transform="translate(820.75 358.79) scale(1.25 1)" font-size="14" text-anchor="middle" class="t">0</text>
<text transform="translate(734.9 316.19) scale(1.25 1)" font-size="14" text-anchor="middle" class="t">0.5</text>
<text transform="translate(661.95 273.29) scale(1.25 1)" font-size="14" text-anchor="middle" class="t">1</text>
<text transform="translate(851.5 361.04) scale(1.25 1)" font-size="14" text-anchor="middle" class="t">0</text>
<text transform="translate(962.95 328.04) scale(1.25 1)" font-size="14" text-anchor="middle" class="t">0.5</text>
<text transform="translate(1057.5 294.84) scale(1.25 1)" font-size="14" text-anchor="middle" class="t">1</text>
<text transform="translate(684 352.58) scale(1.25 1)" font-size="15.5" text-anchor="middle" class="t">FinS</text>
<text transform="translate(1001.2 372.08) scale(1.25 1)" font-size="15.5" text-anchor="middle" class="t">EPU</text>
<rect x="1096" y="335.99" width="36" height="5.91" fill="#00008f"/>
<rect x="1096" y="330.69" width="36" height="5.91" fill="#00009f"/>
<rect x="1096" y="325.38" width="36" height="5.91" fill="#0000af"/>
<rect x="1096" y="320.08" width="36" height="5.91" fill="#0000bf"/>
<rect x="1096" y="314.77" width="36" height="5.91" fill="#0000cf"/>
<rect x="1096" y="309.46" width="36" height="5.91" fill="#0000df"/>
<rect x="1096" y="304.16" width="36" height="5.91" fill="#0000ef"/>
<rect x="1096" y="298.85" width="36" height="5.91" fill="#0000ff"/>
<rect x="1096" y="293.54" width="36" height="5.91" fill="#0010ff"/>
<rect x="1096" y="288.24" width="36" height="5.91" fill="#0020ff"/>
<rect x="1096" y="282.93" width="36" height="5.91" fill="#0030ff"/>
<rect x="1096" y="277.63" width="36" height="5.91" fill="#0040ff"/>
<rect x="1096" y="272.32" width="36" height="5.91" fill="#0050ff"/>
<rect x="1096" y="267.01" width="36" height="5.91" fill="#0060ff"/>
<rect x="1096" y="261.71" width="36" height="5.91" fill="#0070ff"/>
<rect x="1096" y="256.4" width="36" height="5.91" fill="#0080ff"/>
<rect x="1096" y="251.09" width="36" height="5.91" fill="#008fff"/>
<rect x="1096" y="245.79" width="36" height="5.91" fill="#009fff"/>
<rect x="1096" y="240.48" width="36" height="5.91" fill="#00afff"/>
<rect x="1096" y="235.17" width="36" height="5.91" fill="#00bfff"/>
<rect x="1096" y="229.87" width="36" height="5.91" fill="#00cfff"/>
<rect x="1096" y="224.56" width="36" height="5.91" fill="#00dfff"/>
<rect x="1096" y="219.26" width="36" height="5.91" fill="#00efff"/>
<rect x="1096" y="213.95" width="36" height="5.91" fill="#00ffff"/>
<rect x="1096" y="208.64" width="36" height="5.91" fill="#10ffef"/>
<rect x="1096" y="203.34" width="36" height="5.91" fill="#20ffdf"/>
<rect x="1096" y="198.03" width="36" height="5.91" fill="#30ffcf"/>
<rect x="1096" y="192.72" width="36" height="5.91" fill="#40ffbf"/>
<rect x="1096" y="187.42" width="36" height="5.91" fill="#50ffaf"/>
<rect x="1096" y="182.11" width="36" height="5.91" fill="#60ff9f"/>
<rect x="1096" y="176.81" width="36" height="5.91" fill="#70ff8f"/>
<rect x="1096" y="171.5" width="36" height="5.91" fill="#80ff80"/>
<rect x="1096" y="166.19" width="36" height="5.91" fill="#8fff70"/>
<rect x="1096" y="160.89" width="36" height="5.91" fill="#9fff60"/>
<rect x="1096" y="155.58" width="36" height="5.91" fill="#afff50"/>
<rect x="1096" y="150.28" width="36" height="5.91" fill="#bfff40"/>
<rect x="1096" y="144.97" width="36" height="5.91" fill="#cfff30"/>
<rect x="1096" y="139.66" width="36" height="5.91" fill="#dfff20"/>
<rect x="1096" y="134.36" width="36" height="5.91" fill="#efff10"/>
<rect x="1096" y="129.05" width="36" height="5.91" fill="#ffff00"/>
<rect x="1096" y="123.74" width="36" height="5.91" fill="#ffef00"/>
<rect x="1096" y="118.44" width="36" height="5.91" fill="#ffdf00"/>
<rect x="1096" y="113.13" width="36" height="5.91" fill="#ffcf00"/>
<rect x="1096" y="107.83" width="36" height="5.91" fill="#ffbf00"/>
<rect x="1096" y="102.52" width="36" height="5.91" fill="#ffaf00"/>
<rect x="1096" y="97.21" width="36" height="5.91" fill="#ff9f00"/>
<rect x="1096" y="91.91" width="36" height="5.91" fill="#ff8f00"/>
<rect x="1096" y="86.6" width="36" height="5.91" fill="#ff8000"/>
<rect x="1096" y="81.29" width="36" height="5.91" fill="#ff7000"/>
<rect x="1096" y="75.99" width="36" height="5.91" fill="#ff6000"/>
<rect x="1096" y="70.68" width="36" height="5.91" fill="#ff5000"/>
<rect x="1096" y="65.37" width="36" height="5.91" fill="#ff4000"/>
<rect x="1096" y="60.07" width="36" height="5.91" fill="#ff3000"/>
<rect x="1096" y="54.76" width="36" height="5.91" fill="#ff2000"/>
<rect x="1096" y="49.46" width="36" height="5.91" fill="#ff1000"/>
<rect x="1096" y="44.15" width="36" height="5.91" fill="#ff0000"/>
<rect x="1096" y="38.84" width="36" height="5.91" fill="#ef0000"/>
<rect x="1096" y="33.54" width="36" height="5.91" fill="#df0000"/>
<rect x="1096" y="28.23" width="36" height="5.91" fill="#cf0000"/>
<rect x="1096" y="22.93" width="36" height="5.91" fill="#bf0000"/>
<rect x="1096" y="17.62" width="36" height="5.91" fill="#af0000"/>
<rect x="1096" y="12.31" width="36" height="5.91" fill="#9f0000"/>
<rect x="1096" y="7.01" width="36" height="5.91" fill="#8f0000"/>
<rect x="1096" y="1.7" width="36" height="5.91" fill="#800000"/>
<rect x="1096" y="2" width="36" height="339.6" fill="none" stroke="#3a3a3a" stroke-width="0.8"/>
<line x1="1129" y1="322.53" x2="1132" y2="322.53" stroke="#3a3a3a" stroke-width="1"/>
<text transform="translate(1138.7 327.57) scale(1.25 1)" font-size="14" text-anchor="start" class="t">0</text>
<line x1="1129" y1="292.75" x2="1132" y2="292.75" stroke="#3a3a3a" stroke-width="1"/>
<text transform="translate(1138.7 297.79) scale(1.25 1)" font-size="14" text-anchor="start" class="t">5</text>
<line x1="1129" y1="262.96" x2="1132" y2="262.96" stroke="#3a3a3a" stroke-width="1"/>
<text transform="translate(1138.7 268) scale(1.25 1)" font-size="14" text-anchor="start" class="t">10</text>
<line x1="1129" y1="233.17" x2="1132" y2="233.17" stroke="#3a3a3a" stroke-width="1"/>
<text transform="translate(1138.7 238.21) scale(1.25 1)" font-size="14" text-anchor="start" class="t">15</text>
<line x1="1129" y1="203.38" x2="1132" y2="203.38" stroke="#3a3a3a" stroke-width="1"/>
<text transform="translate(1138.7 208.42) scale(1.25 1)" font-size="14" text-anchor="start" class="t">20</text>
<line x1="1129" y1="173.59" x2="1132" y2="173.59" stroke="#3a3a3a" stroke-width="1"/>
<text transform="translate(1138.7 178.63) scale(1.25 1)" font-size="14" text-anchor="start" class="t">25</text>
<line x1="1129" y1="143.8" x2="1132" y2="143.8" stroke="#3a3a3a" stroke-width="1"/>
<text transform="translate(1138.7 148.84) scale(1.25 1)" font-size="14" text-anchor="start" class="t">30</text>
<line x1="1129" y1="114.01" x2="1132" y2="114.01" stroke="#3a3a3a" stroke-width="1"/>
<text transform="translate(1138.7 119.05) scale(1.25 1)" font-size="14" text-anchor="start" class="t">35</text>
<line x1="1129" y1="84.22" x2="1132" y2="84.22" stroke="#3a3a3a" stroke-width="1"/>
<text transform="translate(1138.7 89.26) scale(1.25 1)" font-size="14" text-anchor="start" class="t">40</text>
<line x1="1129" y1="54.43" x2="1132" y2="54.43" stroke="#3a3a3a" stroke-width="1"/>
<text transform="translate(1138.7 59.47) scale(1.25 1)" font-size="14" text-anchor="start" class="t">45</text>
<line x1="1129" y1="24.64" x2="1132" y2="24.64" stroke="#3a3a3a" stroke-width="1"/>
<text transform="translate(1138.7 29.68) scale(1.25 1)" font-size="14" text-anchor="start" class="t">50</text>
<line x1="92.6" y1="661.8" x2="276.1" y2="597.05" stroke="#dedede" stroke-width="1"/>
<line x1="276.1" y1="597.05" x2="417" y2="682.5" stroke="#dedede" stroke-width="1"/>
<line x1="92.6" y1="615.75" x2="276.1" y2="551" stroke="#dedede" stroke-width="1"/>
<line x1="276.1" y1="551" x2="417" y2="636.45" stroke="#dedede" stroke-width="1"/>
<line x1="92.6" y1="569.7" x2="276.1" y2="504.95" stroke="#dedede" stroke-width="1"/>
<line x1="276.1" y1="504.95" x2="417" y2="590.4" stroke="#dedede" stroke-width="1"/>
<line x1="92.6" y1="523.65" x2="276.1" y2="458.9" stroke="#dedede" stroke-width="1"/>
<line x1="276.1" y1="458.9" x2="417" y2="544.35" stroke="#dedede" stroke-width="1"/>
<line x1="92.6" y1="477.6" x2="276.1" y2="412.85" stroke="#dedede" stroke-width="1"/>
<line x1="276.1" y1="412.85" x2="417" y2="498.3" stroke="#dedede" stroke-width="1"/>
<line x1="184.35" y1="629.42" x2="184.35" y2="445.22" stroke="#dedede" stroke-width="1"/>
<line x1="276.1" y1="597.05" x2="276.1" y2="412.85" stroke="#dedede" stroke-width="1"/>
<line x1="417" y1="682.5" x2="417" y2="498.3" stroke="#dedede" stroke-width="1"/>
<line x1="346.55" y1="639.77" x2="346.55" y2="455.57" stroke="#dedede" stroke-width="1"/>
<line x1="325.25" y1="714.88" x2="184.35" y2="629.42" stroke="#dedede" stroke-width="1"/>
<line x1="417" y1="682.5" x2="276.1" y2="597.05" stroke="#dedede" stroke-width="1"/>
<line x1="163.05" y1="704.52" x2="346.55" y2="639.77" stroke="#dedede" stroke-width="1"/>
<line x1="92.6" y1="661.8" x2="276.1" y2="597.05" stroke="#dedede" stroke-width="1"/>
<polygon points="273.97,476.5 283.14,472.41 276.1,467.9 266.92,472.07" fill="#ff8f00" stroke="#000" stroke-width="1.3" stroke-linejoin="round"/>
<polygon points="264.79,480.12 273.97,476.5 266.92,472.07 257.75,475.89" fill="#ff8f00" stroke="#000" stroke-width="1.3" stroke-linejoin="round"/>
<polygon points="281.01,480.17 290.19,476.21 283.14,472.41 273.97,476.5" fill="#ff8000" stroke="#000" stroke-width="1.3" stroke-linejoin="round"/>
<polygon points="255.62,483.1 264.79,480.12 257.75,475.89 248.58,479.1" fill="#ff8f00" stroke="#000" stroke-width="1.3" stroke-linejoin="round"/>
<polygon points="271.84,483.57 281.01,480.17 273.97,476.5 264.79,480.12" fill="#ff8000" stroke="#000" stroke-width="1.3" stroke-linejoin="round"/>
<polygon points="288.06,483.65 297.24,479.87 290.19,476.21 281.01,480.17" fill="#ff8000" stroke="#000" stroke-width="1.3" stroke-linejoin="round"/>
<polygon points="246.45,485.55 255.62,483.1 248.58,479.1 239.4,481.71" fill="#ff8000" stroke="#000" stroke-width="1.3" stroke-linejoin="round"/>
<polygon points="262.67,486.33 271.84,483.57 264.79,480.12 255.62,483.1" fill="#ff8000" stroke="#000" stroke-width="1.3" stroke-linejoin="round"/>
<polygon points="278.88,486.82 288.06,483.65 281.01,480.17 271.84,483.57" fill="#ff8000" stroke="#000" stroke-width="1.3" stroke-linejoin="round"/>
<polygon points="295.1,488.9 304.28,485.32 297.24,479.87 288.06,483.65" fill="#ff8000" stroke="#000" stroke-width="1.3" stroke-linejoin="round"/>
<polygon points="237.27,487.84 246.45,485.55 239.4,481.71 230.22,484.01" fill="#ff8000" stroke="#000" stroke-width="1.3" stroke-linejoin="round"/>
<polygon points="253.49,488.67 262.67,486.33 255.62,483.1 246.45,485.55" fill="#ff8000" stroke="#000" stroke-width="1.3" stroke-linejoin="round"/>
<polygon points="269.71,489.39 278.88,486.82 271.84,483.57 262.67,486.33" fill="#ff7000" stroke="#000" stroke-width="1.3" stroke-linejoin="round"/>
<polygon points="285.93,491.83 295.1,488.9 288.06,483.65 278.88,486.82" fill="#ff8000" stroke="#000" stroke-width="1.3" stroke-linejoin="round"/>
<polygon points="228.09,490.43 237.27,487.84 230.22,484.01 221.05,486.44" fill="#ff7000" stroke="#000" stroke-width="1.3" stroke-linejoin="round"/>
<polygon points="302.15,493.94 311.32,490.59 304.28,485.32 295.1,488.9" fill="#ff8f00" stroke="#000" stroke-width="1.3" stroke-linejoin="round"/>
<polygon points="244.31,491.02 253.49,488.67 246.45,485.55 237.27,487.84" fill="#ff7000" stroke="#000" stroke-width="1.3" stroke-linejoin="round"/>
<polygon points="260.54,491.68 269.71,489.39 262.67,486.33 253.49,488.67" fill="#ff7000" stroke="#000" stroke-width="1.3" stroke-linejoin="round"/>
<polygon points="276.75,494.26 285.93,491.83 278.88,486.82 269.71,489.39" fill="#ff8000" stroke="#000" stroke-width="1.3" stroke-linejoin="round"/>
<polygon points="218.92,493.61 228.09,490.43 221.05,486.44 211.87,489.39" fill="#ff7000" stroke="#000" stroke-width="1.3" stroke-linejoin="round"/>
<polygon points="292.97,496.66 302.15,493.94 295.1,488.9 285.93,491.83" fill="#ff8f00" stroke="#000" stroke-width="1.3" stroke-linejoin="round"/>
<polygon points="309.19,498.21 318.37,495.09 311.32,490.59 302.15,493.94" fill="#ff8f00" stroke="#000" stroke-width="1.3" stroke-linejoin="round"/>
<polygon points="235.14,493.8 244.31,491.02 237.27,487.84 228.09,490.43" fill="#ff7000" stroke="#000" stroke-width="1.3" stroke-linejoin="round"/>
<polygon points="251.36,494.14 260.54,491.68 253.49,488.67 244.31,491.02" fill="#ff6000" stroke="#000" stroke-width="1.3" stroke-linejoin="round"/>
<polygon points="267.58,496.56 276.75,494.26 269.71,489.39 260.54,491.68" fill="#ff7000" stroke="#000" stroke-width="1.3" stroke-linejoin="round"/>
<polygon points="209.75,497.41 218.92,493.61 211.87,489.39 202.7,492.98" fill="#ff8000" stroke="#000" stroke-width="1.3" stroke-linejoin="round"/>
<polygon points="283.8,498.99 292.97,496.66 285.93,491.83 276.75,494.26" fill="#ff8000" stroke="#000" stroke-width="1.3" stroke-linejoin="round"/>
<polygon points="300.02,500.74 309.19,498.21 302.15,493.94 292.97,496.66" fill="#ff8000" stroke="#000" stroke-width="1.3" stroke-linejoin="round"/>
<polygon points="225.96,497.21 235.14,493.8 228.09,490.43 218.92,493.61" fill="#ff7000" stroke="#000" stroke-width="1.3" stroke-linejoin="round"/>
<polygon points="242.19,497.13 251.36,494.14 244.31,491.02 235.14,493.8" fill="#ff6000" stroke="#000" stroke-width="1.3" stroke-linejoin="round"/>
<polygon points="316.24,502.29 325.41,491.11 318.37,495.09 309.19,498.21" fill="#ff8f00" stroke="#000" stroke-width="1.3" stroke-linejoin="round"/>
<polygon points="200.57,501.57 209.75,497.41 202.7,492.98 193.53,497.06" fill="#ff8000" stroke="#000" stroke-width="1.3" stroke-linejoin="round"/>
<polygon points="258.4,499.18 267.58,496.56 260.54,491.68 251.36,494.14" fill="#ff7000" stroke="#000" stroke-width="1.3" stroke-linejoin="round"/>
<polygon points="274.62,501.36 283.8,498.99 276.75,494.26 267.58,496.56" fill="#ff7000" stroke="#000" stroke-width="1.3" stroke-linejoin="round"/>
<polygon points="216.79,501.18 225.96,497.21 218.92,493.61 209.75,497.41" fill="#ff7000" stroke="#000" stroke-width="1.3" stroke-linejoin="round"/>
<polygon points="290.85,503.04 300.02,500.74 292.97,496.66 283.8,498.99" fill="#ff8000" stroke="#000" stroke-width="1.3" stroke-linejoin="round"/>
<polygon points="233.01,500.77 242.19,497.13 235.14,493.8 225.96,497.21" fill="#ff6000" stroke="#000" stroke-width="1.3" stroke-linejoin="round"/>
<polygon points="191.4,505.65 200.57,501.57 193.53,497.06 184.35,501.22" fill="#ff8f00" stroke="#000" stroke-width="1.3" stroke-linejoin="round"/>
<polygon points="249.23,502.4 258.4,499.18 251.36,494.14 242.19,497.13" fill="#ff7000" stroke="#000" stroke-width="1.3" stroke-linejoin="round"/>
<polygon points="207.62,505.37 216.79,501.18 209.75,497.41 200.57,501.57" fill="#ff8000" stroke="#000" stroke-width="1.3" stroke-linejoin="round"/>
<polygon points="265.45,504.17 274.62,501.36 267.58,496.56 258.4,499.18" fill="#ff7000" stroke="#000" stroke-width="1.3" stroke-linejoin="round"/>
<polygon points="281.67,505.52 290.85,503.04 283.8,498.99 274.62,501.36" fill="#ff7000" stroke="#000" stroke-width="1.3" stroke-linejoin="round"/>
<polygon points="323.28,506.3 332.46,488.48 325.41,491.11 316.24,502.29" fill="#ff8f00" stroke="#000" stroke-width="1.3" stroke-linejoin="round"/>
<polygon points="223.84,504.87 233.01,500.77 225.96,497.21 216.79,501.18" fill="#ff7000" stroke="#000" stroke-width="1.3" stroke-linejoin="round"/>
<polygon points="182.22,509.26 191.4,505.65 184.35,501.22 175.17,505.04" fill="#ff8f00" stroke="#000" stroke-width="1.3" stroke-linejoin="round"/>
<polygon points="240.05,506.24 249.23,502.4 242.19,497.13 233.01,500.77" fill="#ff7000" stroke="#000" stroke-width="1.3" stroke-linejoin="round"/>
<polygon points="198.44,509.32 207.62,505.37 200.57,501.57 191.4,505.65" fill="#ff8000" stroke="#000" stroke-width="1.3" stroke-linejoin="round"/>
<polygon points="256.27,507.63 265.45,504.17 258.4,499.18 249.23,502.4" fill="#ff7000" stroke="#000" stroke-width="1.3" stroke-linejoin="round"/>
<polygon points="272.5,508.56 281.67,505.52 274.62,501.36 265.45,504.17" fill="#ff7000" stroke="#000" stroke-width="1.3" stroke-linejoin="round"/>
<polygon points="214.66,509.02 223.84,504.87 216.79,501.18 207.62,505.37" fill="#ff8000" stroke="#000" stroke-width="1.3" stroke-linejoin="round"/>
<polygon points="173.04,512.22 182.22,509.26 175.17,505.04 166,508.23" fill="#ff8f00" stroke="#000" stroke-width="1.3" stroke-linejoin="round"/>
<polygon points="230.88,510.41 240.05,506.24 233.01,500.77 223.84,504.87" fill="#ff8000" stroke="#000" stroke-width="1.3" stroke-linejoin="round"/>
<polygon points="189.26,512.7 198.44,509.32 191.4,505.65 182.22,509.26" fill="#ff8000" stroke="#000" stroke-width="1.3" stroke-linejoin="round"/>
<polygon points="330.33,510.26 339.5,485.84 332.46,488.48 323.28,506.3" fill="#ff8000" stroke="#000" stroke-width="1.3" stroke-linejoin="round"/>
<polygon points="247.1,511.63 256.27,507.63 249.23,502.4 240.05,506.24" fill="#ff8000" stroke="#000" stroke-width="1.3" stroke-linejoin="round"/>
<polygon points="263.32,512.24 272.5,508.56 265.45,504.17 256.27,507.63" fill="#ff8000" stroke="#000" stroke-width="1.3" stroke-linejoin="round"/>
<polygon points="205.49,512.8 214.66,509.02 207.62,505.37 198.44,509.32" fill="#ff8000" stroke="#000" stroke-width="1.3" stroke-linejoin="round"/>
<polygon points="163.87,514.66 173.04,512.22 166,508.23 156.83,510.83" fill="#ff8000" stroke="#000" stroke-width="1.3" stroke-linejoin="round"/>
<polygon points="221.7,514.47 230.88,510.41 223.84,504.87 214.66,509.02" fill="#ff8000" stroke="#000" stroke-width="1.3" stroke-linejoin="round"/>
<polygon points="180.09,515.45 189.26,512.7 182.22,509.26 173.04,512.22" fill="#ff8000" stroke="#000" stroke-width="1.3" stroke-linejoin="round"/>
<polygon points="237.93,515.82 247.1,511.63 240.05,506.24 230.88,510.41" fill="#ff8000" stroke="#000" stroke-width="1.3" stroke-linejoin="round"/>
<polygon points="254.14,516.36 263.32,512.24 256.27,507.63 247.1,511.63" fill="#ff8000" stroke="#000" stroke-width="1.3" stroke-linejoin="round"/>
<polygon points="196.31,515.94 205.49,512.8 198.44,509.32 189.26,512.7" fill="#ff8000" stroke="#000" stroke-width="1.3" stroke-linejoin="round"/>
<polygon points="212.53,518.04 221.7,514.47 214.66,509.02 205.49,512.8" fill="#ff8000" stroke="#000" stroke-width="1.3" stroke-linejoin="round"/>
<polygon points="154.7,516.96 163.87,514.66 156.83,510.83 147.65,513.12" fill="#ff8000" stroke="#000" stroke-width="1.3" stroke-linejoin="round"/>
<polygon points="228.75,519.74 237.93,515.82 230.88,510.41 221.7,514.47" fill="#ff8f00" stroke="#000" stroke-width="1.3" stroke-linejoin="round"/>
<polygon points="170.92,517.79 180.09,515.45 173.04,512.22 163.87,514.66" fill="#ff8000" stroke="#000" stroke-width="1.3" stroke-linejoin="round"/>
<polygon points="244.97,520.5 254.14,516.36 247.1,511.63 237.93,515.82" fill="#ff8f00" stroke="#000" stroke-width="1.3" stroke-linejoin="round"/>
<polygon points="187.13,518.51 196.31,515.94 189.26,512.7 180.09,515.45" fill="#ff7000" stroke="#000" stroke-width="1.3" stroke-linejoin="round"/>
<polygon points="203.35,520.95 212.53,518.04 205.49,512.8 196.31,515.94" fill="#ff8000" stroke="#000" stroke-width="1.3" stroke-linejoin="round"/>
<polygon points="145.52,519.56 154.7,516.96 147.65,513.12 138.47,515.57" fill="#ff7000" stroke="#000" stroke-width="1.3" stroke-linejoin="round"/>
<polygon points="219.57,523.07 228.75,519.74 221.7,514.47 212.53,518.04" fill="#ff8f00" stroke="#000" stroke-width="1.3" stroke-linejoin="round"/>
<polygon points="161.74,520.14 170.92,517.79 163.87,514.66 154.7,516.96" fill="#ff7000" stroke="#000" stroke-width="1.3" stroke-linejoin="round"/>
<polygon points="235.8,524.23 244.97,520.5 237.93,515.82 228.75,519.74" fill="#ff8f00" stroke="#000" stroke-width="1.3" stroke-linejoin="round"/>
<polygon points="177.96,520.8 187.13,518.51 180.09,515.45 170.92,517.79" fill="#ff7000" stroke="#000" stroke-width="1.3" stroke-linejoin="round"/>
<polygon points="194.18,523.37 203.35,520.95 196.31,515.94 187.13,518.51" fill="#ff8000" stroke="#000" stroke-width="1.3" stroke-linejoin="round"/>
<polygon points="136.34,522.75 145.52,519.56 138.47,515.57 129.3,518.53" fill="#ff7000" stroke="#000" stroke-width="1.3" stroke-linejoin="round"/>
<polygon points="210.4,525.78 219.57,523.07 212.53,518.04 203.35,520.95" fill="#ff8f00" stroke="#000" stroke-width="1.3" stroke-linejoin="round"/>
<polygon points="226.62,527.33 235.8,524.23 228.75,519.74 219.57,523.07" fill="#ff8f00" stroke="#000" stroke-width="1.3" stroke-linejoin="round"/>
<polygon points="152.56,522.93 161.74,520.14 154.7,516.96 145.52,519.56" fill="#ff7000" stroke="#000" stroke-width="1.3" stroke-linejoin="round"/>
<polygon points="168.79,523.27 177.96,520.8 170.92,517.79 161.74,520.14" fill="#ff6000" stroke="#000" stroke-width="1.3" stroke-linejoin="round"/>
<polygon points="185,525.68 194.18,523.37 187.13,518.51 177.96,520.8" fill="#ff7000" stroke="#000" stroke-width="1.3" stroke-linejoin="round"/>
<polygon points="127.17,526.56 136.34,522.75 129.3,518.53 120.12,522.14" fill="#ff8000" stroke="#000" stroke-width="1.3" stroke-linejoin="round"/>
<polygon points="201.22,528.1 210.4,525.78 203.35,520.95 194.18,523.37" fill="#ff8000" stroke="#000" stroke-width="1.3" stroke-linejoin="round"/>
<polygon points="217.44,529.86 226.62,527.33 219.57,523.07 210.4,525.78" fill="#ff8000" stroke="#000" stroke-width="1.3" stroke-linejoin="round"/>
<polygon points="143.39,526.36 152.56,522.93 145.52,519.56 136.34,522.75" fill="#ff7000" stroke="#000" stroke-width="1.3" stroke-linejoin="round"/>
<polygon points="159.61,526.27 168.79,523.27 161.74,520.14 152.56,522.93" fill="#ff6000" stroke="#000" stroke-width="1.3" stroke-linejoin="round"/>
<polygon points="118,530.73 127.17,526.56 120.12,522.14 110.95,526.22" fill="#ff8000" stroke="#000" stroke-width="1.3" stroke-linejoin="round"/>
<polygon points="175.83,528.31 185,525.68 177.96,520.8 168.79,523.27" fill="#ff7000" stroke="#000" stroke-width="1.3" stroke-linejoin="round"/>
<polygon points="192.05,530.48 201.22,528.1 194.18,523.37 185,525.68" fill="#ff7000" stroke="#000" stroke-width="1.3" stroke-linejoin="round"/>
<polygon points="134.21,530.34 143.39,526.36 136.34,522.75 127.17,526.56" fill="#ff7000" stroke="#000" stroke-width="1.3" stroke-linejoin="round"/>
<polygon points="208.27,532.15 217.44,529.86 210.4,525.78 201.22,528.1" fill="#ff8000" stroke="#000" stroke-width="1.3" stroke-linejoin="round"/>
<polygon points="150.44,529.93 159.61,526.27 152.56,522.93 143.39,526.36" fill="#ff6000" stroke="#000" stroke-width="1.3" stroke-linejoin="round"/>
<polygon points="166.65,531.55 175.83,528.31 168.79,523.27 159.61,526.27" fill="#ff7000" stroke="#000" stroke-width="1.3" stroke-linejoin="round"/>
<polygon points="125.04,534.53 134.21,530.34 127.17,526.56 118,530.73" fill="#ff8000" stroke="#000" stroke-width="1.3" stroke-linejoin="round"/>
<polygon points="182.88,533.31 192.05,530.48 185,525.68 175.83,528.31" fill="#ff7000" stroke="#000" stroke-width="1.3" stroke-linejoin="round"/>
<polygon points="199.1,534.65 208.27,532.15 201.22,528.1 192.05,530.48" fill="#ff7000" stroke="#000" stroke-width="1.3" stroke-linejoin="round"/>
<polygon points="141.26,534.03 150.44,529.93 143.39,526.36 134.21,530.34" fill="#ff7000" stroke="#000" stroke-width="1.3" stroke-linejoin="round"/>
<polygon points="157.48,535.4 166.65,531.55 159.61,526.27 150.44,529.93" fill="#ff7000" stroke="#000" stroke-width="1.3" stroke-linejoin="round"/>
<polygon points="173.7,536.78 182.88,533.31 175.83,528.31 166.65,531.55" fill="#ff7000" stroke="#000" stroke-width="1.3" stroke-linejoin="round"/>
<polygon points="189.92,537.7 199.1,534.65 192.05,530.48 182.88,533.31" fill="#ff7000" stroke="#000" stroke-width="1.3" stroke-linejoin="round"/>
<polygon points="132.08,538.18 141.26,534.03 134.21,530.34 125.04,534.53" fill="#ff8000" stroke="#000" stroke-width="1.3" stroke-linejoin="round"/>
<polygon points="148.3,539.57 157.48,535.4 150.44,529.93 141.26,534.03" fill="#ff8000" stroke="#000" stroke-width="1.3" stroke-linejoin="round"/>
<polygon points="164.52,540.79 173.7,536.78 166.65,531.55 157.48,535.4" fill="#ff8000" stroke="#000" stroke-width="1.3" stroke-linejoin="round"/>
<polygon points="180.75,541.4 189.92,537.7 182.88,533.31 173.7,536.78" fill="#ff8000" stroke="#000" stroke-width="1.3" stroke-linejoin="round"/>
<polygon points="139.13,543.62 148.3,539.57 141.26,534.03 132.08,538.18" fill="#ff8000" stroke="#000" stroke-width="1.3" stroke-linejoin="round"/>
<polygon points="155.35,544.98 164.52,540.79 157.48,535.4 148.3,539.57" fill="#ff8000" stroke="#000" stroke-width="1.3" stroke-linejoin="round"/>
<polygon points="171.57,545.52 180.75,541.4 173.7,536.78 164.52,540.79" fill="#ff8000" stroke="#000" stroke-width="1.3" stroke-linejoin="round"/>
<polygon points="146.17,548.88 155.35,544.98 148.3,539.57 139.13,543.62" fill="#ff8f00" stroke="#000" stroke-width="1.3" stroke-linejoin="round"/>
<polygon points="162.39,549.65 171.57,545.52 164.52,540.79 155.35,544.98" fill="#ff8f00" stroke="#000" stroke-width="1.3" stroke-linejoin="round"/>
<polygon points="178.61,550.14 187.79,545.96 180.75,541.4 171.57,545.52" fill="#ff8000" stroke="#000" stroke-width="1.3" stroke-linejoin="round"/>
<polygon points="153.22,553.37 162.39,549.65 155.35,544.98 146.17,548.88" fill="#ff8f00" stroke="#000" stroke-width="1.3" stroke-linejoin="round"/>
<polygon points="169.44,554.17 178.61,550.14 171.57,545.52 162.39,549.65" fill="#ff8f00" stroke="#000" stroke-width="1.3" stroke-linejoin="round"/>
<polygon points="160.26,557.67 169.44,554.17 162.39,549.65 153.22,553.37" fill="#ff8f00" stroke="#000" stroke-width="1.3" stroke-linejoin="round"/>
<polygon points="176.48,558.61 185.66,554.73 178.61,550.14 169.44,554.17" fill="#ff8f00" stroke="#000" stroke-width="1.3" stroke-linejoin="round"/>
<polygon points="167.31,561.88 176.48,558.61 169.44,554.17 160.26,557.67" fill="#ff8f00" stroke="#000" stroke-width="1.3" stroke-linejoin="round"/>
<polygon points="174.35,566.01 183.53,562.97 176.48,558.61 167.31,561.88" fill="#ff8f00" stroke="#000" stroke-width="1.3" stroke-linejoin="round"/>
<polygon points="171,562 180,548 187,540 187.5,558 175,563" fill="#f01000" stroke="#000" stroke-width="0.9" stroke-linejoin="round"/>
<polygon points="186.3,539 343,485.3 348.3,526.7 343,600 193.4,671.4 192,600" fill="#00008f" stroke="#000" stroke-width="1.0" stroke-linejoin="round"/>
<line x1="196.09" y1="535.64" x2="199.09" y2="655.64" stroke="#000" stroke-width="1.0"/>
<line x1="205.89" y1="532.29" x2="208.89" y2="652.29" stroke="#000" stroke-width="1.0"/>
<line x1="215.68" y1="528.93" x2="218.68" y2="648.93" stroke="#000" stroke-width="1.0"/>
<line x1="225.48" y1="525.58" x2="228.48" y2="645.58" stroke="#000" stroke-width="1.0"/>
<line x1="235.27" y1="522.22" x2="238.27" y2="642.22" stroke="#000" stroke-width="1.0"/>
<line x1="245.06" y1="518.86" x2="248.06" y2="638.86" stroke="#000" stroke-width="1.0"/>
<line x1="254.86" y1="515.51" x2="257.86" y2="635.51" stroke="#000" stroke-width="1.0"/>
<line x1="264.65" y1="512.15" x2="267.65" y2="632.15" stroke="#000" stroke-width="1.0"/>
<line x1="274.44" y1="508.79" x2="277.44" y2="628.79" stroke="#000" stroke-width="1.0"/>
<line x1="284.24" y1="505.44" x2="287.24" y2="625.44" stroke="#000" stroke-width="1.0"/>
<line x1="294.03" y1="502.08" x2="297.03" y2="622.08" stroke="#000" stroke-width="1.0"/>
<line x1="303.82" y1="498.73" x2="306.82" y2="618.73" stroke="#000" stroke-width="1.0"/>
<line x1="313.62" y1="495.37" x2="316.62" y2="615.37" stroke="#000" stroke-width="1.0"/>
<line x1="323.41" y1="492.01" x2="326.41" y2="612.01" stroke="#000" stroke-width="1.0"/>
<line x1="333.21" y1="488.66" x2="336.21" y2="608.66" stroke="#000" stroke-width="1.0"/>
<polygon points="343,485.3 349,494 357,515 348.3,526.7" fill="#ff6a00" stroke="none" stroke-width="0" stroke-linejoin="round"/>
<polygon points="345.7,564 359.02,558 355.18,548.08 343.8,552.67" fill="#ff8a00" stroke="#000" stroke-width="0.9" stroke-linejoin="round"/>
<polygon points="359.02,558 372.35,552 366.57,543.5 355.18,548.08" fill="#ff8a00" stroke="#000" stroke-width="0.9" stroke-linejoin="round"/>
<polygon points="372.35,552 385.68,546 377.95,538.92 366.57,543.5" fill="#ff8a00" stroke="#000" stroke-width="0.9" stroke-linejoin="round"/>
<polygon points="385.68,546 399,540 389.33,534.33 377.95,538.92" fill="#ff8a00" stroke="#000" stroke-width="0.9" stroke-linejoin="round"/>
<polygon points="343.8,552.67 355.18,548.08 351.34,538.17 341.9,541.33" fill="#ffc000" stroke="#000" stroke-width="0.9" stroke-linejoin="round"/>
<polygon points="355.18,548.08 366.57,543.5 360.78,535 351.34,538.17" fill="#ffc000" stroke="#000" stroke-width="0.9" stroke-linejoin="round"/>
<polygon points="366.57,543.5 377.95,538.92 370.23,531.83 360.78,535" fill="#ffc000" stroke="#000" stroke-width="0.9" stroke-linejoin="round"/>
<polygon points="377.95,538.92 389.33,534.33 379.67,528.67 370.23,531.83" fill="#ffc000" stroke="#000" stroke-width="0.9" stroke-linejoin="round"/>
<polygon points="341.9,541.33 351.34,538.17 347.5,528.25 340,530" fill="#ff8a00" stroke="#000" stroke-width="0.9" stroke-linejoin="round"/>
<polygon points="351.34,538.17 360.78,535 355,526.5 347.5,528.25" fill="#ff8a00" stroke="#000" stroke-width="0.9" stroke-linejoin="round"/>
<polygon points="360.78,535 370.23,531.83 362.5,524.75 355,526.5" fill="#ff8a00" stroke="#000" stroke-width="0.9" stroke-linejoin="round"/>
<polygon points="370.23,531.83 379.67,528.67 370,523 362.5,524.75" fill="#ff8a00" stroke="#000" stroke-width="0.9" stroke-linejoin="round"/>
<polygon points="199,575 207.65,574.18 202.08,668.36 193.4,671.4" fill="#a00000" stroke="#000" stroke-width="1.0" stroke-linejoin="round"/>
<polygon points="207.65,574.18 216.29,573.35 210.76,665.32 202.08,668.36" fill="#a00000" stroke="#000" stroke-width="1.0" stroke-linejoin="round"/>
<polygon points="216.29,573.35 224.94,572.53 219.45,662.28 210.76,665.32" fill="#a00000" stroke="#000" stroke-width="1.0" stroke-linejoin="round"/>
<polygon points="224.94,572.53 233.59,571.71 228.13,659.24 219.45,662.28" fill="#a00000" stroke="#000" stroke-width="1.0" stroke-linejoin="round"/>
<polygon points="233.59,571.71 242.24,570.88 236.81,656.19 228.13,659.24" fill="#a00000" stroke="#000" stroke-width="1.0" stroke-linejoin="round"/>
<polygon points="242.24,570.88 250.88,570.06 245.49,653.15 236.81,656.19" fill="#a00000" stroke="#000" stroke-width="1.0" stroke-linejoin="round"/>
<polygon points="250.88,570.06 259.53,569.24 254.18,650.11 245.49,653.15" fill="#a00000" stroke="#000" stroke-width="1.0" stroke-linejoin="round"/>
<polygon points="259.53,569.24 268.18,568.41 262.86,647.07 254.18,650.11" fill="#a00000" stroke="#000" stroke-width="1.0" stroke-linejoin="round"/>
<polygon points="268.18,568.41 276.82,567.59 271.54,644.03 262.86,647.07" fill="#a00000" stroke="#000" stroke-width="1.0" stroke-linejoin="round"/>
<polygon points="276.82,567.59 285.47,566.76 280.22,640.99 271.54,644.03" fill="#ff7000" stroke="#000" stroke-width="1.0" stroke-linejoin="round"/>
<polygon points="285.47,566.76 294.12,565.94 288.91,637.95 280.22,640.99" fill="#ff7000" stroke="#000" stroke-width="1.0" stroke-linejoin="round"/>
<polygon points="294.12,565.94 302.76,565.12 297.59,634.91 288.91,637.95" fill="#ff7000" stroke="#000" stroke-width="1.0" stroke-linejoin="round"/>
<polygon points="302.76,565.12 311.41,564.29 306.27,631.86 297.59,634.91" fill="#ff7000" stroke="#000" stroke-width="1.0" stroke-linejoin="round"/>
<polygon points="311.41,564.29 320.06,563.47 314.95,628.82 306.27,631.86" fill="#ff7000" stroke="#000" stroke-width="1.0" stroke-linejoin="round"/>
<polygon points="320.06,563.47 328.71,562.65 323.64,625.78 314.95,628.82" fill="#ff7000" stroke="#000" stroke-width="1.0" stroke-linejoin="round"/>
<polygon points="328.71,562.65 337.35,561.82 332.32,622.74 323.64,625.78" fill="#ff7000" stroke="#000" stroke-width="1.0" stroke-linejoin="round"/>
<polygon points="337.35,561.82 346,561 341,619.7 332.32,622.74" fill="#ff7000" stroke="#000" stroke-width="1.0" stroke-linejoin="round"/>
<polygon points="216,597 226.22,593.89 224.62,589.14 214.5,592.17" fill="#ff9c00" stroke="#000" stroke-width="0.95" stroke-linejoin="round"/>
<polygon points="226.22,593.89 236.44,590.78 234.74,586.11 224.62,589.14" fill="#ff8c00" stroke="#000" stroke-width="0.95" stroke-linejoin="round"/>
<polygon points="236.44,590.78 246.67,587.67 244.86,583.08 234.74,586.11" fill="#ff9c00" stroke="#000" stroke-width="0.95" stroke-linejoin="round"/>
<polygon points="246.67,587.67 256.89,584.56 254.98,580.06 244.86,583.08" fill="#ff8c00" stroke="#000" stroke-width="0.95" stroke-linejoin="round"/>
<polygon points="256.89,584.56 267.11,581.44 265.1,577.03 254.98,580.06" fill="#ff9c00" stroke="#000" stroke-width="0.95" stroke-linejoin="round"/>
<polygon points="267.11,581.44 277.33,578.33 275.22,574 265.1,577.03" fill="#ff8c00" stroke="#000" stroke-width="0.95" stroke-linejoin="round"/>
<polygon points="277.33,578.33 287.56,575.22 285.34,570.97 275.22,574" fill="#ff9c00" stroke="#000" stroke-width="0.95" stroke-linejoin="round"/>
<polygon points="287.56,575.22 297.78,572.11 295.46,567.94 285.34,570.97" fill="#ff8c00" stroke="#000" stroke-width="0.95" stroke-linejoin="round"/>
<polygon points="297.78,572.11 308,569 305.58,564.92 295.46,567.94" fill="#ff9c00" stroke="#000" stroke-width="0.95" stroke-linejoin="round"/>
<polygon points="308,569 318.22,565.89 315.7,561.89 305.58,564.92" fill="#ff8c00" stroke="#000" stroke-width="0.95" stroke-linejoin="round"/>
<polygon points="318.22,565.89 328.44,562.78 325.82,558.86 315.7,561.89" fill="#ff9c00" stroke="#000" stroke-width="0.95" stroke-linejoin="round"/>
<polygon points="328.44,562.78 338.67,559.67 335.94,555.83 325.82,558.86" fill="#ff8c00" stroke="#000" stroke-width="0.95" stroke-linejoin="round"/>
<polygon points="338.67,559.67 348.89,556.56 346.06,552.81 335.94,555.83" fill="#ff9c00" stroke="#000" stroke-width="0.95" stroke-linejoin="round"/>
<polygon points="348.89,556.56 359.11,553.44 356.19,549.78 346.06,552.81" fill="#ff8c00" stroke="#000" stroke-width="0.95" stroke-linejoin="round"/>
<polygon points="359.11,553.44 369.33,550.33 366.31,546.75 356.19,549.78" fill="#ff9c00" stroke="#000" stroke-width="0.95" stroke-linejoin="round"/>
<polygon points="369.33,550.33 379.56,547.22 376.43,543.72 366.31,546.75" fill="#ff8c00" stroke="#000" stroke-width="0.95" stroke-linejoin="round"/>
<polygon points="379.56,547.22 389.78,544.11 386.55,540.69 376.43,543.72" fill="#ff9c00" stroke="#000" stroke-width="0.95" stroke-linejoin="round"/>
<polygon points="389.78,544.11 400,541 396.67,537.67 386.55,540.69" fill="#ff8c00" stroke="#000" stroke-width="0.95" stroke-linejoin="round"/>
<polygon points="214.5,592.17 224.62,589.14 223.02,584.39 213,587.33" fill="#ff8c00" stroke="#000" stroke-width="0.95" stroke-linejoin="round"/>
<polygon points="224.62,589.14 234.74,586.11 233.04,581.44 223.02,584.39" fill="#ff9c00" stroke="#000" stroke-width="0.95" stroke-linejoin="round"/>
<polygon points="234.74,586.11 244.86,583.08 243.06,578.5 233.04,581.44" fill="#ff8c00" stroke="#000" stroke-width="0.95" stroke-linejoin="round"/>
<polygon points="244.86,583.08 254.98,580.06 253.07,575.56 243.06,578.5" fill="#ff9c00" stroke="#000" stroke-width="0.95" stroke-linejoin="round"/>
<polygon points="254.98,580.06 265.1,577.03 263.09,572.61 253.07,575.56" fill="#ff8c00" stroke="#000" stroke-width="0.95" stroke-linejoin="round"/>
<polygon points="265.1,577.03 275.22,574 273.11,569.67 263.09,572.61" fill="#ff9c00" stroke="#000" stroke-width="0.95" stroke-linejoin="round"/>
<polygon points="275.22,574 285.34,570.97 283.13,566.72 273.11,569.67" fill="#ff8c00" stroke="#000" stroke-width="0.95" stroke-linejoin="round"/>
<polygon points="285.34,570.97 295.46,567.94 293.15,563.78 283.13,566.72" fill="#ff9c00" stroke="#000" stroke-width="0.95" stroke-linejoin="round"/>
<polygon points="295.46,567.94 305.58,564.92 303.17,560.83 293.15,563.78" fill="#ff8c00" stroke="#000" stroke-width="0.95" stroke-linejoin="round"/>
<polygon points="305.58,564.92 315.7,561.89 313.19,557.89 303.17,560.83" fill="#ff9c00" stroke="#000" stroke-width="0.95" stroke-linejoin="round"/>
<polygon points="315.7,561.89 325.82,558.86 323.2,554.94 313.19,557.89" fill="#ff8c00" stroke="#000" stroke-width="0.95" stroke-linejoin="round"/>
<polygon points="325.82,558.86 335.94,555.83 333.22,552 323.2,554.94" fill="#ff9c00" stroke="#000" stroke-width="0.95" stroke-linejoin="round"/>
<polygon points="335.94,555.83 346.06,552.81 343.24,549.06 333.22,552" fill="#ff8c00" stroke="#000" stroke-width="0.95" stroke-linejoin="round"/>
<polygon points="346.06,552.81 356.19,549.78 353.26,546.11 343.24,549.06" fill="#ff9c00" stroke="#000" stroke-width="0.95" stroke-linejoin="round"/>
<polygon points="356.19,549.78 366.31,546.75 363.28,543.17 353.26,546.11" fill="#ff8c00" stroke="#000" stroke-width="0.95" stroke-linejoin="round"/>
<polygon points="366.31,546.75 376.43,543.72 373.3,540.22 363.28,543.17" fill="#ff9c00" stroke="#000" stroke-width="0.95" stroke-linejoin="round"/>
<polygon points="376.43,543.72 386.55,540.69 383.31,537.28 373.3,540.22" fill="#ff8c00" stroke="#000" stroke-width="0.95" stroke-linejoin="round"/>
<polygon points="386.55,540.69 396.67,537.67 393.33,534.33 383.31,537.28" fill="#ff9c00" stroke="#000" stroke-width="0.95" stroke-linejoin="round"/>
<polygon points="213,587.33 223.02,584.39 221.42,579.64 211.5,582.5" fill="#ffd000" stroke="#000" stroke-width="0.95" stroke-linejoin="round"/>
<polygon points="223.02,584.39 233.04,581.44 231.33,576.78 221.42,579.64" fill="#ffd000" stroke="#000" stroke-width="0.95" stroke-linejoin="round"/>
<polygon points="233.04,581.44 243.06,578.5 241.25,573.92 231.33,576.78" fill="#ffd000" stroke="#000" stroke-width="0.95" stroke-linejoin="round"/>
<polygon points="243.06,578.5 253.07,575.56 251.17,571.06 241.25,573.92" fill="#ffd000" stroke="#000" stroke-width="0.95" stroke-linejoin="round"/>
<polygon points="253.07,575.56 263.09,572.61 261.08,568.19 251.17,571.06" fill="#ffd000" stroke="#000" stroke-width="0.95" stroke-linejoin="round"/>
<polygon points="263.09,572.61 273.11,569.67 271,565.33 261.08,568.19" fill="#ffd000" stroke="#000" stroke-width="0.95" stroke-linejoin="round"/>
<polygon points="273.11,569.67 283.13,566.72 280.92,562.47 271,565.33" fill="#ffd000" stroke="#000" stroke-width="0.95" stroke-linejoin="round"/>
<polygon points="283.13,566.72 293.15,563.78 290.83,559.61 280.92,562.47" fill="#ffd000" stroke="#000" stroke-width="0.95" stroke-linejoin="round"/>
<polygon points="293.15,563.78 303.17,560.83 300.75,556.75 290.83,559.61" fill="#ffd000" stroke="#000" stroke-width="0.95" stroke-linejoin="round"/>
<polygon points="303.17,560.83 313.19,557.89 310.67,553.89 300.75,556.75" fill="#ffd000" stroke="#000" stroke-width="0.95" stroke-linejoin="round"/>
<polygon points="313.19,557.89 323.2,554.94 320.58,551.03 310.67,553.89" fill="#ffd000" stroke="#000" stroke-width="0.95" stroke-linejoin="round"/>
<polygon points="323.2,554.94 333.22,552 330.5,548.17 320.58,551.03" fill="#ffd000" stroke="#000" stroke-width="0.95" stroke-linejoin="round"/>
<polygon points="333.22,552 343.24,549.06 340.42,545.31 330.5,548.17" fill="#ffd000" stroke="#000" stroke-width="0.95" stroke-linejoin="round"/>
<polygon points="343.24,549.06 353.26,546.11 350.33,542.44 340.42,545.31" fill="#ffd000" stroke="#000" stroke-width="0.95" stroke-linejoin="round"/>
<polygon points="353.26,546.11 363.28,543.17 360.25,539.58 350.33,542.44" fill="#ffd000" stroke="#000" stroke-width="0.95" stroke-linejoin="round"/>
<polygon points="363.28,543.17 373.3,540.22 370.17,536.72 360.25,539.58" fill="#ffd000" stroke="#000" stroke-width="0.95" stroke-linejoin="round"/>
<polygon points="373.3,540.22 383.31,537.28 380.08,533.86 370.17,536.72" fill="#ffd000" stroke="#000" stroke-width="0.95" stroke-linejoin="round"/>
<polygon points="383.31,537.28 393.33,534.33 390,531 380.08,533.86" fill="#ffd000" stroke="#000" stroke-width="0.95" stroke-linejoin="round"/>
<polygon points="211.5,582.5 221.42,579.64 219.81,574.89 210,577.67" fill="#ff8c00" stroke="#000" stroke-width="0.95" stroke-linejoin="round"/>
<polygon points="221.42,579.64 231.33,576.78 229.63,572.11 219.81,574.89" fill="#ff9c00" stroke="#000" stroke-width="0.95" stroke-linejoin="round"/>
<polygon points="231.33,576.78 241.25,573.92 239.44,569.33 229.63,572.11" fill="#ff8c00" stroke="#000" stroke-width="0.95" stroke-linejoin="round"/>
<polygon points="241.25,573.92 251.17,571.06 249.26,566.56 239.44,569.33" fill="#ff9c00" stroke="#000" stroke-width="0.95" stroke-linejoin="round"/>
<polygon points="251.17,571.06 261.08,568.19 259.07,563.78 249.26,566.56" fill="#ff8c00" stroke="#000" stroke-width="0.95" stroke-linejoin="round"/>
<polygon points="261.08,568.19 271,565.33 268.89,561 259.07,563.78" fill="#ff9c00" stroke="#000" stroke-width="0.95" stroke-linejoin="round"/>
<polygon points="271,565.33 280.92,562.47 278.7,558.22 268.89,561" fill="#ff8c00" stroke="#000" stroke-width="0.95" stroke-linejoin="round"/>
<polygon points="280.92,562.47 290.83,559.61 288.52,555.44 278.7,558.22" fill="#ff9c00" stroke="#000" stroke-width="0.95" stroke-linejoin="round"/>
<polygon points="290.83,559.61 300.75,556.75 298.33,552.67 288.52,555.44" fill="#ff8c00" stroke="#000" stroke-width="0.95" stroke-linejoin="round"/>
<polygon points="300.75,556.75 310.67,553.89 308.15,549.89 298.33,552.67" fill="#ff9c00" stroke="#000" stroke-width="0.95" stroke-linejoin="round"/>
<polygon points="310.67,553.89 320.58,551.03 317.96,547.11 308.15,549.89" fill="#ff8c00" stroke="#000" stroke-width="0.95" stroke-linejoin="round"/>
<polygon points="320.58,551.03 330.5,548.17 327.78,544.33 317.96,547.11" fill="#ff9c00" stroke="#000" stroke-width="0.95" stroke-linejoin="round"/>
<polygon points="330.5,548.17 340.42,545.31 337.59,541.56 327.78,544.33" fill="#ff8c00" stroke="#000" stroke-width="0.95" stroke-linejoin="round"/>
<polygon points="340.42,545.31 350.33,542.44 347.41,538.78 337.59,541.56" fill="#ff9c00" stroke="#000" stroke-width="0.95" stroke-linejoin="round"/>
<polygon points="350.33,542.44 360.25,539.58 357.22,536 347.41,538.78" fill="#ff8c00" stroke="#000" stroke-width="0.95" stroke-linejoin="round"/>
<polygon points="360.25,539.58 370.17,536.72 367.04,533.22 357.22,536" fill="#ff9c00" stroke="#000" stroke-width="0.95" stroke-linejoin="round"/>
<polygon points="370.17,536.72 380.08,533.86 376.85,530.44 367.04,533.22" fill="#ff8c00" stroke="#000" stroke-width="0.95" stroke-linejoin="round"/>
<polygon points="380.08,533.86 390,531 386.67,527.67 376.85,530.44" fill="#ff9c00" stroke="#000" stroke-width="0.95" stroke-linejoin="round"/>
<polygon points="210,577.67 219.81,574.89 218.21,570.14 208.5,572.83" fill="#ff9c00" stroke="#000" stroke-width="0.95" stroke-linejoin="round"/>
<polygon points="219.81,574.89 229.63,572.11 227.93,567.44 218.21,570.14" fill="#ff8c00" stroke="#000" stroke-width="0.95" stroke-linejoin="round"/>
<polygon points="229.63,572.11 239.44,569.33 237.64,564.75 227.93,567.44" fill="#ff9c00" stroke="#000" stroke-width="0.95" stroke-linejoin="round"/>
<polygon points="239.44,569.33 249.26,566.56 247.35,562.06 237.64,564.75" fill="#ff8c00" stroke="#000" stroke-width="0.95" stroke-linejoin="round"/>
<polygon points="249.26,566.56 259.07,563.78 257.06,559.36 247.35,562.06" fill="#ff9c00" stroke="#000" stroke-width="0.95" stroke-linejoin="round"/>
<polygon points="259.07,563.78 268.89,561 266.78,556.67 257.06,559.36" fill="#ff8c00" stroke="#000" stroke-width="0.95" stroke-linejoin="round"/>
<polygon points="268.89,561 278.7,558.22 276.49,553.97 266.78,556.67" fill="#ff9c00" stroke="#000" stroke-width="0.95" stroke-linejoin="round"/>
<polygon points="278.7,558.22 288.52,555.44 286.2,551.28 276.49,553.97" fill="#ff8c00" stroke="#000" stroke-width="0.95" stroke-linejoin="round"/>
<polygon points="288.52,555.44 298.33,552.67 295.92,548.58 286.2,551.28" fill="#ff9c00" stroke="#000" stroke-width="0.95" stroke-linejoin="round"/>
<polygon points="298.33,552.67 308.15,549.89 305.63,545.89 295.92,548.58" fill="#ff8c00" stroke="#000" stroke-width="0.95" stroke-linejoin="round"/>
<polygon points="308.15,549.89 317.96,547.11 315.34,543.19 305.63,545.89" fill="#ff9c00" stroke="#000" stroke-width="0.95" stroke-linejoin="round"/>
<polygon points="317.96,547.11 327.78,544.33 325.06,540.5 315.34,543.19" fill="#ff8c00" stroke="#000" stroke-width="0.95" stroke-linejoin="round"/>
<polygon points="327.78,544.33 337.59,541.56 334.77,537.81 325.06,540.5" fill="#ff9c00" stroke="#000" stroke-width="0.95" stroke-linejoin="round"/>
<polygon points="337.59,541.56 347.41,538.78 344.48,535.11 334.77,537.81" fill="#ff8c00" stroke="#000" stroke-width="0.95" stroke-linejoin="round"/>
<polygon points="347.41,538.78 357.22,536 354.19,532.42 344.48,535.11" fill="#ff9c00" stroke="#000" stroke-width="0.95" stroke-linejoin="round"/>
<polygon points="357.22,536 367.04,533.22 363.91,529.72 354.19,532.42" fill="#ff8c00" stroke="#000" stroke-width="0.95" stroke-linejoin="round"/>
<polygon points="367.04,533.22 376.85,530.44 373.62,527.03 363.91,529.72" fill="#ff9c00" stroke="#000" stroke-width="0.95" stroke-linejoin="round"/>
<polygon points="376.85,530.44 386.67,527.67 383.33,524.33 373.62,527.03" fill="#ff8c00" stroke="#000" stroke-width="0.95" stroke-linejoin="round"/>
<polygon points="208.5,572.83 218.21,570.14 216.61,565.39 207,568" fill="#ff8c00" stroke="#000" stroke-width="0.95" stroke-linejoin="round"/>
<polygon points="218.21,570.14 227.93,567.44 226.22,562.78 216.61,565.39" fill="#ff9c00" stroke="#000" stroke-width="0.95" stroke-linejoin="round"/>
<polygon points="227.93,567.44 237.64,564.75 235.83,560.17 226.22,562.78" fill="#ff8c00" stroke="#000" stroke-width="0.95" stroke-linejoin="round"/>
<polygon points="237.64,564.75 247.35,562.06 245.44,557.56 235.83,560.17" fill="#ff9c00" stroke="#000" stroke-width="0.95" stroke-linejoin="round"/>
<polygon points="247.35,562.06 257.06,559.36 255.06,554.94 245.44,557.56" fill="#ff8c00" stroke="#000" stroke-width="0.95" stroke-linejoin="round"/>
<polygon points="257.06,559.36 266.78,556.67 264.67,552.33 255.06,554.94" fill="#ff9c00" stroke="#000" stroke-width="0.95" stroke-linejoin="round"/>
<polygon points="266.78,556.67 276.49,553.97 274.28,549.72 264.67,552.33" fill="#ff8c00" stroke="#000" stroke-width="0.95" stroke-linejoin="round"/>
<polygon points="276.49,553.97 286.2,551.28 283.89,547.11 274.28,549.72" fill="#ff9c00" stroke="#000" stroke-width="0.95" stroke-linejoin="round"/>
<polygon points="286.2,551.28 295.92,548.58 293.5,544.5 283.89,547.11" fill="#ff8c00" stroke="#000" stroke-width="0.95" stroke-linejoin="round"/>
<polygon points="295.92,548.58 305.63,545.89 303.11,541.89 293.5,544.5" fill="#ff9c00" stroke="#000" stroke-width="0.95" stroke-linejoin="round"/>
<polygon points="305.63,545.89 315.34,543.19 312.72,539.28 303.11,541.89" fill="#ff8c00" stroke="#000" stroke-width="0.95" stroke-linejoin="round"/>
<polygon points="315.34,543.19 325.06,540.5 322.33,536.67 312.72,539.28" fill="#ff9c00" stroke="#000" stroke-width="0.95" stroke-linejoin="round"/>
<polygon points="325.06,540.5 334.77,537.81 331.94,534.06 322.33,536.67" fill="#ff8c00" stroke="#000" stroke-width="0.95" stroke-linejoin="round"/>
<polygon points="334.77,537.81 344.48,535.11 341.56,531.44 331.94,534.06" fill="#ff9c00" stroke="#000" stroke-width="0.95" stroke-linejoin="round"/>
<polygon points="344.48,535.11 354.19,532.42 351.17,528.83 341.56,531.44" fill="#ff8c00" stroke="#000" stroke-width="0.95" stroke-linejoin="round"/>
<polygon points="354.19,532.42 363.91,529.72 360.78,526.22 351.17,528.83" fill="#ff9c00" stroke="#000" stroke-width="0.95" stroke-linejoin="round"/>
<polygon points="363.91,529.72 373.62,527.03 370.39,523.61 360.78,526.22" fill="#ff8c00" stroke="#000" stroke-width="0.95" stroke-linejoin="round"/>
<polygon points="373.62,527.03 383.33,524.33 380,521 370.39,523.61" fill="#ff9c00" stroke="#000" stroke-width="0.95" stroke-linejoin="round"/>
<polygon points="222,592 235.33,591 238.33,597 229,598.5" fill="#ffc21a" stroke="#000" stroke-width="0.9" stroke-linejoin="round"/>
<polygon points="235.33,591 248.67,590 247.67,595.5 238.33,597" fill="#ffb400" stroke="#000" stroke-width="0.9" stroke-linejoin="round"/>
<polygon points="248.67,590 262,589 257,594 247.67,595.5" fill="#ffc21a" stroke="#000" stroke-width="0.9" stroke-linejoin="round"/>
<polygon points="229,598.5 238.33,597 241.33,603 236,605" fill="#ffb400" stroke="#000" stroke-width="0.9" stroke-linejoin="round"/>
<polygon points="238.33,597 247.67,595.5 246.67,601 241.33,603" fill="#ffc21a" stroke="#000" stroke-width="0.9" stroke-linejoin="round"/>
<polygon points="247.67,595.5 257,594 252,599 246.67,601" fill="#ffb400" stroke="#000" stroke-width="0.9" stroke-linejoin="round"/>
<polygon points="201,552.6 264.3,531.5 273.9,548.8 276,566.4 216,585" fill="#ff9600" stroke="#000" stroke-width="1.0" stroke-linejoin="round"/>
<line x1="208.91" y1="549.96" x2="223.5" y2="582.67" stroke="#000" stroke-width="1.0"/>
<line x1="216.82" y1="547.33" x2="231" y2="580.35" stroke="#000" stroke-width="1.0"/>
<line x1="224.74" y1="544.69" x2="238.5" y2="578.02" stroke="#000" stroke-width="1.0"/>
<line x1="232.65" y1="542.05" x2="246" y2="575.7" stroke="#000" stroke-width="1.0"/>
<line x1="240.56" y1="539.41" x2="253.5" y2="573.38" stroke="#000" stroke-width="1.0"/>
<line x1="248.48" y1="536.77" x2="261" y2="571.05" stroke="#000" stroke-width="1.0"/>
<line x1="256.39" y1="534.14" x2="268.5" y2="568.73" stroke="#000" stroke-width="1.0"/>
<line x1="92.6" y1="661.8" x2="92.6" y2="477.6" stroke="#6a6a6a" stroke-width="1.3"/>
<line x1="233.5" y1="747.25" x2="92.6" y2="661.8" stroke="#3a3a3a" stroke-width="1.3"/>
<line x1="233.5" y1="747.25" x2="417" y2="682.5" stroke="#3a3a3a" stroke-width="1.3"/>
<line x1="92.6" y1="661.8" x2="88.36" y2="663.3" stroke="#3a3a3a" stroke-width="1.1"/>
<line x1="92.6" y1="615.75" x2="88.36" y2="617.25" stroke="#3a3a3a" stroke-width="1.1"/>
<line x1="92.6" y1="569.7" x2="88.36" y2="571.2" stroke="#3a3a3a" stroke-width="1.1"/>
<line x1="92.6" y1="523.65" x2="88.36" y2="525.15" stroke="#3a3a3a" stroke-width="1.1"/>
<line x1="92.6" y1="477.6" x2="88.36" y2="479.1" stroke="#3a3a3a" stroke-width="1.1"/>
<line x1="233.5" y1="747.25" x2="229.26" y2="748.75" stroke="#3a3a3a" stroke-width="1.1"/>
<line x1="163.05" y1="704.52" x2="158.81" y2="706.02" stroke="#3a3a3a" stroke-width="1.1"/>
<line x1="92.6" y1="661.8" x2="88.36" y2="663.3" stroke="#3a3a3a" stroke-width="1.1"/>
<line x1="233.5" y1="747.25" x2="237.35" y2="749.58" stroke="#3a3a3a" stroke-width="1.1"/>
<line x1="325.25" y1="714.88" x2="329.1" y2="717.21" stroke="#3a3a3a" stroke-width="1.1"/>
<line x1="417" y1="682.5" x2="420.85" y2="684.83" stroke="#3a3a3a" stroke-width="1.1"/>
<text transform="translate(81.5 662.34) scale(1.25 1)" font-size="14" text-anchor="end" class="t">-300</text>
<text transform="translate(81.5 616.29) scale(1.25 1)" font-size="14" text-anchor="end" class="t">-200</text>
<text transform="translate(81.5 570.24) scale(1.25 1)" font-size="14" text-anchor="end" class="t">-100</text>
<text transform="translate(81.5 524.19) scale(1.25 1)" font-size="14" text-anchor="end" class="t">0</text>
<text transform="translate(81.5 478.14) scale(1.25 1)" font-size="14" text-anchor="end" class="t">100</text>
<text transform="translate(217.75 764.54) scale(1.25 1)" font-size="14" text-anchor="middle" class="t">0</text>
<text transform="translate(140.05 722.56) scale(1.25 1)" font-size="14" text-anchor="middle" class="t">0.5</text>
<text transform="translate(75.25 680.29) scale(1.25 1)" font-size="14" text-anchor="middle" class="t">1</text>
<text transform="translate(248.5 766.79) scale(1.25 1)" font-size="14" text-anchor="middle" class="t">0</text>
<text transform="translate(349 734.41) scale(1.25 1)" font-size="14" text-anchor="middle" class="t">0.5</text>
<text transform="translate(432.6 701.84) scale(1.25 1)" font-size="14" text-anchor="middle" class="t">1</text>
<text transform="translate(80 764.58) scale(1.25 1)" font-size="15.5" text-anchor="middle" class="t">FinS</text>
<text transform="translate(392.5 785.58) scale(1.25 1)" font-size="15.5" text-anchor="middle" class="t">TNI</text>
<rect x="479.8" y="744.66" width="36.7" height="5.84" fill="#00008f"/>
<rect x="479.8" y="739.43" width="36.7" height="5.84" fill="#00009f"/>
<rect x="479.8" y="734.19" width="36.7" height="5.84" fill="#0000af"/>
<rect x="479.8" y="728.96" width="36.7" height="5.84" fill="#0000bf"/>
<rect x="479.8" y="723.72" width="36.7" height="5.84" fill="#0000cf"/>
<rect x="479.8" y="718.48" width="36.7" height="5.84" fill="#0000df"/>
<rect x="479.8" y="713.25" width="36.7" height="5.84" fill="#0000ef"/>
<rect x="479.8" y="708.01" width="36.7" height="5.84" fill="#0000ff"/>
<rect x="479.8" y="702.78" width="36.7" height="5.84" fill="#0010ff"/>
<rect x="479.8" y="697.54" width="36.7" height="5.84" fill="#0020ff"/>
<rect x="479.8" y="692.3" width="36.7" height="5.84" fill="#0030ff"/>
<rect x="479.8" y="687.07" width="36.7" height="5.84" fill="#0040ff"/>
<rect x="479.8" y="681.83" width="36.7" height="5.84" fill="#0050ff"/>
<rect x="479.8" y="676.6" width="36.7" height="5.84" fill="#0060ff"/>
<rect x="479.8" y="671.36" width="36.7" height="5.84" fill="#0070ff"/>
<rect x="479.8" y="666.13" width="36.7" height="5.84" fill="#0080ff"/>
<rect x="479.8" y="660.89" width="36.7" height="5.84" fill="#008fff"/>
<rect x="479.8" y="655.65" width="36.7" height="5.84" fill="#009fff"/>
<rect x="479.8" y="650.42" width="36.7" height="5.84" fill="#00afff"/>
<rect x="479.8" y="645.18" width="36.7" height="5.84" fill="#00bfff"/>
<rect x="479.8" y="639.95" width="36.7" height="5.84" fill="#00cfff"/>
<rect x="479.8" y="634.71" width="36.7" height="5.84" fill="#00dfff"/>
<rect x="479.8" y="629.47" width="36.7" height="5.84" fill="#00efff"/>
<rect x="479.8" y="624.24" width="36.7" height="5.84" fill="#00ffff"/>
<rect x="479.8" y="619" width="36.7" height="5.84" fill="#10ffef"/>
<rect x="479.8" y="613.77" width="36.7" height="5.84" fill="#20ffdf"/>
<rect x="479.8" y="608.53" width="36.7" height="5.84" fill="#30ffcf"/>
<rect x="479.8" y="603.29" width="36.7" height="5.84" fill="#40ffbf"/>
<rect x="479.8" y="598.06" width="36.7" height="5.84" fill="#50ffaf"/>
<rect x="479.8" y="592.82" width="36.7" height="5.84" fill="#60ff9f"/>
<rect x="479.8" y="587.59" width="36.7" height="5.84" fill="#70ff8f"/>
<rect x="479.8" y="582.35" width="36.7" height="5.84" fill="#80ff80"/>
<rect x="479.8" y="577.11" width="36.7" height="5.84" fill="#8fff70"/>
<rect x="479.8" y="571.88" width="36.7" height="5.84" fill="#9fff60"/>
<rect x="479.8" y="566.64" width="36.7" height="5.84" fill="#afff50"/>
<rect x="479.8" y="561.41" width="36.7" height="5.84" fill="#bfff40"/>
<rect x="479.8" y="556.17" width="36.7" height="5.84" fill="#cfff30"/>
<rect x="479.8" y="550.93" width="36.7" height="5.84" fill="#dfff20"/>
<rect x="479.8" y="545.7" width="36.7" height="5.84" fill="#efff10"/>
<rect x="479.8" y="540.46" width="36.7" height="5.84" fill="#ffff00"/>
<rect x="479.8" y="535.23" width="36.7" height="5.84" fill="#ffef00"/>
<rect x="479.8" y="529.99" width="36.7" height="5.84" fill="#ffdf00"/>
<rect x="479.8" y="524.75" width="36.7" height="5.84" fill="#ffcf00"/>
<rect x="479.8" y="519.52" width="36.7" height="5.84" fill="#ffbf00"/>
<rect x="479.8" y="514.28" width="36.7" height="5.84" fill="#ffaf00"/>
<rect x="479.8" y="509.05" width="36.7" height="5.84" fill="#ff9f00"/>
<rect x="479.8" y="503.81" width="36.7" height="5.84" fill="#ff8f00"/>
<rect x="479.8" y="498.58" width="36.7" height="5.84" fill="#ff8000"/>
<rect x="479.8" y="493.34" width="36.7" height="5.84" fill="#ff7000"/>
<rect x="479.8" y="488.1" width="36.7" height="5.84" fill="#ff6000"/>
<rect x="479.8" y="482.87" width="36.7" height="5.84" fill="#ff5000"/>
<rect x="479.8" y="477.63" width="36.7" height="5.84" fill="#ff4000"/>
<rect x="479.8" y="472.4" width="36.7" height="5.84" fill="#ff3000"/>
<rect x="479.8" y="467.16" width="36.7" height="5.84" fill="#ff2000"/>
<rect x="479.8" y="461.92" width="36.7" height="5.84" fill="#ff1000"/>
<rect x="479.8" y="456.69" width="36.7" height="5.84" fill="#ff0000"/>
<rect x="479.8" y="451.45" width="36.7" height="5.84" fill="#ef0000"/>
<rect x="479.8" y="446.22" width="36.7" height="5.84" fill="#df0000"/>
<rect x="479.8" y="440.98" width="36.7" height="5.84" fill="#cf0000"/>
<rect x="479.8" y="435.74" width="36.7" height="5.84" fill="#bf0000"/>
<rect x="479.8" y="430.51" width="36.7" height="5.84" fill="#af0000"/>
<rect x="479.8" y="425.27" width="36.7" height="5.84" fill="#9f0000"/>
<rect x="479.8" y="420.04" width="36.7" height="5.84" fill="#8f0000"/>
<rect x="479.8" y="414.8" width="36.7" height="5.84" fill="#800000"/>
<rect x="479.8" y="415.1" width="36.7" height="335.1" fill="none" stroke="#3a3a3a" stroke-width="0.8"/>
<line x1="513.5" y1="742.55" x2="516.5" y2="742.55" stroke="#3a3a3a" stroke-width="1"/>
<text transform="translate(524.4 747.59) scale(1.25 1)" font-size="14" text-anchor="start" class="t">-200</text>
<line x1="513.5" y1="681.87" x2="516.5" y2="681.87" stroke="#3a3a3a" stroke-width="1"/>
<text transform="translate(524.4 686.91) scale(1.25 1)" font-size="14" text-anchor="start" class="t">-150</text>
<line x1="513.5" y1="621.18" x2="516.5" y2="621.18" stroke="#3a3a3a" stroke-width="1"/>
<text transform="translate(524.4 626.22) scale(1.25 1)" font-size="14" text-anchor="start" class="t">-100</text>
<line x1="513.5" y1="560.5" x2="516.5" y2="560.5" stroke="#3a3a3a" stroke-width="1"/>
<text transform="translate(524.4 565.54) scale(1.25 1)" font-size="14" text-anchor="start" class="t">-50</text>
<line x1="513.5" y1="499.82" x2="516.5" y2="499.82" stroke="#3a3a3a" stroke-width="1"/>
<text transform="translate(524.4 504.86) scale(1.25 1)" font-size="14" text-anchor="start" class="t">0</text>
<line x1="513.5" y1="439.13" x2="516.5" y2="439.13" stroke="#3a3a3a" stroke-width="1"/>
<text transform="translate(524.4 444.17) scale(1.25 1)" font-size="14" text-anchor="start" class="t">50</text>
<line x1="685.2" y1="669.8" x2="885.2" y2="604.3" stroke="#dedede" stroke-width="1"/>
<line x1="885.2" y1="604.3" x2="1038.75" y2="690.5" stroke="#dedede" stroke-width="1"/>
<line x1="685.2" y1="623" x2="885.2" y2="557.5" stroke="#dedede" stroke-width="1"/>
<line x1="885.2" y1="557.5" x2="1038.75" y2="643.7" stroke="#dedede" stroke-width="1"/>
<line x1="685.2" y1="576.2" x2="885.2" y2="510.7" stroke="#dedede" stroke-width="1"/>
<line x1="885.2" y1="510.7" x2="1038.75" y2="596.9" stroke="#dedede" stroke-width="1"/>
<line x1="685.2" y1="529.4" x2="885.2" y2="463.9" stroke="#dedede" stroke-width="1"/>
<line x1="885.2" y1="463.9" x2="1038.75" y2="550.1" stroke="#dedede" stroke-width="1"/>
<line x1="685.2" y1="482.6" x2="885.2" y2="417.1" stroke="#dedede" stroke-width="1"/>
<line x1="885.2" y1="417.1" x2="1038.75" y2="503.3" stroke="#dedede" stroke-width="1"/>
<line x1="785.2" y1="637.05" x2="785.2" y2="449.85" stroke="#dedede" stroke-width="1"/>
<line x1="885.2" y1="604.3" x2="885.2" y2="417.1" stroke="#dedede" stroke-width="1"/>
<line x1="1038.75" y1="690.5" x2="1038.75" y2="503.3" stroke="#dedede" stroke-width="1"/>
<line x1="961.98" y1="647.4" x2="961.98" y2="460.2" stroke="#dedede" stroke-width="1"/>
<line x1="938.75" y1="723.25" x2="785.2" y2="637.05" stroke="#dedede" stroke-width="1"/>
<line x1="1038.75" y1="690.5" x2="885.2" y2="604.3" stroke="#dedede" stroke-width="1"/>
<line x1="761.98" y1="712.9" x2="961.98" y2="647.4" stroke="#dedede" stroke-width="1"/>
<line x1="685.2" y1="669.8" x2="885.2" y2="604.3" stroke="#dedede" stroke-width="1"/>
<polygon points="882.88,551.04 892.88,547.77 885.2,543.46 875.2,518.66" fill="#0050ff" stroke="#000" stroke-width="1.3" stroke-linejoin="round"/>
<polygon points="890.56,555.35 900.56,552.08 892.88,547.77 882.88,551.04" fill="#0050ff" stroke="#000" stroke-width="1.3" stroke-linejoin="round"/>
<polygon points="898.23,559.66 908.23,556.39 900.56,552.08 890.56,555.35" fill="#0050ff" stroke="#000" stroke-width="1.3" stroke-linejoin="round"/>
<polygon points="872.88,526.24 882.88,551.04 875.2,518.66 865.2,521.93" fill="#9fff60" stroke="#000" stroke-width="1.3" stroke-linejoin="round"/>
<polygon points="880.56,530.55 890.56,555.35 882.88,551.04 872.88,526.24" fill="#9fff60" stroke="#000" stroke-width="1.3" stroke-linejoin="round"/>
<polygon points="905.91,563.97 915.91,560.7 908.23,556.39 898.23,559.66" fill="#0050ff" stroke="#000" stroke-width="1.3" stroke-linejoin="round"/>
<polygon points="888.23,562.94 898.23,559.66 890.56,555.35 880.56,530.55" fill="#0050ff" stroke="#000" stroke-width="1.3" stroke-linejoin="round"/>
<polygon points="862.88,529.52 872.88,526.24 865.2,521.93 855.2,525.21" fill="#9fff60" stroke="#000" stroke-width="1.3" stroke-linejoin="round"/>
<polygon points="895.91,567.25 905.91,563.97 898.23,559.66 888.23,562.94" fill="#0050ff" stroke="#000" stroke-width="1.3" stroke-linejoin="round"/>
<polygon points="913.59,568.28 923.59,565.01 915.91,560.7 905.91,563.97" fill="#0050ff" stroke="#000" stroke-width="1.3" stroke-linejoin="round"/>
<polygon points="852.88,532.79 862.88,529.52 855.2,525.21 845.2,528.48" fill="#9fff60" stroke="#000" stroke-width="1.3" stroke-linejoin="round"/>
<polygon points="870.56,533.83 880.56,530.55 872.88,526.24 862.88,529.52" fill="#9fff60" stroke="#000" stroke-width="1.3" stroke-linejoin="round"/>
<polygon points="903.59,571.56 913.59,568.28 905.91,563.97 895.91,567.25" fill="#0050ff" stroke="#000" stroke-width="1.3" stroke-linejoin="round"/>
<polygon points="921.27,572.59 931.27,569.32 923.59,565.01 913.59,568.28" fill="#0050ff" stroke="#000" stroke-width="1.3" stroke-linejoin="round"/>
<polygon points="878.23,538.19 888.23,562.94 880.56,530.55 870.56,533.83" fill="#9fff60" stroke="#000" stroke-width="1.3" stroke-linejoin="round"/>
<polygon points="842.88,536.07 852.88,532.79 845.2,528.48 835.2,531.76" fill="#9fff60" stroke="#000" stroke-width="1.3" stroke-linejoin="round"/>
<polygon points="860.56,537.12 870.56,533.83 862.88,529.52 852.88,532.79" fill="#9fff60" stroke="#000" stroke-width="1.3" stroke-linejoin="round"/>
<polygon points="885.91,542.92 895.91,567.25 888.23,562.94 878.23,538.19" fill="#9fff60" stroke="#000" stroke-width="1.3" stroke-linejoin="round"/>
<polygon points="911.27,575.87 921.27,572.59 913.59,568.28 903.59,571.56" fill="#0050ff" stroke="#000" stroke-width="1.3" stroke-linejoin="round"/>
<polygon points="928.94,576.9 938.94,573.63 931.27,569.32 921.27,572.59" fill="#0050ff" stroke="#000" stroke-width="1.3" stroke-linejoin="round"/>
<polygon points="832.88,539.34 842.88,536.07 835.2,531.76 825.2,535.03" fill="#9fff60" stroke="#000" stroke-width="1.3" stroke-linejoin="round"/>
<polygon points="893.59,574.83 903.59,571.56 895.91,567.25 885.91,542.92" fill="#0050ff" stroke="#000" stroke-width="1.3" stroke-linejoin="round"/>
<polygon points="850.56,540.42 860.56,537.12 852.88,532.79 842.88,536.07" fill="#9fff60" stroke="#000" stroke-width="1.3" stroke-linejoin="round"/>
<polygon points="868.23,541.75 878.23,538.19 870.56,533.83 860.56,537.12" fill="#9fff60" stroke="#000" stroke-width="1.3" stroke-linejoin="round"/>
<polygon points="901.27,579.14 911.27,575.87 903.59,571.56 893.59,574.83" fill="#0050ff" stroke="#000" stroke-width="1.3" stroke-linejoin="round"/>
<polygon points="918.94,580.18 928.94,576.9 921.27,572.59 911.27,575.87" fill="#0050ff" stroke="#000" stroke-width="1.3" stroke-linejoin="round"/>
<polygon points="822.88,542.62 832.88,539.34 825.2,535.03 815.2,538.31" fill="#9fff60" stroke="#000" stroke-width="1.3" stroke-linejoin="round"/>
<polygon points="936.62,581.21 946.62,577.94 938.94,573.63 928.94,576.9" fill="#0080ff" stroke="#000" stroke-width="1.3" stroke-linejoin="round"/>
<polygon points="840.56,543.7 850.56,540.42 842.88,536.07 832.88,539.34" fill="#9fff60" stroke="#000" stroke-width="1.3" stroke-linejoin="round"/>
<polygon points="858.23,545.54 868.23,541.75 860.56,537.12 850.56,540.42" fill="#9fff60" stroke="#000" stroke-width="1.3" stroke-linejoin="round"/>
<polygon points="875.91,548.46 885.91,542.92 878.23,538.19 868.23,541.75" fill="#80ff80" stroke="#000" stroke-width="1.3" stroke-linejoin="round"/>
<polygon points="908.94,583.46 918.94,580.18 911.27,575.87 901.27,579.14" fill="#0050ff" stroke="#000" stroke-width="1.3" stroke-linejoin="round"/>
<polygon points="812.88,545.89 822.88,542.62 815.2,538.31 805.2,541.58" fill="#9fff60" stroke="#000" stroke-width="1.3" stroke-linejoin="round"/>
<polygon points="883.59,559.59 893.59,574.83 885.91,542.92 875.91,548.46" fill="#40ffbf" stroke="#000" stroke-width="1.3" stroke-linejoin="round"/>
<polygon points="926.62,584.49 936.62,581.21 928.94,576.9 918.94,580.18" fill="#0080ff" stroke="#000" stroke-width="1.3" stroke-linejoin="round"/>
<polygon points="830.56,546.95 840.56,543.7 832.88,539.34 822.88,542.62" fill="#9fff60" stroke="#000" stroke-width="1.3" stroke-linejoin="round"/>
<polygon points="891.27,568.84 901.27,579.14 893.59,574.83 883.59,559.59" fill="#10ffef" stroke="#000" stroke-width="1.3" stroke-linejoin="round"/>
<polygon points="848.23,548.89 858.23,545.54 850.56,540.42 840.56,543.7" fill="#9fff60" stroke="#000" stroke-width="1.3" stroke-linejoin="round"/>
<polygon points="944.3,585.52 954.3,582.25 946.62,577.94 936.62,581.21" fill="#0080ff" stroke="#000" stroke-width="1.3" stroke-linejoin="round"/>
<polygon points="865.91,555.84 875.91,548.46 868.23,541.75 858.23,545.54" fill="#60ff9f" stroke="#000" stroke-width="1.3" stroke-linejoin="round"/>
<polygon points="802.88,549.17 812.88,545.89 805.2,541.58 795.2,544.86" fill="#9fff60" stroke="#000" stroke-width="1.3" stroke-linejoin="round"/>
<polygon points="873.59,577.2 883.59,559.59 875.91,548.46 865.91,555.84" fill="#00afff" stroke="#000" stroke-width="1.3" stroke-linejoin="round"/>
<polygon points="916.62,587.76 926.62,584.49 918.94,580.18 908.94,583.46" fill="#0080ff" stroke="#000" stroke-width="1.3" stroke-linejoin="round"/>
<polygon points="820.56,550.2 830.56,546.95 822.88,542.62 812.88,545.89" fill="#9fff60" stroke="#000" stroke-width="1.3" stroke-linejoin="round"/>
<polygon points="898.94,586.73 908.94,583.46 901.27,579.14 891.27,568.84" fill="#0050ff" stroke="#000" stroke-width="1.3" stroke-linejoin="round"/>
<polygon points="871.27,600.29 881.27,593.87 873.59,577.2 863.59,582.56" fill="#0010ff" stroke="#000" stroke-width="1.3" stroke-linejoin="round"/>
<polygon points="881.27,593.87 891.27,568.84 883.59,559.59 873.59,577.2" fill="#0030ff" stroke="#000" stroke-width="1.3" stroke-linejoin="round"/>
<polygon points="855.91,559.71 865.91,555.84 858.23,545.54 848.23,548.89" fill="#50ffaf" stroke="#000" stroke-width="1.3" stroke-linejoin="round"/>
<polygon points="838.23,551.67 848.23,548.89 840.56,543.7 830.56,546.95" fill="#9fff60" stroke="#000" stroke-width="1.3" stroke-linejoin="round"/>
<polygon points="863.59,582.56 873.59,577.2 865.91,555.84 855.91,559.71" fill="#009fff" stroke="#000" stroke-width="1.3" stroke-linejoin="round"/>
<polygon points="934.3,586.23 944.3,585.52 936.62,581.21 926.62,584.49" fill="#008fff" stroke="#000" stroke-width="1.3" stroke-linejoin="round"/>
<polygon points="792.88,552.44 802.88,549.17 795.2,544.86 785.2,548.13" fill="#9fff60" stroke="#000" stroke-width="1.3" stroke-linejoin="round"/>
<polygon points="888.94,585.82 898.94,586.73 891.27,568.84 881.27,593.87" fill="#00afff" stroke="#000" stroke-width="1.3" stroke-linejoin="round"/>
<polygon points="906.62,591.04 916.62,587.76 908.94,583.46 898.94,586.73" fill="#0050ff" stroke="#000" stroke-width="1.3" stroke-linejoin="round"/>
<polygon points="951.98,578.25 961.98,582.35 954.3,582.25 944.3,585.52" fill="#00dfff" stroke="#000" stroke-width="1.3" stroke-linejoin="round"/>
<polygon points="810.56,553.48 820.56,550.2 812.88,545.89 802.88,549.17" fill="#9fff60" stroke="#000" stroke-width="1.3" stroke-linejoin="round"/>
<polygon points="828.23,554.6 838.23,551.67 830.56,546.95 820.56,550.2" fill="#9fff60" stroke="#000" stroke-width="1.3" stroke-linejoin="round"/>
<polygon points="845.91,559.06 855.91,559.71 848.23,548.89 838.23,551.67" fill="#80ff80" stroke="#000" stroke-width="1.3" stroke-linejoin="round"/>
<polygon points="878.94,591.18 888.94,585.82 881.27,593.87 871.27,600.29" fill="#009fff" stroke="#000" stroke-width="1.3" stroke-linejoin="round"/>
<polygon points="924.3,582.13 934.3,586.23 926.62,584.49 916.62,587.76" fill="#00cfff" stroke="#000" stroke-width="1.3" stroke-linejoin="round"/>
<polygon points="853.59,572.13 863.59,582.56 855.91,559.71 845.91,559.06" fill="#20ffdf" stroke="#000" stroke-width="1.3" stroke-linejoin="round"/>
<polygon points="782.88,555.72 792.88,552.44 785.2,548.13 775.2,551.41" fill="#9fff60" stroke="#000" stroke-width="1.3" stroke-linejoin="round"/>
<polygon points="861.27,582.78 871.27,600.29 863.59,582.56 853.59,572.13" fill="#00dfff" stroke="#000" stroke-width="1.3" stroke-linejoin="round"/>
<polygon points="800.56,556.75 810.56,553.48 802.88,549.17 792.88,552.44" fill="#9fff60" stroke="#000" stroke-width="1.3" stroke-linejoin="round"/>
<polygon points="896.62,594.31 906.62,591.04 898.94,586.73 888.94,585.82" fill="#0050ff" stroke="#000" stroke-width="1.3" stroke-linejoin="round"/>
<polygon points="818.23,557.79 828.23,554.6 820.56,550.2 810.56,553.48" fill="#9fff60" stroke="#000" stroke-width="1.3" stroke-linejoin="round"/>
<polygon points="941.98,574.16 951.98,578.25 944.3,585.52 934.3,586.23" fill="#20ffdf" stroke="#000" stroke-width="1.3" stroke-linejoin="round"/>
<polygon points="835.91,559.54 845.91,559.06 838.23,551.67 828.23,554.6" fill="#9fff60" stroke="#000" stroke-width="1.3" stroke-linejoin="round"/>
<polygon points="914.3,595.35 924.3,582.13 916.62,587.76 906.62,591.04" fill="#0050ff" stroke="#000" stroke-width="1.3" stroke-linejoin="round"/>
<polygon points="772.88,558.99 782.88,555.72 775.2,551.41 765.2,554.68" fill="#9fff60" stroke="#000" stroke-width="1.3" stroke-linejoin="round"/>
<polygon points="790.56,560.03 800.56,556.75 792.88,552.44 782.88,555.72" fill="#9fff60" stroke="#000" stroke-width="1.3" stroke-linejoin="round"/>
<polygon points="868.94,580.75 878.94,591.18 871.27,600.29 861.27,582.78" fill="#20ffdf" stroke="#000" stroke-width="1.3" stroke-linejoin="round"/>
<polygon points="886.62,597.59 896.62,594.31 888.94,585.82 878.94,591.18" fill="#0050ff" stroke="#000" stroke-width="1.3" stroke-linejoin="round"/>
<polygon points="904.3,598.62 914.3,595.35 906.62,591.04 896.62,594.31" fill="#0050ff" stroke="#000" stroke-width="1.3" stroke-linejoin="round"/>
<polygon points="808.23,561.06 818.23,557.79 810.56,553.48 800.56,556.75" fill="#9fff60" stroke="#000" stroke-width="1.3" stroke-linejoin="round"/>
<polygon points="843.59,565.65 853.59,572.13 845.91,559.06 835.91,559.54" fill="#8fff70" stroke="#000" stroke-width="1.3" stroke-linejoin="round"/>
<polygon points="959.65,566.18 969.65,570.28 961.98,582.35 951.98,578.25" fill="#60ff9f" stroke="#000" stroke-width="1.3" stroke-linejoin="round"/>
<polygon points="825.91,562.16 835.91,559.54 828.23,554.6 818.23,557.79" fill="#9fff60" stroke="#000" stroke-width="1.3" stroke-linejoin="round"/>
<polygon points="762.88,562.27 772.88,558.99 765.2,554.68 755.2,557.96" fill="#9fff60" stroke="#000" stroke-width="1.3" stroke-linejoin="round"/>
<polygon points="780.56,563.3 790.56,560.03 782.88,555.72 772.88,558.99" fill="#9fff60" stroke="#000" stroke-width="1.3" stroke-linejoin="round"/>
<polygon points="931.98,570.06 941.98,574.16 934.3,586.23 924.3,582.13" fill="#50ffaf" stroke="#000" stroke-width="1.3" stroke-linejoin="round"/>
<polygon points="851.27,571.26 861.27,582.78 853.59,572.13 843.59,565.65" fill="#80ff80" stroke="#000" stroke-width="1.3" stroke-linejoin="round"/>
<polygon points="894.3,601.9 904.3,598.62 896.62,594.31 886.62,597.59" fill="#0050ff" stroke="#000" stroke-width="1.3" stroke-linejoin="round"/>
<polygon points="798.23,564.34 808.23,561.06 800.56,556.75 790.56,560.03" fill="#9fff60" stroke="#000" stroke-width="1.3" stroke-linejoin="round"/>
<polygon points="876.62,600.86 886.62,597.59 878.94,591.18 868.94,580.75" fill="#0050ff" stroke="#000" stroke-width="1.3" stroke-linejoin="round"/>
<polygon points="921.98,599.66 931.98,570.06 924.3,582.13 914.3,595.35" fill="#0050ff" stroke="#000" stroke-width="1.3" stroke-linejoin="round"/>
<polygon points="911.98,602.93 921.98,599.66 914.3,595.35 904.3,598.62" fill="#0050ff" stroke="#000" stroke-width="1.3" stroke-linejoin="round"/>
<polygon points="815.91,565.37 825.91,562.16 818.23,557.79 808.23,561.06" fill="#9fff60" stroke="#000" stroke-width="1.3" stroke-linejoin="round"/>
<polygon points="752.88,565.54 762.88,562.27 755.2,557.96 745.2,561.23" fill="#9fff60" stroke="#000" stroke-width="1.3" stroke-linejoin="round"/>
<polygon points="833.59,566.63 843.59,565.65 835.91,559.54 825.91,562.16" fill="#9fff60" stroke="#000" stroke-width="1.3" stroke-linejoin="round"/>
<polygon points="770.56,566.58 780.56,563.3 772.88,558.99 762.88,562.27" fill="#9fff60" stroke="#000" stroke-width="1.3" stroke-linejoin="round"/>
<polygon points="949.65,562.09 959.65,566.18 951.98,578.25 941.98,574.16" fill="#9fff60" stroke="#000" stroke-width="1.3" stroke-linejoin="round"/>
<polygon points="884.3,605.17 894.3,601.9 886.62,597.59 876.62,600.86" fill="#0050ff" stroke="#000" stroke-width="1.3" stroke-linejoin="round"/>
<polygon points="788.23,567.61 798.23,564.34 790.56,560.03 780.56,563.3" fill="#9fff60" stroke="#000" stroke-width="1.3" stroke-linejoin="round"/>
<polygon points="858.94,574.27 868.94,580.75 861.27,582.78 851.27,571.26" fill="#8fff70" stroke="#000" stroke-width="1.3" stroke-linejoin="round"/>
<polygon points="901.98,606.21 911.98,602.93 904.3,598.62 894.3,601.9" fill="#0050ff" stroke="#000" stroke-width="1.3" stroke-linejoin="round"/>
<polygon points="805.91,568.65 815.91,565.37 808.23,561.06 798.23,564.34" fill="#9fff60" stroke="#000" stroke-width="1.3" stroke-linejoin="round"/>
<polygon points="742.88,568.81 752.88,565.54 745.2,561.23 735.2,564.5" fill="#9fff60" stroke="#000" stroke-width="1.3" stroke-linejoin="round"/>
<polygon points="919.65,607.25 929.65,603.97 921.98,599.66 911.98,602.93" fill="#0050ff" stroke="#000" stroke-width="1.3" stroke-linejoin="round"/>
<polygon points="823.59,569.69 833.59,566.63 825.91,562.16 815.91,565.37" fill="#9fff60" stroke="#000" stroke-width="1.3" stroke-linejoin="round"/>
<polygon points="760.56,569.85 770.56,566.58 762.88,562.27 752.88,565.54" fill="#9fff60" stroke="#000" stroke-width="1.3" stroke-linejoin="round"/>
<polygon points="866.62,604.14 876.62,600.86 868.94,580.75 858.94,574.27" fill="#0050ff" stroke="#000" stroke-width="1.3" stroke-linejoin="round"/>
<polygon points="841.27,571.06 851.27,571.26 843.59,565.65 833.59,566.63" fill="#9fff60" stroke="#000" stroke-width="1.3" stroke-linejoin="round"/>
<polygon points="874.3,608.45 884.3,605.17 876.62,600.86 866.62,604.14" fill="#0050ff" stroke="#000" stroke-width="1.3" stroke-linejoin="round"/>
<polygon points="778.23,570.89 788.23,567.61 780.56,563.3 770.56,566.58" fill="#9fff60" stroke="#000" stroke-width="1.3" stroke-linejoin="round"/>
<polygon points="967.33,554.11 977.33,558.21 969.65,570.28 959.65,566.18" fill="#efff10" stroke="#000" stroke-width="1.3" stroke-linejoin="round"/>
<polygon points="891.98,609.48 901.98,606.21 894.3,601.9 884.3,605.17" fill="#0050ff" stroke="#000" stroke-width="1.3" stroke-linejoin="round"/>
<polygon points="795.91,571.92 805.91,568.65 798.23,564.34 788.23,567.61" fill="#9fff60" stroke="#000" stroke-width="1.3" stroke-linejoin="round"/>
<polygon points="929.65,603.97 939.65,557.99 931.98,570.06 921.98,599.66" fill="#0050ff" stroke="#000" stroke-width="1.3" stroke-linejoin="round"/>
<polygon points="732.88,572.09 742.88,568.81 735.2,564.5 725.2,567.78" fill="#9fff60" stroke="#000" stroke-width="1.3" stroke-linejoin="round"/>
<polygon points="909.65,610.52 919.65,607.25 911.98,602.93 901.98,606.21" fill="#0050ff" stroke="#000" stroke-width="1.3" stroke-linejoin="round"/>
<polygon points="813.59,572.96 823.59,569.69 815.91,565.37 805.91,568.65" fill="#9fff60" stroke="#000" stroke-width="1.3" stroke-linejoin="round"/>
<polygon points="750.56,573.12 760.56,569.85 752.88,565.54 742.88,568.81" fill="#9fff60" stroke="#000" stroke-width="1.3" stroke-linejoin="round"/>
<polygon points="939.65,557.99 949.65,562.09 941.98,574.16 931.98,570.06" fill="#dfff20" stroke="#000" stroke-width="1.3" stroke-linejoin="round"/>
<polygon points="927.33,611.55 937.33,608.28 929.65,603.97 919.65,607.25" fill="#0050ff" stroke="#000" stroke-width="1.3" stroke-linejoin="round"/>
<polygon points="831.27,574 841.27,571.06 833.59,566.63 823.59,569.69" fill="#9fff60" stroke="#000" stroke-width="1.3" stroke-linejoin="round"/>
<polygon points="864.3,611.72 874.3,608.45 866.62,604.14 856.62,607.41" fill="#0050ff" stroke="#000" stroke-width="1.3" stroke-linejoin="round"/>
<polygon points="768.23,574.16 778.23,570.89 770.56,566.58 760.56,569.85" fill="#9fff60" stroke="#000" stroke-width="1.3" stroke-linejoin="round"/>
<polygon points="856.62,607.41 866.62,604.14 858.94,574.27 848.94,575.25" fill="#0050ff" stroke="#000" stroke-width="1.3" stroke-linejoin="round"/>
<polygon points="848.94,575.25 858.94,574.27 851.27,571.26 841.27,571.06" fill="#9fff60" stroke="#000" stroke-width="1.3" stroke-linejoin="round"/>
<polygon points="881.98,612.76 891.98,609.48 884.3,605.17 874.3,608.45" fill="#0050ff" stroke="#000" stroke-width="1.3" stroke-linejoin="round"/>
<polygon points="785.91,575.2 795.91,571.92 788.23,567.61 778.23,570.89" fill="#9fff60" stroke="#000" stroke-width="1.3" stroke-linejoin="round"/>
<polygon points="722.88,575.36 732.88,572.09 725.2,567.78 715.2,571.05" fill="#9fff60" stroke="#000" stroke-width="1.3" stroke-linejoin="round"/>
<polygon points="899.65,613.79 909.65,610.52 901.98,606.21 891.98,609.48" fill="#0050ff" stroke="#000" stroke-width="1.3" stroke-linejoin="round"/>
<polygon points="803.59,576.23 813.59,572.96 805.91,568.65 795.91,571.92" fill="#9fff60" stroke="#000" stroke-width="1.3" stroke-linejoin="round"/>
<polygon points="740.56,576.4 750.56,573.12 742.88,568.81 732.88,572.09" fill="#9fff60" stroke="#000" stroke-width="1.3" stroke-linejoin="round"/>
<polygon points="821.27,577.27 831.27,574 823.59,569.69 813.59,572.96" fill="#9fff60" stroke="#000" stroke-width="1.3" stroke-linejoin="round"/>
<polygon points="957.33,550.02 967.33,554.11 959.65,566.18 949.65,562.09" fill="#ffcf00" stroke="#000" stroke-width="1.3" stroke-linejoin="round"/>
<polygon points="758.23,577.44 768.23,574.16 760.56,569.85 750.56,573.12" fill="#9fff60" stroke="#000" stroke-width="1.3" stroke-linejoin="round"/>
<polygon points="838.94,578.31 848.94,575.25 841.27,571.06 831.27,574" fill="#9fff60" stroke="#000" stroke-width="1.3" stroke-linejoin="round"/>
<polygon points="871.98,616.03 881.98,612.76 874.3,608.45 864.3,611.72" fill="#0050ff" stroke="#000" stroke-width="1.3" stroke-linejoin="round"/>
<polygon points="775.91,578.47 785.91,575.2 778.23,570.89 768.23,574.16" fill="#9fff60" stroke="#000" stroke-width="1.3" stroke-linejoin="round"/>
<polygon points="712.88,578.64 722.88,575.36 715.2,571.05 705.2,574.33" fill="#9fff60" stroke="#000" stroke-width="1.3" stroke-linejoin="round"/>
<polygon points="937.33,608.28 947.33,545.92 939.65,557.99 929.65,603.97" fill="#0050ff" stroke="#000" stroke-width="1.3" stroke-linejoin="round"/>
<polygon points="793.59,579.51 803.59,576.23 795.91,571.92 785.91,575.2" fill="#9fff60" stroke="#000" stroke-width="1.3" stroke-linejoin="round"/>
<polygon points="730.56,579.67 740.56,576.4 732.88,572.09 722.88,575.36" fill="#9fff60" stroke="#000" stroke-width="1.3" stroke-linejoin="round"/>
<polygon points="846.62,582.61 856.62,607.41 848.94,575.25 838.94,578.31" fill="#9fff60" stroke="#000" stroke-width="1.3" stroke-linejoin="round"/>
<polygon points="811.27,580.54 821.27,577.27 813.59,572.96 803.59,576.23" fill="#9fff60" stroke="#000" stroke-width="1.3" stroke-linejoin="round"/>
<polygon points="748.23,580.71 758.23,577.44 750.56,573.12 740.56,576.4" fill="#9fff60" stroke="#000" stroke-width="1.3" stroke-linejoin="round"/>
<polygon points="975.01,542.04 985.01,546.14 977.33,558.21 967.33,554.11" fill="#ff8f00" stroke="#000" stroke-width="1.3" stroke-linejoin="round"/>
<polygon points="828.94,581.58 838.94,578.31 831.27,574 821.27,577.27" fill="#9fff60" stroke="#000" stroke-width="1.3" stroke-linejoin="round"/>
<polygon points="765.91,581.75 775.91,578.47 768.23,574.16 758.23,577.44" fill="#9fff60" stroke="#000" stroke-width="1.3" stroke-linejoin="round"/>
<polygon points="854.3,586.92 864.3,611.72 856.62,607.41 846.62,582.61" fill="#9fff60" stroke="#000" stroke-width="1.3" stroke-linejoin="round"/>
<polygon points="783.59,582.78 793.59,579.51 785.91,575.2 775.91,578.47" fill="#9fff60" stroke="#000" stroke-width="1.3" stroke-linejoin="round"/>
<polygon points="947.33,545.92 957.33,550.02 949.65,562.09 939.65,557.99" fill="#ff9f00" stroke="#000" stroke-width="1.3" stroke-linejoin="round"/>
<polygon points="720.56,582.95 730.56,579.67 722.88,575.36 712.88,578.64" fill="#9fff60" stroke="#000" stroke-width="1.3" stroke-linejoin="round"/>
<polygon points="801.27,583.82 811.27,580.54 803.59,576.23 793.59,579.51" fill="#9fff60" stroke="#000" stroke-width="1.3" stroke-linejoin="round"/>
<polygon points="738.23,583.99 748.23,580.71 740.56,576.4 730.56,579.67" fill="#9fff60" stroke="#000" stroke-width="1.3" stroke-linejoin="round"/>
<polygon points="917.33,527.78 927.33,611.55 919.65,607.25 909.65,610.52" fill="#bf0000" stroke="#000" stroke-width="1.3" stroke-linejoin="round"/>
<polygon points="818.94,584.85 828.94,581.58 821.27,577.27 811.27,580.54" fill="#9fff60" stroke="#000" stroke-width="1.3" stroke-linejoin="round"/>
<polygon points="755.91,585.02 765.91,581.75 758.23,577.44 748.23,580.71" fill="#9fff60" stroke="#000" stroke-width="1.3" stroke-linejoin="round"/>
<polygon points="836.62,585.89 846.62,582.61 838.94,578.31 828.94,581.58" fill="#9fff60" stroke="#000" stroke-width="1.3" stroke-linejoin="round"/>
<polygon points="773.59,586.05 783.59,582.78 775.91,578.47 765.91,581.75" fill="#9fff60" stroke="#000" stroke-width="1.3" stroke-linejoin="round"/>
<polygon points="861.98,591.23 871.98,616.03 864.3,611.72 854.3,586.92" fill="#9fff60" stroke="#000" stroke-width="1.3" stroke-linejoin="round"/>
<polygon points="889.65,533.19 899.65,613.79 891.98,609.48 881.98,612.76" fill="#cf0000" stroke="#000" stroke-width="1.3" stroke-linejoin="round"/>
<polygon points="965.01,537.95 975.01,542.04 967.33,554.11 957.33,550.02" fill="#ff5000" stroke="#000" stroke-width="1.3" stroke-linejoin="round"/>
<polygon points="791.27,587.09 801.27,583.82 793.59,579.51 783.59,582.78" fill="#9fff60" stroke="#000" stroke-width="1.3" stroke-linejoin="round"/>
<polygon points="728.23,587.26 738.23,583.99 730.56,579.67 720.56,582.95" fill="#9fff60" stroke="#000" stroke-width="1.3" stroke-linejoin="round"/>
<polygon points="808.94,588.13 818.94,584.85 811.27,580.54 801.27,583.82" fill="#9fff60" stroke="#000" stroke-width="1.3" stroke-linejoin="round"/>
<polygon points="745.91,588.29 755.91,585.02 748.23,580.71 738.23,583.99" fill="#9fff60" stroke="#000" stroke-width="1.3" stroke-linejoin="round"/>
<polygon points="826.62,589.16 836.62,585.89 828.94,581.58 818.94,584.85" fill="#9fff60" stroke="#000" stroke-width="1.3" stroke-linejoin="round"/>
<polygon points="763.59,589.33 773.59,586.05 765.91,581.75 755.91,585.02" fill="#9fff60" stroke="#000" stroke-width="1.3" stroke-linejoin="round"/>
<polygon points="844.3,590.2 854.3,586.92 846.62,582.61 836.62,585.89" fill="#9fff60" stroke="#000" stroke-width="1.3" stroke-linejoin="round"/>
<polygon points="781.27,590.37 791.27,587.09 783.59,582.78 773.59,586.05" fill="#9fff60" stroke="#000" stroke-width="1.3" stroke-linejoin="round"/>
<polygon points="982.69,529.97 992.69,534.07 985.01,546.14 975.01,542.04" fill="#ff0000" stroke="#000" stroke-width="1.3" stroke-linejoin="round"/>
<polygon points="798.94,591.4 808.94,588.13 801.27,583.82 791.27,587.09" fill="#9fff60" stroke="#000" stroke-width="1.3" stroke-linejoin="round"/>
<polygon points="735.91,591.57 745.91,588.29 738.23,583.99 728.23,587.26" fill="#9fff60" stroke="#000" stroke-width="1.3" stroke-linejoin="round"/>
<polygon points="816.62,592.44 826.62,589.16 818.94,584.85 808.94,588.13" fill="#9fff60" stroke="#000" stroke-width="1.3" stroke-linejoin="round"/>
<polygon points="935.01,528.82 945.01,525.54 937.33,608.28 927.33,611.55" fill="#bf0000" stroke="#000" stroke-width="1.3" stroke-linejoin="round"/>
<polygon points="753.59,592.6 763.59,589.33 755.91,585.02 745.91,588.29" fill="#9fff60" stroke="#000" stroke-width="1.3" stroke-linejoin="round"/>
<polygon points="955.01,533.85 965.01,537.95 957.33,550.02 947.33,545.92" fill="#ff1000" stroke="#000" stroke-width="1.3" stroke-linejoin="round"/>
<polygon points="945.01,525.54 955.01,533.85 947.33,545.92 937.33,608.28" fill="#bf0000" stroke="#000" stroke-width="1.3" stroke-linejoin="round"/>
<polygon points="834.3,593.47 844.3,590.2 836.62,585.89 826.62,589.16" fill="#9fff60" stroke="#000" stroke-width="1.3" stroke-linejoin="round"/>
<polygon points="771.27,593.64 781.27,590.37 773.59,586.05 763.59,589.33" fill="#9fff60" stroke="#000" stroke-width="1.3" stroke-linejoin="round"/>
<polygon points="851.98,594.51 861.98,591.23 854.3,586.92 844.3,590.2" fill="#9fff60" stroke="#000" stroke-width="1.3" stroke-linejoin="round"/>
<polygon points="907.33,534.73 917.33,527.78 909.65,610.52 899.65,613.79" fill="#cf0000" stroke="#000" stroke-width="1.3" stroke-linejoin="round"/>
<polygon points="788.94,594.68 798.94,591.4 791.27,587.09 781.27,590.37" fill="#9fff60" stroke="#000" stroke-width="1.3" stroke-linejoin="round"/>
<polygon points="806.62,595.71 816.62,592.44 808.94,588.13 798.94,591.4" fill="#9fff60" stroke="#000" stroke-width="1.3" stroke-linejoin="round"/>
<polygon points="743.59,595.88 753.59,592.6 745.91,588.29 735.91,591.57" fill="#9fff60" stroke="#000" stroke-width="1.3" stroke-linejoin="round"/>
<polygon points="879.65,541.57 889.65,533.19 881.98,612.76 871.98,616.03" fill="#df0000" stroke="#000" stroke-width="1.3" stroke-linejoin="round"/>
<polygon points="824.3,596.75 834.3,593.47 826.62,589.16 816.62,592.44" fill="#9fff60" stroke="#000" stroke-width="1.3" stroke-linejoin="round"/>
<polygon points="761.27,596.91 771.27,593.64 763.59,589.33 753.59,592.6" fill="#9fff60" stroke="#000" stroke-width="1.3" stroke-linejoin="round"/>
<polygon points="972.69,523.3 982.69,529.97 975.01,542.04 965.01,537.95" fill="#bf0000" stroke="#000" stroke-width="1.3" stroke-linejoin="round"/>
<polygon points="869.65,595.54 879.65,541.57 871.98,616.03 861.98,591.23" fill="#9fff60" stroke="#000" stroke-width="1.3" stroke-linejoin="round"/>
<polygon points="841.98,597.78 851.98,594.51 844.3,590.2 834.3,593.47" fill="#9fff60" stroke="#000" stroke-width="1.3" stroke-linejoin="round"/>
<polygon points="778.94,597.95 788.94,594.68 781.27,590.37 771.27,593.64" fill="#9fff60" stroke="#000" stroke-width="1.3" stroke-linejoin="round"/>
<polygon points="859.65,598.82 869.65,595.54 861.98,591.23 851.98,594.51" fill="#9fff60" stroke="#000" stroke-width="1.3" stroke-linejoin="round"/>
<polygon points="796.62,598.99 806.62,595.71 798.94,591.4 788.94,594.68" fill="#9fff60" stroke="#000" stroke-width="1.3" stroke-linejoin="round"/>
<polygon points="814.3,600.02 824.3,596.75 816.62,592.44 806.62,595.71" fill="#9fff60" stroke="#000" stroke-width="1.3" stroke-linejoin="round"/>
<polygon points="751.27,600.19 761.27,596.91 753.59,592.6 743.59,595.88" fill="#9fff60" stroke="#000" stroke-width="1.3" stroke-linejoin="round"/>
<polygon points="990.36,524.34 1000.36,521.06 992.69,534.07 982.69,529.97" fill="#bf0000" stroke="#000" stroke-width="1.3" stroke-linejoin="round"/>
<polygon points="831.98,601.06 841.98,597.78 834.3,593.47 824.3,596.75" fill="#9fff60" stroke="#000" stroke-width="1.3" stroke-linejoin="round"/>
<polygon points="768.94,601.23 778.94,597.95 771.27,593.64 761.27,596.91" fill="#9fff60" stroke="#000" stroke-width="1.3" stroke-linejoin="round"/>
<polygon points="849.65,602.09 859.65,598.82 851.98,594.51 841.98,597.78" fill="#9fff60" stroke="#000" stroke-width="1.3" stroke-linejoin="round"/>
<polygon points="786.62,602.26 796.62,598.99 788.94,594.68 778.94,597.95" fill="#9fff60" stroke="#000" stroke-width="1.3" stroke-linejoin="round"/>
<polygon points="962.69,526.58 972.69,523.3 965.01,537.95 955.01,533.85" fill="#bf0000" stroke="#000" stroke-width="1.3" stroke-linejoin="round"/>
<polygon points="925.01,536.28 935.01,528.82 927.33,611.55 917.33,527.78" fill="#cf0000" stroke="#000" stroke-width="1.3" stroke-linejoin="round"/>
<polygon points="867.33,603.13 877.33,599.85 869.65,595.54 859.65,598.82" fill="#9fff60" stroke="#000" stroke-width="1.3" stroke-linejoin="round"/>
<polygon points="804.3,603.29 814.3,600.02 806.62,595.71 796.62,598.99" fill="#9fff60" stroke="#000" stroke-width="1.3" stroke-linejoin="round"/>
<polygon points="897.33,543.11 907.33,534.73 899.65,613.79 889.65,533.19" fill="#df0000" stroke="#000" stroke-width="1.3" stroke-linejoin="round"/>
<polygon points="821.98,604.33 831.98,601.06 824.3,596.75 814.3,600.02" fill="#9fff60" stroke="#000" stroke-width="1.3" stroke-linejoin="round"/>
<polygon points="758.94,604.5 768.94,601.23 761.27,596.91 751.27,600.19" fill="#9fff60" stroke="#000" stroke-width="1.3" stroke-linejoin="round"/>
<polygon points="980.36,527.61 990.36,524.34 982.69,529.97 972.69,523.3" fill="#bf0000" stroke="#000" stroke-width="1.3" stroke-linejoin="round"/>
<polygon points="839.65,605.37 849.65,602.09 841.98,597.78 831.98,601.06" fill="#9fff60" stroke="#000" stroke-width="1.3" stroke-linejoin="round"/>
<polygon points="776.62,605.53 786.62,602.26 778.94,597.95 768.94,601.23" fill="#9fff60" stroke="#000" stroke-width="1.3" stroke-linejoin="round"/>
<polygon points="857.33,606.4 867.33,603.13 859.65,598.82 849.65,602.09" fill="#9fff60" stroke="#000" stroke-width="1.3" stroke-linejoin="round"/>
<polygon points="794.3,606.57 804.3,603.29 796.62,598.99 786.62,602.26" fill="#9fff60" stroke="#000" stroke-width="1.3" stroke-linejoin="round"/>
<polygon points="998.04,528.65 1008.04,525.37 1000.36,521.06 990.36,524.34" fill="#bf0000" stroke="#000" stroke-width="1.3" stroke-linejoin="round"/>
<polygon points="952.69,529.85 962.69,526.58 955.01,533.85 945.01,525.54" fill="#bf0000" stroke="#000" stroke-width="1.3" stroke-linejoin="round"/>
<polygon points="875.01,607.44 885.01,604.16 877.33,599.85 867.33,603.13" fill="#9fff60" stroke="#000" stroke-width="1.3" stroke-linejoin="round"/>
<polygon points="811.98,607.61 821.98,604.33 814.3,600.02 804.3,603.29" fill="#9fff60" stroke="#000" stroke-width="1.3" stroke-linejoin="round"/>
<polygon points="877.33,599.85 887.33,551.49 879.65,541.57 869.65,595.54" fill="#9fff60" stroke="#000" stroke-width="1.3" stroke-linejoin="round"/>
<polygon points="885.01,604.16 895.01,600.89 887.33,551.49 877.33,599.85" fill="#9fff60" stroke="#000" stroke-width="1.3" stroke-linejoin="round"/>
<polygon points="892.69,608.47 902.69,605.2 895.01,600.89 885.01,604.16" fill="#9fff60" stroke="#000" stroke-width="1.3" stroke-linejoin="round"/>
<polygon points="829.65,608.64 839.65,605.37 831.98,601.06 821.98,604.33" fill="#9fff60" stroke="#000" stroke-width="1.3" stroke-linejoin="round"/>
<polygon points="902.69,605.2 912.69,601.92 905.01,553.04 895.01,600.89" fill="#9fff60" stroke="#000" stroke-width="1.3" stroke-linejoin="round"/>
<polygon points="766.62,608.81 776.62,605.53 768.94,601.23 758.94,604.5" fill="#9fff60" stroke="#000" stroke-width="1.3" stroke-linejoin="round"/>
<polygon points="970.36,530.99 980.36,527.61 972.69,523.3 962.69,526.58" fill="#bf0000" stroke="#000" stroke-width="1.3" stroke-linejoin="round"/>
<polygon points="910.36,609.5 920.36,606.23 912.69,601.92 902.69,605.2" fill="#9fff60" stroke="#000" stroke-width="1.3" stroke-linejoin="round"/>
<polygon points="847.33,609.68 857.33,606.4 849.65,602.09 839.65,605.37" fill="#9fff60" stroke="#000" stroke-width="1.3" stroke-linejoin="round"/>
<polygon points="920.36,606.23 930.36,602.96 922.69,554.58 912.69,601.92" fill="#9fff60" stroke="#000" stroke-width="1.3" stroke-linejoin="round"/>
<polygon points="784.3,609.84 794.3,606.57 786.62,602.26 776.62,605.53" fill="#9fff60" stroke="#000" stroke-width="1.3" stroke-linejoin="round"/>
<polygon points="988.04,532.53 998.04,528.65 990.36,524.34 980.36,527.61" fill="#bf0000" stroke="#000" stroke-width="1.3" stroke-linejoin="round"/>
<polygon points="928.04,610.54 938.04,607.26 930.36,602.96 920.36,606.23" fill="#9fff60" stroke="#000" stroke-width="1.3" stroke-linejoin="round"/>
<polygon points="865.01,610.71 875.01,607.44 867.33,603.13 857.33,606.4" fill="#9fff60" stroke="#000" stroke-width="1.3" stroke-linejoin="round"/>
<polygon points="938.04,607.26 948.04,603.99 940.36,556.13 930.36,602.96" fill="#9fff60" stroke="#000" stroke-width="1.3" stroke-linejoin="round"/>
<polygon points="801.98,610.88 811.98,607.61 804.3,603.29 794.3,606.57" fill="#9fff60" stroke="#000" stroke-width="1.3" stroke-linejoin="round"/>
<polygon points="942.69,537.82 952.69,529.85 945.01,525.54 935.01,528.82" fill="#cf0000" stroke="#000" stroke-width="1.3" stroke-linejoin="round"/>
<polygon points="1005.72,534.08 1015.72,529.68 1008.04,525.37 998.04,528.65" fill="#bf0000" stroke="#000" stroke-width="1.3" stroke-linejoin="round"/>
<polygon points="945.72,611.57 955.72,608.3 948.04,603.99 938.04,607.26" fill="#9fff60" stroke="#000" stroke-width="1.3" stroke-linejoin="round"/>
<polygon points="955.72,608.3 965.72,605.02 958.04,557.68 948.04,603.99" fill="#9fff60" stroke="#000" stroke-width="1.3" stroke-linejoin="round"/>
<polygon points="882.69,611.75 892.69,608.47 885.01,604.16 875.01,607.44" fill="#9fff60" stroke="#000" stroke-width="1.3" stroke-linejoin="round"/>
<polygon points="819.65,611.92 829.65,608.64 821.98,604.33 811.98,607.61" fill="#9fff60" stroke="#000" stroke-width="1.3" stroke-linejoin="round"/>
<polygon points="960.36,539.37 970.36,530.99 962.69,526.58 952.69,529.85" fill="#cf0000" stroke="#000" stroke-width="1.3" stroke-linejoin="round"/>
<polygon points="963.39,612.61 973.39,609.34 965.72,605.02 955.72,608.3" fill="#9fff60" stroke="#000" stroke-width="1.3" stroke-linejoin="round"/>
<polygon points="915.01,544.66 925.01,536.28 917.33,527.78 907.33,534.73" fill="#ef0000" stroke="#000" stroke-width="1.3" stroke-linejoin="round"/>
<polygon points="895.01,600.89 905.01,553.04 897.33,543.11 887.33,551.49" fill="#9fff60" stroke="#000" stroke-width="1.3" stroke-linejoin="round"/>
<polygon points="973.39,609.34 983.39,606.06 975.72,559.22 965.72,605.02" fill="#9fff60" stroke="#000" stroke-width="1.3" stroke-linejoin="round"/>
<polygon points="900.36,612.78 910.36,609.5 902.69,605.2 892.69,608.47" fill="#9fff60" stroke="#000" stroke-width="1.3" stroke-linejoin="round"/>
<polygon points="837.33,612.95 847.33,609.68 839.65,605.37 829.65,608.64" fill="#9fff60" stroke="#000" stroke-width="1.3" stroke-linejoin="round"/>
<polygon points="978.04,540.92 988.04,532.53 980.36,527.61 970.36,530.99" fill="#df0000" stroke="#000" stroke-width="1.3" stroke-linejoin="round"/>
<polygon points="774.3,613.12 784.3,609.84 776.62,605.53 766.62,608.81" fill="#9fff60" stroke="#000" stroke-width="1.3" stroke-linejoin="round"/>
<polygon points="983.39,606.06 993.39,602.79 985.72,550.84 975.72,559.22" fill="#9fff60" stroke="#000" stroke-width="1.3" stroke-linejoin="round"/>
<polygon points="932.69,546.2 942.69,537.82 935.01,528.82 925.01,536.28" fill="#ef0000" stroke="#000" stroke-width="1.3" stroke-linejoin="round"/>
<polygon points="912.69,601.92 922.69,554.58 915.01,544.66 905.01,553.04" fill="#9fff60" stroke="#000" stroke-width="1.3" stroke-linejoin="round"/>
<polygon points="887.33,551.49 897.33,543.11 889.65,533.19 879.65,541.57" fill="#ff0000" stroke="#000" stroke-width="1.3" stroke-linejoin="round"/>
<polygon points="918.04,613.82 928.04,610.54 920.36,606.23 910.36,609.5" fill="#9fff60" stroke="#000" stroke-width="1.3" stroke-linejoin="round"/>
<polygon points="995.72,542.46 1005.72,534.08 998.04,528.65 988.04,532.53" fill="#df0000" stroke="#000" stroke-width="1.3" stroke-linejoin="round"/>
<polygon points="855.01,613.99 865.01,610.71 857.33,606.4 847.33,609.68" fill="#9fff60" stroke="#000" stroke-width="1.3" stroke-linejoin="round"/>
<polygon points="905.01,553.04 915.01,544.66 907.33,534.73 897.33,543.11" fill="#ff0000" stroke="#000" stroke-width="1.3" stroke-linejoin="round"/>
<polygon points="950.36,547.75 960.36,539.37 952.69,529.85 942.69,537.82" fill="#ef0000" stroke="#000" stroke-width="1.3" stroke-linejoin="round"/>
<polygon points="930.36,602.96 940.36,556.13 932.69,546.2 922.69,554.58" fill="#9fff60" stroke="#000" stroke-width="1.3" stroke-linejoin="round"/>
<polygon points="791.98,614.15 801.98,610.88 794.3,606.57 784.3,609.84" fill="#9fff60" stroke="#000" stroke-width="1.3" stroke-linejoin="round"/>
<polygon points="935.72,614.85 945.72,611.57 938.04,607.26 928.04,610.54" fill="#9fff60" stroke="#000" stroke-width="1.3" stroke-linejoin="round"/>
<polygon points="1013.39,544.01 1023.39,535.63 1015.72,529.68 1005.72,534.08" fill="#df0000" stroke="#000" stroke-width="1.3" stroke-linejoin="round"/>
<polygon points="993.39,602.79 1003.39,552.39 995.72,542.46 985.72,550.84" fill="#9fff60" stroke="#000" stroke-width="1.3" stroke-linejoin="round"/>
<polygon points="872.69,615.02 882.69,611.75 875.01,607.44 865.01,610.71" fill="#9fff60" stroke="#000" stroke-width="1.3" stroke-linejoin="round"/>
<polygon points="922.69,554.58 932.69,546.2 925.01,536.28 915.01,544.66" fill="#ff0000" stroke="#000" stroke-width="1.3" stroke-linejoin="round"/>
<polygon points="968.04,549.3 978.04,540.92 970.36,530.99 960.36,539.37" fill="#ef0000" stroke="#000" stroke-width="1.3" stroke-linejoin="round"/>
<polygon points="948.04,603.99 958.04,557.68 950.36,547.75 940.36,556.13" fill="#9fff60" stroke="#000" stroke-width="1.3" stroke-linejoin="round"/>
<polygon points="809.65,615.19 819.65,611.92 811.98,607.61 801.98,610.88" fill="#9fff60" stroke="#000" stroke-width="1.3" stroke-linejoin="round"/>
<polygon points="953.39,615.88 963.39,612.61 955.72,608.3 945.72,611.57" fill="#9fff60" stroke="#000" stroke-width="1.3" stroke-linejoin="round"/>
<polygon points="940.36,556.13 950.36,547.75 942.69,537.82 932.69,546.2" fill="#ff0000" stroke="#000" stroke-width="1.3" stroke-linejoin="round"/>
<polygon points="985.72,550.84 995.72,542.46 988.04,532.53 978.04,540.92" fill="#ef0000" stroke="#000" stroke-width="1.3" stroke-linejoin="round"/>
<polygon points="965.72,605.02 975.72,559.22 968.04,549.3 958.04,557.68" fill="#9fff60" stroke="#000" stroke-width="1.3" stroke-linejoin="round"/>
<polygon points="890.36,616.05 900.36,612.78 892.69,608.47 882.69,611.75" fill="#9fff60" stroke="#000" stroke-width="1.3" stroke-linejoin="round"/>
<polygon points="827.33,616.23 837.33,612.95 829.65,608.64 819.65,611.92" fill="#9fff60" stroke="#000" stroke-width="1.3" stroke-linejoin="round"/>
<polygon points="958.04,557.68 968.04,549.3 960.36,539.37 950.36,547.75" fill="#ff0000" stroke="#000" stroke-width="1.3" stroke-linejoin="round"/>
<polygon points="1003.39,552.39 1013.39,544.01 1005.72,534.08 995.72,542.46" fill="#ef0000" stroke="#000" stroke-width="1.3" stroke-linejoin="round"/>
<polygon points="908.04,617.09 918.04,613.82 910.36,609.5 900.36,612.78" fill="#9fff60" stroke="#000" stroke-width="1.3" stroke-linejoin="round"/>
<polygon points="845.01,617.26 855.01,613.99 847.33,609.68 837.33,612.95" fill="#9fff60" stroke="#000" stroke-width="1.3" stroke-linejoin="round"/>
<polygon points="975.72,559.22 985.72,550.84 978.04,540.92 968.04,549.3" fill="#ff0000" stroke="#000" stroke-width="1.3" stroke-linejoin="round"/>
<polygon points="781.98,617.43 791.98,614.15 784.3,609.84 774.3,613.12" fill="#9fff60" stroke="#000" stroke-width="1.3" stroke-linejoin="round"/>
<polygon points="925.72,618.13 935.72,614.85 928.04,610.54 918.04,613.82" fill="#9fff60" stroke="#000" stroke-width="1.3" stroke-linejoin="round"/>
<polygon points="862.69,618.3 872.69,615.02 865.01,610.71 855.01,613.99" fill="#9fff60" stroke="#000" stroke-width="1.3" stroke-linejoin="round"/>
<polygon points="799.65,618.47 809.65,615.19 801.98,610.88 791.98,614.15" fill="#9fff60" stroke="#000" stroke-width="1.3" stroke-linejoin="round"/>
<polygon points="943.39,619.16 953.39,615.88 945.72,611.57 935.72,614.85" fill="#9fff60" stroke="#000" stroke-width="1.3" stroke-linejoin="round"/>
<polygon points="880.36,619.33 890.36,616.05 882.69,611.75 872.69,615.02" fill="#9fff60" stroke="#000" stroke-width="1.3" stroke-linejoin="round"/>
<polygon points="817.33,619.5 827.33,616.23 819.65,611.92 809.65,615.19" fill="#9fff60" stroke="#000" stroke-width="1.3" stroke-linejoin="round"/>
<polygon points="898.04,620.37 908.04,617.09 900.36,612.78 890.36,616.05" fill="#9fff60" stroke="#000" stroke-width="1.3" stroke-linejoin="round"/>
<polygon points="835.01,620.54 845.01,617.26 837.33,612.95 827.33,616.23" fill="#9fff60" stroke="#000" stroke-width="1.3" stroke-linejoin="round"/>
<polygon points="915.72,621.4 925.72,618.13 918.04,613.82 908.04,617.09" fill="#9fff60" stroke="#000" stroke-width="1.3" stroke-linejoin="round"/>
<polygon points="852.69,621.57 862.69,618.3 855.01,613.99 845.01,617.26" fill="#9fff60" stroke="#000" stroke-width="1.3" stroke-linejoin="round"/>
<polygon points="789.65,621.74 799.65,618.47 791.98,614.15 781.98,617.43" fill="#9fff60" stroke="#000" stroke-width="1.3" stroke-linejoin="round"/>
<polygon points="933.39,622.44 943.39,619.16 935.72,614.85 925.72,618.13" fill="#9fff60" stroke="#000" stroke-width="1.3" stroke-linejoin="round"/>
<polygon points="870.36,622.61 880.36,619.33 872.69,615.02 862.69,618.3" fill="#9fff60" stroke="#000" stroke-width="1.3" stroke-linejoin="round"/>
<polygon points="807.33,622.77 817.33,619.5 809.65,615.19 799.65,618.47" fill="#9fff60" stroke="#000" stroke-width="1.3" stroke-linejoin="round"/>
<polygon points="888.04,623.64 898.04,620.37 890.36,616.05 880.36,619.33" fill="#9fff60" stroke="#000" stroke-width="1.3" stroke-linejoin="round"/>
<polygon points="825.01,623.81 835.01,620.54 827.33,616.23 817.33,619.5" fill="#9fff60" stroke="#000" stroke-width="1.3" stroke-linejoin="round"/>
<polygon points="905.72,624.68 915.72,621.4 908.04,617.09 898.04,620.37" fill="#9fff60" stroke="#000" stroke-width="1.3" stroke-linejoin="round"/>
<polygon points="842.69,624.85 852.69,621.57 845.01,617.26 835.01,620.54" fill="#9fff60" stroke="#000" stroke-width="1.3" stroke-linejoin="round"/>
<polygon points="923.39,625.71 933.39,622.44 925.72,618.13 915.72,621.4" fill="#9fff60" stroke="#000" stroke-width="1.3" stroke-linejoin="round"/>
<polygon points="860.36,625.88 870.36,622.61 862.69,618.3 852.69,621.57" fill="#9fff60" stroke="#000" stroke-width="1.3" stroke-linejoin="round"/>
<polygon points="797.33,626.05 807.33,622.77 799.65,618.47 789.65,621.74" fill="#9fff60" stroke="#000" stroke-width="1.3" stroke-linejoin="round"/>
<polygon points="878.04,626.92 888.04,623.64 880.36,619.33 870.36,622.61" fill="#9fff60" stroke="#000" stroke-width="1.3" stroke-linejoin="round"/>
<polygon points="815.01,627.09 825.01,623.81 817.33,619.5 807.33,622.77" fill="#9fff60" stroke="#000" stroke-width="1.3" stroke-linejoin="round"/>
<polygon points="895.72,627.95 905.72,624.68 898.04,620.37 888.04,623.64" fill="#9fff60" stroke="#000" stroke-width="1.3" stroke-linejoin="round"/>
<polygon points="832.69,628.12 842.69,624.85 835.01,620.54 825.01,623.81" fill="#9fff60" stroke="#000" stroke-width="1.3" stroke-linejoin="round"/>
<polygon points="913.39,628.99 923.39,625.71 915.72,621.4 905.72,624.68" fill="#9fff60" stroke="#000" stroke-width="1.3" stroke-linejoin="round"/>
<polygon points="850.36,629.16 860.36,625.88 852.69,621.57 842.69,624.85" fill="#9fff60" stroke="#000" stroke-width="1.3" stroke-linejoin="round"/>
<polygon points="868.04,630.19 878.04,626.92 870.36,622.61 860.36,625.88" fill="#9fff60" stroke="#000" stroke-width="1.3" stroke-linejoin="round"/>
<polygon points="805.01,630.36 815.01,627.09 807.33,622.77 797.33,626.05" fill="#9fff60" stroke="#000" stroke-width="1.3" stroke-linejoin="round"/>
<polygon points="885.72,631.23 895.72,627.95 888.04,623.64 878.04,626.92" fill="#9fff60" stroke="#000" stroke-width="1.3" stroke-linejoin="round"/>
<polygon points="822.69,631.39 832.69,628.12 825.01,623.81 815.01,627.09" fill="#9fff60" stroke="#000" stroke-width="1.3" stroke-linejoin="round"/>
<polygon points="903.39,632.26 913.39,628.99 905.72,624.68 895.72,627.95" fill="#9fff60" stroke="#000" stroke-width="1.3" stroke-linejoin="round"/>
<polygon points="840.36,632.43 850.36,629.16 842.69,624.85 832.69,628.12" fill="#9fff60" stroke="#000" stroke-width="1.3" stroke-linejoin="round"/>
<polygon points="858.04,633.47 868.04,630.19 860.36,625.88 850.36,629.16" fill="#9fff60" stroke="#000" stroke-width="1.3" stroke-linejoin="round"/>
<polygon points="875.72,634.5 885.72,631.23 878.04,626.92 868.04,630.19" fill="#9fff60" stroke="#000" stroke-width="1.3" stroke-linejoin="round"/>
<polygon points="812.69,634.67 822.69,631.39 815.01,627.09 805.01,630.36" fill="#9fff60" stroke="#000" stroke-width="1.3" stroke-linejoin="round"/>
<polygon points="893.39,635.54 903.39,632.26 895.72,627.95 885.72,631.23" fill="#9fff60" stroke="#000" stroke-width="1.3" stroke-linejoin="round"/>
<polygon points="830.36,635.71 840.36,632.43 832.69,628.12 822.69,631.39" fill="#9fff60" stroke="#000" stroke-width="1.3" stroke-linejoin="round"/>
<polygon points="848.04,636.74 858.04,633.47 850.36,629.16 840.36,632.43" fill="#9fff60" stroke="#000" stroke-width="1.3" stroke-linejoin="round"/>
<polygon points="865.72,637.77 875.72,634.5 868.04,630.19 858.04,633.47" fill="#9fff60" stroke="#000" stroke-width="1.3" stroke-linejoin="round"/>
<polygon points="883.39,638.81 893.39,635.54 885.72,631.23 875.72,634.5" fill="#9fff60" stroke="#000" stroke-width="1.3" stroke-linejoin="round"/>
<polygon points="820.36,638.98 830.36,635.71 822.69,631.39 812.69,634.67" fill="#9fff60" stroke="#000" stroke-width="1.3" stroke-linejoin="round"/>
<polygon points="838.04,640.01 848.04,636.74 840.36,632.43 830.36,635.71" fill="#9fff60" stroke="#000" stroke-width="1.3" stroke-linejoin="round"/>
<polygon points="855.72,641.05 865.72,637.77 858.04,633.47 848.04,636.74" fill="#9fff60" stroke="#000" stroke-width="1.3" stroke-linejoin="round"/>
<polygon points="873.39,642.09 883.39,638.81 875.72,634.5 865.72,637.77" fill="#9fff60" stroke="#000" stroke-width="1.3" stroke-linejoin="round"/>
<polygon points="828.04,643.29 838.04,640.01 830.36,635.71 820.36,638.98" fill="#9fff60" stroke="#000" stroke-width="1.3" stroke-linejoin="round"/>
<polygon points="845.72,644.32 855.72,641.05 848.04,636.74 838.04,640.01" fill="#9fff60" stroke="#000" stroke-width="1.3" stroke-linejoin="round"/>
<polygon points="863.39,645.36 873.39,642.09 865.72,637.77 855.72,641.05" fill="#9fff60" stroke="#000" stroke-width="1.3" stroke-linejoin="round"/>
<polygon points="835.72,647.6 845.72,644.32 838.04,640.01 828.04,643.29" fill="#9fff60" stroke="#000" stroke-width="1.3" stroke-linejoin="round"/>
<polygon points="853.39,648.63 863.39,645.36 855.72,641.05 845.72,644.32" fill="#9fff60" stroke="#000" stroke-width="1.3" stroke-linejoin="round"/>
<polygon points="843.39,651.91 853.39,648.63 845.72,644.32 835.72,647.6" fill="#9fff60" stroke="#000" stroke-width="1.3" stroke-linejoin="round"/>
<line x1="685.2" y1="669.8" x2="685.2" y2="482.6" stroke="#6a6a6a" stroke-width="1.3"/>
<line x1="838.75" y1="756" x2="685.2" y2="669.8" stroke="#3a3a3a" stroke-width="1.3"/>
<line x1="838.75" y1="756" x2="1038.75" y2="690.5" stroke="#3a3a3a" stroke-width="1.3"/>
<line x1="685.2" y1="669.8" x2="680.92" y2="671.2" stroke="#3a3a3a" stroke-width="1.1"/>
<line x1="685.2" y1="623" x2="680.92" y2="624.4" stroke="#3a3a3a" stroke-width="1.1"/>
<line x1="685.2" y1="576.2" x2="680.92" y2="577.6" stroke="#3a3a3a" stroke-width="1.1"/>
<line x1="685.2" y1="529.4" x2="680.92" y2="530.8" stroke="#3a3a3a" stroke-width="1.1"/>
<line x1="685.2" y1="482.6" x2="680.92" y2="484" stroke="#3a3a3a" stroke-width="1.1"/>
<line x1="838.75" y1="756" x2="834.47" y2="757.4" stroke="#3a3a3a" stroke-width="1.1"/>
<line x1="761.98" y1="712.9" x2="757.7" y2="714.3" stroke="#3a3a3a" stroke-width="1.1"/>
<line x1="685.2" y1="669.8" x2="680.92" y2="671.2" stroke="#3a3a3a" stroke-width="1.1"/>
<line x1="838.75" y1="756" x2="842.67" y2="758.2" stroke="#3a3a3a" stroke-width="1.1"/>
<line x1="938.75" y1="723.25" x2="942.67" y2="725.45" stroke="#3a3a3a" stroke-width="1.1"/>
<line x1="1038.75" y1="690.5" x2="1042.67" y2="692.7" stroke="#3a3a3a" stroke-width="1.1"/>
<text transform="translate(674 670.34) scale(1.25 1)" font-size="14" text-anchor="end" class="t">-100</text>
<text transform="translate(674 623.54) scale(1.25 1)" font-size="14" text-anchor="end" class="t">-50</text>
<text transform="translate(674 576.74) scale(1.25 1)" font-size="14" text-anchor="end" class="t">0</text>
<text transform="translate(674 529.94) scale(1.25 1)" font-size="14" text-anchor="end" class="t">50</text>
<text transform="translate(674 483.14) scale(1.25 1)" font-size="14" text-anchor="end" class="t">100</text>
<text transform="translate(823 773.29) scale(1.25 1)" font-size="14" text-anchor="middle" class="t">0</text>
<text transform="translate(738.98 730.94) scale(1.25 1)" font-size="14" text-anchor="middle" class="t">0.5</text>
<text transform="translate(667.85 688.29) scale(1.25 1)" font-size="14" text-anchor="middle" class="t">1</text>
<text transform="translate(853.75 775.54) scale(1.25 1)" font-size="14" text-anchor="middle" class="t">0</text>
<text transform="translate(962.5 742.79) scale(1.25 1)" font-size="14" text-anchor="middle" class="t">0.5</text>
<text transform="translate(1054.35 709.84) scale(1.25 1)" font-size="14" text-anchor="middle" class="t">1</text>
<text transform="translate(689.4 766.88) scale(1.25 1)" font-size="15.5" text-anchor="middle" class="t">FinS</text>
<text transform="translate(997 786.28) scale(1.25 1)" font-size="15.5" text-anchor="middle" class="t">RQ</text>
<rect x="1092" y="750.23" width="36.4" height="5.87" fill="#00008f"/>
<rect x="1092" y="744.96" width="36.4" height="5.87" fill="#00009f"/>
<rect x="1092" y="739.69" width="36.4" height="5.87" fill="#0000af"/>
<rect x="1092" y="734.42" width="36.4" height="5.87" fill="#0000bf"/>
<rect x="1092" y="729.15" width="36.4" height="5.87" fill="#0000cf"/>
<rect x="1092" y="723.88" width="36.4" height="5.87" fill="#0000df"/>
<rect x="1092" y="718.61" width="36.4" height="5.87" fill="#0000ef"/>
<rect x="1092" y="713.34" width="36.4" height="5.87" fill="#0000ff"/>
<rect x="1092" y="708.07" width="36.4" height="5.87" fill="#0010ff"/>
<rect x="1092" y="702.8" width="36.4" height="5.87" fill="#0020ff"/>
<rect x="1092" y="697.53" width="36.4" height="5.87" fill="#0030ff"/>
<rect x="1092" y="692.26" width="36.4" height="5.87" fill="#0040ff"/>
<rect x="1092" y="686.99" width="36.4" height="5.87" fill="#0050ff"/>
<rect x="1092" y="681.72" width="36.4" height="5.87" fill="#0060ff"/>
<rect x="1092" y="676.45" width="36.4" height="5.87" fill="#0070ff"/>
<rect x="1092" y="671.17" width="36.4" height="5.87" fill="#0080ff"/>
<rect x="1092" y="665.9" width="36.4" height="5.87" fill="#008fff"/>
<rect x="1092" y="660.63" width="36.4" height="5.87" fill="#009fff"/>
<rect x="1092" y="655.36" width="36.4" height="5.87" fill="#00afff"/>
<rect x="1092" y="650.09" width="36.4" height="5.87" fill="#00bfff"/>
<rect x="1092" y="644.82" width="36.4" height="5.87" fill="#00cfff"/>
<rect x="1092" y="639.55" width="36.4" height="5.87" fill="#00dfff"/>
<rect x="1092" y="634.28" width="36.4" height="5.87" fill="#00efff"/>
<rect x="1092" y="629.01" width="36.4" height="5.87" fill="#00ffff"/>
<rect x="1092" y="623.74" width="36.4" height="5.87" fill="#10ffef"/>
<rect x="1092" y="618.47" width="36.4" height="5.87" fill="#20ffdf"/>
<rect x="1092" y="613.2" width="36.4" height="5.87" fill="#30ffcf"/>
<rect x="1092" y="607.93" width="36.4" height="5.87" fill="#40ffbf"/>
<rect x="1092" y="602.66" width="36.4" height="5.87" fill="#50ffaf"/>
<rect x="1092" y="597.39" width="36.4" height="5.87" fill="#60ff9f"/>
<rect x="1092" y="592.12" width="36.4" height="5.87" fill="#70ff8f"/>
<rect x="1092" y="586.85" width="36.4" height="5.87" fill="#80ff80"/>
<rect x="1092" y="581.58" width="36.4" height="5.87" fill="#8fff70"/>
<rect x="1092" y="576.31" width="36.4" height="5.87" fill="#9fff60"/>
<rect x="1092" y="571.04" width="36.4" height="5.87" fill="#afff50"/>
<rect x="1092" y="565.77" width="36.4" height="5.87" fill="#bfff40"/>
<rect x="1092" y="560.5" width="36.4" height="5.87" fill="#cfff30"/>
<rect x="1092" y="555.23" width="36.4" height="5.87" fill="#dfff20"/>
<rect x="1092" y="549.96" width="36.4" height="5.87" fill="#efff10"/>
<rect x="1092" y="544.69" width="36.4" height="5.87" fill="#ffff00"/>
<rect x="1092" y="539.42" width="36.4" height="5.87" fill="#ffef00"/>
<rect x="1092" y="534.15" width="36.4" height="5.87" fill="#ffdf00"/>
<rect x="1092" y="528.88" width="36.4" height="5.87" fill="#ffcf00"/>
<rect x="1092" y="523.61" width="36.4" height="5.87" fill="#ffbf00"/>
<rect x="1092" y="518.34" width="36.4" height="5.87" fill="#ffaf00"/>
<rect x="1092" y="513.07" width="36.4" height="5.87" fill="#ff9f00"/>
<rect x="1092" y="507.8" width="36.4" height="5.87" fill="#ff8f00"/>
<rect x="1092" y="502.52" width="36.4" height="5.87" fill="#ff8000"/>
<rect x="1092" y="497.25" width="36.4" height="5.87" fill="#ff7000"/>
<rect x="1092" y="491.98" width="36.4" height="5.87" fill="#ff6000"/>
<rect x="1092" y="486.71" width="36.4" height="5.87" fill="#ff5000"/>
<rect x="1092" y="481.44" width="36.4" height="5.87" fill="#ff4000"/>
<rect x="1092" y="476.17" width="36.4" height="5.87" fill="#ff3000"/>
<rect x="1092" y="470.9" width="36.4" height="5.87" fill="#ff2000"/>
<rect x="1092" y="465.63" width="36.4" height="5.87" fill="#ff1000"/>
<rect x="1092" y="460.36" width="36.4" height="5.87" fill="#ff0000"/>
<rect x="1092" y="455.09" width="36.4" height="5.87" fill="#ef0000"/>
<rect x="1092" y="449.82" width="36.4" height="5.87" fill="#df0000"/>
<rect x="1092" y="444.55" width="36.4" height="5.87" fill="#cf0000"/>
<rect x="1092" y="439.28" width="36.4" height="5.87" fill="#bf0000"/>
<rect x="1092" y="434.01" width="36.4" height="5.87" fill="#af0000"/>
<rect x="1092" y="428.74" width="36.4" height="5.87" fill="#9f0000"/>
<rect x="1092" y="423.47" width="36.4" height="5.87" fill="#8f0000"/>
<rect x="1092" y="418.2" width="36.4" height="5.87" fill="#800000"/>
<rect x="1092" y="418.5" width="36.4" height="337.3" fill="none" stroke="#3a3a3a" stroke-width="0.8"/>
<line x1="1125.4" y1="739.92" x2="1128.4" y2="739.92" stroke="#3a3a3a" stroke-width="1"/>
<text transform="translate(1135.5 744.96) scale(1.25 1)" font-size="14" text-anchor="start" class="t">-60</text>
<line x1="1125.4" y1="688.7" x2="1128.4" y2="688.7" stroke="#3a3a3a" stroke-width="1"/>
<text transform="translate(1135.5 693.74) scale(1.25 1)" font-size="14" text-anchor="start" class="t">-40</text>
<line x1="1125.4" y1="637.48" x2="1128.4" y2="637.48" stroke="#3a3a3a" stroke-width="1"/>
<text transform="translate(1135.5 642.52) scale(1.25 1)" font-size="14" text-anchor="start" class="t">-20</text>
<line x1="1125.4" y1="586.25" x2="1128.4" y2="586.25" stroke="#3a3a3a" stroke-width="1"/>
<text transform="translate(1135.5 591.29) scale(1.25 1)" font-size="14" text-anchor="start" class="t">0</text>
<line x1="1125.4" y1="535.03" x2="1128.4" y2="535.03" stroke="#3a3a3a" stroke-width="1"/>
<text transform="translate(1135.5 540.07) scale(1.25 1)" font-size="14" text-anchor="start" class="t">20</text>
<line x1="1125.4" y1="483.81" x2="1128.4" y2="483.81" stroke="#3a3a3a" stroke-width="1"/>
<text transform="translate(1135.5 488.85) scale(1.25 1)" font-size="14" text-anchor="start" class="t">40</text>
<line x1="1125.4" y1="432.59" x2="1128.4" y2="432.59" stroke="#3a3a3a" stroke-width="1"/>
<text transform="translate(1135.5 437.63) scale(1.25 1)" font-size="14" text-anchor="start" class="t">60</text>
<line x1="381.3" y1="1092" x2="580.3" y2="1030.75" stroke="#dedede" stroke-width="1"/>
<line x1="580.3" y1="1030.75" x2="734.5" y2="1112.75" stroke="#dedede" stroke-width="1"/>
<line x1="381.3" y1="1057.22" x2="580.3" y2="995.97" stroke="#dedede" stroke-width="1"/>
<line x1="580.3" y1="995.97" x2="734.5" y2="1077.97" stroke="#dedede" stroke-width="1"/>
<line x1="381.3" y1="1022.44" x2="580.3" y2="961.19" stroke="#dedede" stroke-width="1"/>
<line x1="580.3" y1="961.19" x2="734.5" y2="1043.19" stroke="#dedede" stroke-width="1"/>
<line x1="381.3" y1="987.66" x2="580.3" y2="926.41" stroke="#dedede" stroke-width="1"/>
<line x1="580.3" y1="926.41" x2="734.5" y2="1008.41" stroke="#dedede" stroke-width="1"/>
<line x1="381.3" y1="952.88" x2="580.3" y2="891.63" stroke="#dedede" stroke-width="1"/>
<line x1="580.3" y1="891.63" x2="734.5" y2="973.63" stroke="#dedede" stroke-width="1"/>
<line x1="381.3" y1="918.1" x2="580.3" y2="856.85" stroke="#dedede" stroke-width="1"/>
<line x1="580.3" y1="856.85" x2="734.5" y2="938.85" stroke="#dedede" stroke-width="1"/>
<line x1="480.8" y1="1061.38" x2="480.8" y2="887.48" stroke="#dedede" stroke-width="1"/>
<line x1="580.3" y1="1030.75" x2="580.3" y2="856.85" stroke="#dedede" stroke-width="1"/>
<line x1="734.5" y1="1112.75" x2="734.5" y2="938.85" stroke="#dedede" stroke-width="1"/>
<line x1="657.4" y1="1071.75" x2="657.4" y2="897.85" stroke="#dedede" stroke-width="1"/>
<line x1="635" y1="1143.38" x2="480.8" y2="1061.38" stroke="#dedede" stroke-width="1"/>
<line x1="734.5" y1="1112.75" x2="580.3" y2="1030.75" stroke="#dedede" stroke-width="1"/>
<line x1="458.4" y1="1133" x2="657.4" y2="1071.75" stroke="#dedede" stroke-width="1"/>
<line x1="381.3" y1="1092" x2="580.3" y2="1030.75" stroke="#dedede" stroke-width="1"/>
<polygon points="525.88,1018.15 536.23,1015.7 528.06,1011 517.62,1014.22" fill="#00008f" stroke="#000" stroke-width="1.3" stroke-linejoin="round"/>
<polygon points="534.14,1022.08 544.4,1020.39 536.23,1015.7 525.88,1018.15" fill="#00008f" stroke="#000" stroke-width="1.3" stroke-linejoin="round"/>
<polygon points="542.4,1026.01 552.57,1025.08 544.4,1020.39 534.14,1022.08" fill="#00008f" stroke="#000" stroke-width="1.3" stroke-linejoin="round"/>
<polygon points="536.23,1015.7 546.59,937.66 538.51,934.06 528.06,1011" fill="#00008f" stroke="#000" stroke-width="1.3" stroke-linejoin="round"/>
<polygon points="550.67,1029.94 560.75,1029.77 552.57,1025.08 542.4,1026.01" fill="#00008f" stroke="#000" stroke-width="1.3" stroke-linejoin="round"/>
<polygon points="544.4,1020.39 554.67,941.26 546.59,937.66 536.23,1015.7" fill="#00008f" stroke="#000" stroke-width="1.3" stroke-linejoin="round"/>
<polygon points="558.93,1033.87 568.92,1034.47 560.75,1029.77 550.67,1029.94" fill="#00008f" stroke="#000" stroke-width="1.3" stroke-linejoin="round"/>
<polygon points="577.65,909.78 588.01,906.59 580.3,902.76 569.85,905.98" fill="#8f0000" stroke="#000" stroke-width="1.3" stroke-linejoin="round"/>
<polygon points="552.57,1025.08 562.75,944.86 554.67,941.26 544.4,1020.39" fill="#00008f" stroke="#000" stroke-width="1.3" stroke-linejoin="round"/>
<polygon points="567.3,912.96 577.65,909.78 569.85,905.98 559.4,909.19" fill="#8f0000" stroke="#000" stroke-width="1.3" stroke-linejoin="round"/>
<polygon points="515.93,929.22 525.88,1018.15 517.62,1014.22 507.67,925.46" fill="#ef0000" stroke="#000" stroke-width="1.3" stroke-linejoin="round"/>
<polygon points="567.19,1037.8 577.09,1039.16 568.92,1034.47 558.93,1033.87" fill="#00008f" stroke="#000" stroke-width="1.3" stroke-linejoin="round"/>
<polygon points="585.46,913.58 595.72,910.42 588.01,906.59 577.65,909.78" fill="#8f0000" stroke="#000" stroke-width="1.3" stroke-linejoin="round"/>
<polygon points="560.75,1029.77 570.82,948.46 562.75,944.86 552.57,1025.08" fill="#00008f" stroke="#000" stroke-width="1.3" stroke-linejoin="round"/>
<polygon points="556.94,916.15 567.3,912.96 559.4,909.19 548.96,912.41" fill="#8f0000" stroke="#000" stroke-width="1.3" stroke-linejoin="round"/>
<polygon points="546.59,937.66 556.94,916.15 548.96,912.41 538.51,934.06" fill="#ff8f00" stroke="#000" stroke-width="1.3" stroke-linejoin="round"/>
<polygon points="575.19,916.74 585.46,913.58 577.65,909.78 567.3,912.96" fill="#8f0000" stroke="#000" stroke-width="1.3" stroke-linejoin="round"/>
<polygon points="575.45,1041.73 585.26,1043.85 577.09,1039.16 567.19,1037.8" fill="#00008f" stroke="#000" stroke-width="1.3" stroke-linejoin="round"/>
<polygon points="524.19,932.98 534.14,1022.08 525.88,1018.15 515.93,929.22" fill="#ef0000" stroke="#000" stroke-width="1.3" stroke-linejoin="round"/>
<polygon points="593.26,917.38 603.43,914.25 595.72,910.42 585.46,913.58" fill="#8f0000" stroke="#000" stroke-width="1.3" stroke-linejoin="round"/>
<polygon points="568.92,1034.47 578.9,952.06 570.82,948.46 560.75,1029.77" fill="#00008f" stroke="#000" stroke-width="1.3" stroke-linejoin="round"/>
<polygon points="564.93,919.9 575.19,916.74 567.3,912.96 556.94,916.15" fill="#8f0000" stroke="#000" stroke-width="1.3" stroke-linejoin="round"/>
<polygon points="554.67,941.26 564.93,919.9 556.94,916.15 546.59,937.66" fill="#ff8f00" stroke="#000" stroke-width="1.3" stroke-linejoin="round"/>
<polygon points="583.72,1045.66 593.43,1048.54 585.26,1043.85 575.45,1041.73" fill="#00008f" stroke="#000" stroke-width="1.3" stroke-linejoin="round"/>
<polygon points="583.09,920.51 593.26,917.38 585.46,913.58 575.19,916.74" fill="#8f0000" stroke="#000" stroke-width="1.3" stroke-linejoin="round"/>
<polygon points="532.45,936.73 542.4,1026.01 534.14,1022.08 524.19,932.98" fill="#ef0000" stroke="#000" stroke-width="1.3" stroke-linejoin="round"/>
<polygon points="601.06,921.18 611.14,918.08 603.43,914.25 593.26,917.38" fill="#8f0000" stroke="#000" stroke-width="1.3" stroke-linejoin="round"/>
<polygon points="577.09,1039.16 586.98,955.66 578.9,952.06 568.92,1034.47" fill="#00008f" stroke="#000" stroke-width="1.3" stroke-linejoin="round"/>
<polygon points="572.92,923.64 583.09,920.51 575.19,916.74 564.93,919.9" fill="#8f0000" stroke="#000" stroke-width="1.3" stroke-linejoin="round"/>
<polygon points="562.75,944.86 572.92,923.64 564.93,919.9 554.67,941.26" fill="#ff8f00" stroke="#000" stroke-width="1.3" stroke-linejoin="round"/>
<polygon points="591.98,1049.59 601.6,1053.24 593.43,1048.54 583.72,1045.66" fill="#00008f" stroke="#000" stroke-width="1.3" stroke-linejoin="round"/>
<polygon points="540.72,940.49 550.67,1029.94 542.4,1026.01 532.45,936.73" fill="#ef0000" stroke="#000" stroke-width="1.3" stroke-linejoin="round"/>
<polygon points="590.98,924.28 601.06,921.18 593.26,917.38 583.09,920.51" fill="#8f0000" stroke="#000" stroke-width="1.3" stroke-linejoin="round"/>
<polygon points="608.86,924.98 618.85,921.91 611.14,918.08 601.06,921.18" fill="#8f0000" stroke="#000" stroke-width="1.3" stroke-linejoin="round"/>
<polygon points="585.26,1043.85 595.06,959.26 586.98,955.66 577.09,1039.16" fill="#00008f" stroke="#000" stroke-width="1.3" stroke-linejoin="round"/>
<polygon points="580.9,927.38 590.98,924.28 583.09,920.51 572.92,923.64" fill="#8f0000" stroke="#000" stroke-width="1.3" stroke-linejoin="round"/>
<polygon points="600.24,1053.52 609.77,1057.93 601.6,1053.24 591.98,1049.59" fill="#00008f" stroke="#000" stroke-width="1.3" stroke-linejoin="round"/>
<polygon points="570.82,948.46 580.9,927.38 572.92,923.64 562.75,944.86" fill="#ff8f00" stroke="#000" stroke-width="1.3" stroke-linejoin="round"/>
<polygon points="548.98,944.24 558.93,1033.87 550.67,1029.94 540.72,940.49" fill="#ef0000" stroke="#000" stroke-width="1.3" stroke-linejoin="round"/>
<polygon points="598.88,928.05 608.86,924.98 601.06,921.18 590.98,924.28" fill="#8f0000" stroke="#000" stroke-width="1.3" stroke-linejoin="round"/>
<polygon points="616.67,928.78 626.56,925.74 618.85,921.91 608.86,924.98" fill="#8f0000" stroke="#000" stroke-width="1.3" stroke-linejoin="round"/>
<polygon points="593.43,1048.54 603.14,962.86 595.06,959.26 585.26,1043.85" fill="#00008f" stroke="#000" stroke-width="1.3" stroke-linejoin="round"/>
<polygon points="506.2,931.51 515.93,929.22 507.67,925.46 497.99,927.72" fill="#9f0000" stroke="#000" stroke-width="1.3" stroke-linejoin="round"/>
<polygon points="608.51,1057.45 617.94,1062.62 609.77,1057.93 600.24,1053.52" fill="#00008f" stroke="#000" stroke-width="1.3" stroke-linejoin="round"/>
<polygon points="588.89,931.13 598.88,928.05 590.98,924.28 580.9,927.38" fill="#8f0000" stroke="#000" stroke-width="1.3" stroke-linejoin="round"/>
<polygon points="578.9,952.06 588.89,931.13 580.9,927.38 570.82,948.46" fill="#ff8f00" stroke="#000" stroke-width="1.3" stroke-linejoin="round"/>
<polygon points="557.24,948 567.19,1037.8 558.93,1033.87 548.98,944.24" fill="#ef0000" stroke="#000" stroke-width="1.3" stroke-linejoin="round"/>
<polygon points="606.77,931.83 616.67,928.78 608.86,924.98 598.88,928.05" fill="#8f0000" stroke="#000" stroke-width="1.3" stroke-linejoin="round"/>
<polygon points="624.47,932.58 634.27,929.57 626.56,925.74 616.67,928.78" fill="#8f0000" stroke="#000" stroke-width="1.3" stroke-linejoin="round"/>
<polygon points="601.6,1053.24 611.22,966.46 603.14,962.86 593.43,1048.54" fill="#00008f" stroke="#000" stroke-width="1.3" stroke-linejoin="round"/>
<polygon points="496.47,934.12 506.2,931.51 497.99,927.72 488.31,930.31" fill="#9f0000" stroke="#000" stroke-width="1.3" stroke-linejoin="round"/>
<polygon points="616.77,1061.38 626.11,1067.31 617.94,1062.62 608.51,1057.45" fill="#00008f" stroke="#000" stroke-width="1.3" stroke-linejoin="round"/>
<polygon points="514.41,935.3 524.19,932.98 515.93,929.22 506.2,931.51" fill="#9f0000" stroke="#000" stroke-width="1.3" stroke-linejoin="round"/>
<polygon points="596.88,934.87 606.77,931.83 598.88,928.05 588.89,931.13" fill="#8f0000" stroke="#000" stroke-width="1.3" stroke-linejoin="round"/>
<polygon points="586.98,955.66 596.88,934.87 588.89,931.13 578.9,952.06" fill="#ff8f00" stroke="#000" stroke-width="1.3" stroke-linejoin="round"/>
<polygon points="565.5,951.76 575.45,1041.73 567.19,1037.8 557.24,948" fill="#ef0000" stroke="#000" stroke-width="1.3" stroke-linejoin="round"/>
<polygon points="614.66,935.6 624.47,932.58 616.67,928.78 606.77,931.83" fill="#8f0000" stroke="#000" stroke-width="1.3" stroke-linejoin="round"/>
<polygon points="486.74,936.74 496.47,934.12 488.31,930.31 478.63,932.91" fill="#9f0000" stroke="#000" stroke-width="1.3" stroke-linejoin="round"/>
<polygon points="632.27,936.38 641.98,933.4 634.27,929.57 624.47,932.58" fill="#8f0000" stroke="#000" stroke-width="1.3" stroke-linejoin="round"/>
<polygon points="609.77,1057.93 619.3,970.06 611.22,966.46 601.6,1053.24" fill="#00008f" stroke="#000" stroke-width="1.3" stroke-linejoin="round"/>
<polygon points="504.63,937.93 514.41,935.3 506.2,931.51 496.47,934.12" fill="#9f0000" stroke="#000" stroke-width="1.3" stroke-linejoin="round"/>
<polygon points="625.03,1065.31 634.28,1072.01 626.11,1067.31 616.77,1061.38" fill="#00008f" stroke="#000" stroke-width="1.3" stroke-linejoin="round"/>
<polygon points="522.62,939.09 532.45,936.73 524.19,932.98 514.41,935.3" fill="#9f0000" stroke="#000" stroke-width="1.3" stroke-linejoin="round"/>
<polygon points="604.86,938.62 614.66,935.6 606.77,931.83 596.88,934.87" fill="#8f0000" stroke="#000" stroke-width="1.3" stroke-linejoin="round"/>
<polygon points="595.06,959.26 604.86,938.62 596.88,934.87 586.98,955.66" fill="#ff8f00" stroke="#000" stroke-width="1.3" stroke-linejoin="round"/>
<polygon points="573.77,955.51 583.72,1045.66 575.45,1041.73 565.5,951.76" fill="#ef0000" stroke="#000" stroke-width="1.3" stroke-linejoin="round"/>
<polygon points="622.56,939.37 632.27,936.38 624.47,932.58 614.66,935.6" fill="#8f0000" stroke="#000" stroke-width="1.3" stroke-linejoin="round"/>
<polygon points="477.01,939.35 486.74,936.74 478.63,932.91 468.95,935.51" fill="#9f0000" stroke="#000" stroke-width="1.3" stroke-linejoin="round"/>
<polygon points="617.94,1062.62 627.37,973.66 619.3,970.06 609.77,1057.93" fill="#00008f" stroke="#000" stroke-width="1.3" stroke-linejoin="round"/>
<polygon points="494.85,940.56 504.63,937.93 496.47,934.12 486.74,936.74" fill="#9f0000" stroke="#000" stroke-width="1.3" stroke-linejoin="round"/>
<polygon points="640.07,940.19 649.69,937.23 641.98,933.4 632.27,936.38" fill="#8f0000" stroke="#000" stroke-width="1.3" stroke-linejoin="round"/>
<polygon points="512.79,941.73 522.62,939.09 514.41,935.3 504.63,937.93" fill="#9f0000" stroke="#000" stroke-width="1.3" stroke-linejoin="round"/>
<polygon points="633.29,1069.24 642.45,1076.7 634.28,1072.01 625.03,1065.31" fill="#00008f" stroke="#000" stroke-width="1.3" stroke-linejoin="round"/>
<polygon points="530.84,942.88 540.72,940.49 532.45,936.73 522.62,939.09" fill="#9f0000" stroke="#000" stroke-width="1.3" stroke-linejoin="round"/>
<polygon points="582.03,959.27 591.98,1049.59 583.72,1045.66 573.77,955.51" fill="#ef0000" stroke="#000" stroke-width="1.3" stroke-linejoin="round"/>
<polygon points="612.85,942.36 622.56,939.37 614.66,935.6 604.86,938.62" fill="#8f0000" stroke="#000" stroke-width="1.3" stroke-linejoin="round"/>
<polygon points="603.14,962.86 612.85,942.36 604.86,938.62 595.06,959.26" fill="#ff8f00" stroke="#000" stroke-width="1.3" stroke-linejoin="round"/>
<polygon points="467.28,941.97 477.01,939.35 468.95,935.51 459.27,938.11" fill="#9f0000" stroke="#000" stroke-width="1.3" stroke-linejoin="round"/>
<polygon points="485.07,943.19 494.85,940.56 486.74,936.74 477.01,939.35" fill="#9f0000" stroke="#000" stroke-width="1.3" stroke-linejoin="round"/>
<polygon points="630.45,943.15 640.07,940.19 632.27,936.38 622.56,939.37" fill="#8f0000" stroke="#000" stroke-width="1.3" stroke-linejoin="round"/>
<polygon points="626.11,1067.31 635.45,977.26 627.37,973.66 617.94,1062.62" fill="#00008f" stroke="#000" stroke-width="1.3" stroke-linejoin="round"/>
<polygon points="502.97,944.38 512.79,941.73 504.63,937.93 494.85,940.56" fill="#9f0000" stroke="#000" stroke-width="1.3" stroke-linejoin="round"/>
<polygon points="647.87,943.99 657.4,941.05 649.69,937.23 640.07,940.19" fill="#8f0000" stroke="#000" stroke-width="1.3" stroke-linejoin="round"/>
<polygon points="520.96,945.54 530.84,942.88 522.62,939.09 512.79,941.73" fill="#9f0000" stroke="#000" stroke-width="1.3" stroke-linejoin="round"/>
<polygon points="641.56,1073.17 650.62,1081.39 642.45,1076.7 633.29,1069.24" fill="#00008f" stroke="#000" stroke-width="1.3" stroke-linejoin="round"/>
<polygon points="539.05,946.67 548.98,944.24 540.72,940.49 530.84,942.88" fill="#9f0000" stroke="#000" stroke-width="1.3" stroke-linejoin="round"/>
<polygon points="457.55,944.58 467.28,941.97 459.27,938.11 449.59,940.71" fill="#9f0000" stroke="#000" stroke-width="1.3" stroke-linejoin="round"/>
<polygon points="590.29,963.02 600.24,1053.52 591.98,1049.59 582.03,959.27" fill="#ef0000" stroke="#000" stroke-width="1.3" stroke-linejoin="round"/>
<polygon points="620.84,946.11 630.45,943.15 622.56,939.37 612.85,942.36" fill="#8f0000" stroke="#000" stroke-width="1.3" stroke-linejoin="round"/>
<polygon points="611.22,966.46 620.84,946.11 612.85,942.36 603.14,962.86" fill="#ff8f00" stroke="#000" stroke-width="1.3" stroke-linejoin="round"/>
<polygon points="475.29,945.82 485.07,943.19 477.01,939.35 467.28,941.97" fill="#9f0000" stroke="#000" stroke-width="1.3" stroke-linejoin="round"/>
<polygon points="493.14,947.03 502.97,944.38 494.85,940.56 485.07,943.19" fill="#9f0000" stroke="#000" stroke-width="1.3" stroke-linejoin="round"/>
<polygon points="638.35,946.92 647.87,943.99 640.07,940.19 630.45,943.15" fill="#8f0000" stroke="#000" stroke-width="1.3" stroke-linejoin="round"/>
<polygon points="634.28,1072.01 643.53,980.86 635.45,977.26 626.11,1067.31" fill="#00008f" stroke="#000" stroke-width="1.3" stroke-linejoin="round"/>
<polygon points="511.08,948.2 520.96,945.54 512.79,941.73 502.97,944.38" fill="#9f0000" stroke="#000" stroke-width="1.3" stroke-linejoin="round"/>
<polygon points="655.68,947.79 665.11,944.88 657.4,941.05 647.87,943.99" fill="#8f0000" stroke="#000" stroke-width="1.3" stroke-linejoin="round"/>
<polygon points="649.82,1077.1 658.79,1086.08 650.62,1081.39 641.56,1073.17" fill="#00008f" stroke="#000" stroke-width="1.3" stroke-linejoin="round"/>
<polygon points="447.83,947.2 457.55,944.58 449.59,940.71 439.91,943.31" fill="#9f0000" stroke="#000" stroke-width="1.3" stroke-linejoin="round"/>
<polygon points="529.12,949.35 539.05,946.67 530.84,942.88 520.96,945.54" fill="#9f0000" stroke="#000" stroke-width="1.3" stroke-linejoin="round"/>
<polygon points="547.26,950.46 557.24,948 548.98,944.24 539.05,946.67" fill="#9f0000" stroke="#000" stroke-width="1.3" stroke-linejoin="round"/>
<polygon points="465.52,948.45 475.29,945.82 467.28,941.97 457.55,944.58" fill="#9f0000" stroke="#000" stroke-width="1.3" stroke-linejoin="round"/>
<polygon points="598.56,966.78 608.51,1057.45 600.24,1053.52 590.29,963.02" fill="#ef0000" stroke="#000" stroke-width="1.3" stroke-linejoin="round"/>
<polygon points="628.82,949.85 638.35,946.92 630.45,943.15 620.84,946.11" fill="#8f0000" stroke="#000" stroke-width="1.3" stroke-linejoin="round"/>
<polygon points="483.31,949.67 493.14,947.03 485.07,943.19 475.29,945.82" fill="#9f0000" stroke="#000" stroke-width="1.3" stroke-linejoin="round"/>
<polygon points="619.3,970.06 628.82,949.85 620.84,946.11 611.22,966.46" fill="#ff8f00" stroke="#000" stroke-width="1.3" stroke-linejoin="round"/>
<polygon points="501.2,950.86 511.08,948.2 502.97,944.38 493.14,947.03" fill="#9f0000" stroke="#000" stroke-width="1.3" stroke-linejoin="round"/>
<polygon points="646.24,950.69 655.68,947.79 647.87,943.99 638.35,946.92" fill="#8f0000" stroke="#000" stroke-width="1.3" stroke-linejoin="round"/>
<polygon points="642.45,1076.7 651.61,984.46 643.53,980.86 634.28,1072.01" fill="#00008f" stroke="#000" stroke-width="1.3" stroke-linejoin="round"/>
<polygon points="438.1,949.81 447.83,947.2 439.91,943.31 430.24,945.91" fill="#9f0000" stroke="#000" stroke-width="1.3" stroke-linejoin="round"/>
<polygon points="519.19,952.02 529.12,949.35 520.96,945.54 511.08,948.2" fill="#9f0000" stroke="#000" stroke-width="1.3" stroke-linejoin="round"/>
<polygon points="658.08,1081.03 666.96,1090.78 658.79,1086.08 649.82,1077.1" fill="#00008f" stroke="#000" stroke-width="1.3" stroke-linejoin="round"/>
<polygon points="663.48,951.59 672.82,948.71 665.11,944.88 655.68,947.79" fill="#8f0000" stroke="#000" stroke-width="1.3" stroke-linejoin="round"/>
<polygon points="537.28,953.15 547.26,950.46 539.05,946.67 529.12,949.35" fill="#9f0000" stroke="#000" stroke-width="1.3" stroke-linejoin="round"/>
<polygon points="455.74,951.08 465.52,948.45 457.55,944.58 447.83,947.2" fill="#9f0000" stroke="#000" stroke-width="1.3" stroke-linejoin="round"/>
<polygon points="555.47,954.25 565.5,951.76 557.24,948 547.26,950.46" fill="#9f0000" stroke="#000" stroke-width="1.3" stroke-linejoin="round"/>
<polygon points="473.48,952.32 483.31,949.67 475.29,945.82 465.52,948.45" fill="#9f0000" stroke="#000" stroke-width="1.3" stroke-linejoin="round"/>
<polygon points="606.82,970.54 616.77,1061.38 608.51,1057.45 598.56,966.78" fill="#ef0000" stroke="#000" stroke-width="1.3" stroke-linejoin="round"/>
<polygon points="491.32,953.52 501.2,950.86 493.14,947.03 483.31,949.67" fill="#9f0000" stroke="#000" stroke-width="1.3" stroke-linejoin="round"/>
<polygon points="636.81,953.6 646.24,950.69 638.35,946.92 628.82,949.85" fill="#8f0000" stroke="#000" stroke-width="1.3" stroke-linejoin="round"/>
<polygon points="627.37,973.66 636.81,953.6 628.82,949.85 619.3,970.06" fill="#ff8f00" stroke="#000" stroke-width="1.3" stroke-linejoin="round"/>
<polygon points="428.37,952.43 438.1,949.81 430.24,945.91 420.56,948.51" fill="#9f0000" stroke="#000" stroke-width="1.3" stroke-linejoin="round"/>
<polygon points="509.26,954.7 519.19,952.02 511.08,948.2 501.2,950.86" fill="#9f0000" stroke="#000" stroke-width="1.3" stroke-linejoin="round"/>
<polygon points="650.62,1081.39 659.69,988.06 651.61,984.46 642.45,1076.7" fill="#00008f" stroke="#000" stroke-width="1.3" stroke-linejoin="round"/>
<polygon points="654.14,954.46 663.48,951.59 655.68,947.79 646.24,950.69" fill="#8f0000" stroke="#000" stroke-width="1.3" stroke-linejoin="round"/>
<polygon points="445.96,953.71 455.74,951.08 447.83,947.2 438.1,949.81" fill="#9f0000" stroke="#000" stroke-width="1.3" stroke-linejoin="round"/>
<polygon points="527.3,955.84 537.28,953.15 529.12,949.35 519.19,952.02" fill="#9f0000" stroke="#000" stroke-width="1.3" stroke-linejoin="round"/>
<polygon points="666.35,1084.96 675.13,1095.47 666.96,1090.78 658.08,1081.03" fill="#00008f" stroke="#000" stroke-width="1.3" stroke-linejoin="round"/>
<polygon points="545.44,956.96 555.47,954.25 547.26,950.46 537.28,953.15" fill="#9f0000" stroke="#000" stroke-width="1.3" stroke-linejoin="round"/>
<polygon points="671.28,955.39 680.53,952.54 672.82,948.71 663.48,951.59" fill="#8f0000" stroke="#000" stroke-width="1.3" stroke-linejoin="round"/>
<polygon points="463.65,954.96 473.48,952.32 465.52,948.45 455.74,951.08" fill="#9f0000" stroke="#000" stroke-width="1.3" stroke-linejoin="round"/>
<polygon points="563.69,958.04 573.77,955.51 565.5,951.76 555.47,954.25" fill="#9f0000" stroke="#000" stroke-width="1.3" stroke-linejoin="round"/>
<polygon points="481.44,956.19 491.32,953.52 483.31,949.67 473.48,952.32" fill="#9f0000" stroke="#000" stroke-width="1.3" stroke-linejoin="round"/>
<polygon points="615.08,974.29 625.03,1065.31 616.77,1061.38 606.82,970.54" fill="#ef0000" stroke="#000" stroke-width="1.3" stroke-linejoin="round"/>
<polygon points="418.64,955.04 428.37,952.43 420.56,948.51 410.88,951.11" fill="#9f0000" stroke="#000" stroke-width="1.3" stroke-linejoin="round"/>
<polygon points="499.33,957.38 509.26,954.7 501.2,950.86 491.32,953.52" fill="#9f0000" stroke="#000" stroke-width="1.3" stroke-linejoin="round"/>
<polygon points="644.79,957.34 654.14,954.46 646.24,950.69 636.81,953.6" fill="#8f0000" stroke="#000" stroke-width="1.3" stroke-linejoin="round"/>
<polygon points="635.45,977.26 644.79,957.34 636.81,953.6 627.37,973.66" fill="#ff8f00" stroke="#000" stroke-width="1.3" stroke-linejoin="round"/>
<polygon points="436.18,956.34 445.96,953.71 438.1,949.81 428.37,952.43" fill="#9f0000" stroke="#000" stroke-width="1.3" stroke-linejoin="round"/>
<polygon points="517.32,958.54 527.3,955.84 519.19,952.02 509.26,954.7" fill="#9f0000" stroke="#000" stroke-width="1.3" stroke-linejoin="round"/>
<polygon points="658.79,1086.08 667.77,991.66 659.69,988.06 650.62,1081.39" fill="#00008f" stroke="#000" stroke-width="1.3" stroke-linejoin="round"/>
<polygon points="662.03,958.24 671.28,955.39 663.48,951.59 654.14,954.46" fill="#8f0000" stroke="#000" stroke-width="1.3" stroke-linejoin="round"/>
<polygon points="535.41,959.67 545.44,956.96 537.28,953.15 527.3,955.84" fill="#9f0000" stroke="#000" stroke-width="1.3" stroke-linejoin="round"/>
<polygon points="453.82,957.61 463.65,954.96 455.74,951.08 445.96,953.71" fill="#9f0000" stroke="#000" stroke-width="1.3" stroke-linejoin="round"/>
<polygon points="553.61,960.76 563.69,958.04 555.47,954.25 545.44,956.96" fill="#9f0000" stroke="#000" stroke-width="1.3" stroke-linejoin="round"/>
<polygon points="471.56,958.85 481.44,956.19 473.48,952.32 463.65,954.96" fill="#9f0000" stroke="#000" stroke-width="1.3" stroke-linejoin="round"/>
<polygon points="679.08,959.19 688.24,956.37 680.53,952.54 671.28,955.39" fill="#8f0000" stroke="#000" stroke-width="1.3" stroke-linejoin="round"/>
<polygon points="571.9,961.83 582.03,959.27 573.77,955.51 563.69,958.04" fill="#9f0000" stroke="#000" stroke-width="1.3" stroke-linejoin="round"/>
<polygon points="408.91,957.66 418.64,955.04 410.88,951.11 401.2,953.71" fill="#9f0000" stroke="#000" stroke-width="1.3" stroke-linejoin="round"/>
<polygon points="489.4,960.05 499.33,957.38 491.32,953.52 481.44,956.19" fill="#9f0000" stroke="#000" stroke-width="1.3" stroke-linejoin="round"/>
<polygon points="623.34,978.05 633.29,1069.24 625.03,1065.31 615.08,974.29" fill="#ef0000" stroke="#000" stroke-width="1.3" stroke-linejoin="round"/>
<polygon points="426.4,958.97 436.18,956.34 428.37,952.43 418.64,955.04" fill="#9f0000" stroke="#000" stroke-width="1.3" stroke-linejoin="round"/>
<polygon points="507.34,961.23 517.32,958.54 509.26,954.7 499.33,957.38" fill="#9f0000" stroke="#000" stroke-width="1.3" stroke-linejoin="round"/>
<polygon points="652.78,961.08 662.03,958.24 654.14,954.46 644.79,957.34" fill="#8f0000" stroke="#000" stroke-width="1.3" stroke-linejoin="round"/>
<polygon points="643.53,980.86 652.78,961.08 644.79,957.34 635.45,977.26" fill="#ff8f00" stroke="#000" stroke-width="1.3" stroke-linejoin="round"/>
<polygon points="525.38,962.37 535.41,959.67 527.3,955.84 517.32,958.54" fill="#9f0000" stroke="#000" stroke-width="1.3" stroke-linejoin="round"/>
<polygon points="443.99,960.26 453.82,957.61 445.96,953.71 436.18,956.34" fill="#9f0000" stroke="#000" stroke-width="1.3" stroke-linejoin="round"/>
<polygon points="666.96,1090.78 675.84,995.26 667.77,991.66 658.79,1086.08" fill="#00008f" stroke="#000" stroke-width="1.3" stroke-linejoin="round"/>
<polygon points="669.92,962.01 679.08,959.19 671.28,955.39 662.03,958.24" fill="#8f0000" stroke="#000" stroke-width="1.3" stroke-linejoin="round"/>
<polygon points="543.53,963.49 553.61,960.76 545.44,956.96 535.41,959.67" fill="#9f0000" stroke="#000" stroke-width="1.3" stroke-linejoin="round"/>
<polygon points="461.68,961.51 471.56,958.85 463.65,954.96 453.82,957.61" fill="#9f0000" stroke="#000" stroke-width="1.3" stroke-linejoin="round"/>
<polygon points="561.77,964.57 571.9,961.83 563.69,958.04 553.61,960.76" fill="#9f0000" stroke="#000" stroke-width="1.3" stroke-linejoin="round"/>
<polygon points="479.47,962.73 489.4,960.05 481.44,956.19 471.56,958.85" fill="#9f0000" stroke="#000" stroke-width="1.3" stroke-linejoin="round"/>
<polygon points="686.88,962.99 695.95,960.2 688.24,956.37 679.08,959.19" fill="#8f0000" stroke="#000" stroke-width="1.3" stroke-linejoin="round"/>
<polygon points="580.11,965.62 590.29,963.02 582.03,959.27 571.9,961.83" fill="#9f0000" stroke="#000" stroke-width="1.3" stroke-linejoin="round"/>
<polygon points="416.62,961.6 426.4,958.97 418.64,955.04 408.91,957.66" fill="#9f0000" stroke="#000" stroke-width="1.3" stroke-linejoin="round"/>
<polygon points="631.61,981.8 641.56,1073.17 633.29,1069.24 623.34,978.05" fill="#ef0000" stroke="#000" stroke-width="1.3" stroke-linejoin="round"/>
<polygon points="497.36,963.92 507.34,961.23 499.33,957.38 489.4,960.05" fill="#9f0000" stroke="#000" stroke-width="1.3" stroke-linejoin="round"/>
<polygon points="434.16,962.9 443.99,960.26 436.18,956.34 426.4,958.97" fill="#9f0000" stroke="#000" stroke-width="1.3" stroke-linejoin="round"/>
<polygon points="515.35,965.08 525.38,962.37 517.32,958.54 507.34,961.23" fill="#9f0000" stroke="#000" stroke-width="1.3" stroke-linejoin="round"/>
<polygon points="660.77,964.83 669.92,962.01 662.03,958.24 652.78,961.08" fill="#8f0000" stroke="#000" stroke-width="1.3" stroke-linejoin="round"/>
<polygon points="651.61,984.46 660.77,964.83 652.78,961.08 643.53,980.86" fill="#ff8f00" stroke="#000" stroke-width="1.3" stroke-linejoin="round"/>
<polygon points="675.13,1095.47 683.92,998.86 675.84,995.26 666.96,1090.78" fill="#00008f" stroke="#000" stroke-width="1.3" stroke-linejoin="round"/>
<polygon points="533.44,966.21 543.53,963.49 535.41,959.67 525.38,962.37" fill="#9f0000" stroke="#000" stroke-width="1.3" stroke-linejoin="round"/>
<polygon points="451.8,964.17 461.68,961.51 453.82,957.61 443.99,960.26" fill="#9f0000" stroke="#000" stroke-width="1.3" stroke-linejoin="round"/>
<polygon points="551.64,967.31 561.77,964.57 553.61,960.76 543.53,963.49" fill="#9f0000" stroke="#000" stroke-width="1.3" stroke-linejoin="round"/>
<polygon points="677.82,965.78 686.88,962.99 679.08,959.19 669.92,962.01" fill="#8f0000" stroke="#000" stroke-width="1.3" stroke-linejoin="round"/>
<polygon points="469.54,965.41 479.47,962.73 471.56,958.85 461.68,961.51" fill="#9f0000" stroke="#000" stroke-width="1.3" stroke-linejoin="round"/>
<polygon points="569.93,968.38 580.11,965.62 571.9,961.83 561.77,964.57" fill="#9f0000" stroke="#000" stroke-width="1.3" stroke-linejoin="round"/>
<polygon points="487.38,966.61 497.36,963.92 489.4,960.05 479.47,962.73" fill="#9f0000" stroke="#000" stroke-width="1.3" stroke-linejoin="round"/>
<polygon points="588.32,969.41 598.56,966.78 590.29,963.02 580.11,965.62" fill="#9f0000" stroke="#000" stroke-width="1.3" stroke-linejoin="round"/>
<polygon points="694.69,966.79 703.66,964.03 695.95,960.2 686.88,962.99" fill="#8f0000" stroke="#000" stroke-width="1.3" stroke-linejoin="round"/>
<polygon points="639.87,985.56 649.82,1077.1 641.56,1073.17 631.61,981.8" fill="#ef0000" stroke="#000" stroke-width="1.3" stroke-linejoin="round"/>
<polygon points="424.33,965.55 434.16,962.9 426.4,958.97 416.62,961.6" fill="#9f0000" stroke="#000" stroke-width="1.3" stroke-linejoin="round"/>
<polygon points="505.32,967.79 515.35,965.08 507.34,961.23 497.36,963.92" fill="#9f0000" stroke="#000" stroke-width="1.3" stroke-linejoin="round"/>
<polygon points="523.36,968.93 533.44,966.21 525.38,962.37 515.35,965.08" fill="#9f0000" stroke="#000" stroke-width="1.3" stroke-linejoin="round"/>
<polygon points="441.92,966.83 451.8,964.17 443.99,960.26 434.16,962.9" fill="#9f0000" stroke="#000" stroke-width="1.3" stroke-linejoin="round"/>
<polygon points="668.75,968.57 677.82,965.78 669.92,962.01 660.77,964.83" fill="#8f0000" stroke="#000" stroke-width="1.3" stroke-linejoin="round"/>
<polygon points="659.69,988.06 668.75,968.57 660.77,964.83 651.61,984.46" fill="#ff8f00" stroke="#000" stroke-width="1.3" stroke-linejoin="round"/>
<polygon points="541.51,970.05 551.64,967.31 543.53,963.49 533.44,966.21" fill="#9f0000" stroke="#000" stroke-width="1.3" stroke-linejoin="round"/>
<polygon points="459.61,968.08 469.54,965.41 461.68,961.51 451.8,964.17" fill="#9f0000" stroke="#000" stroke-width="1.3" stroke-linejoin="round"/>
<polygon points="559.75,971.13 569.93,968.38 561.77,964.57 551.64,967.31" fill="#9f0000" stroke="#000" stroke-width="1.3" stroke-linejoin="round"/>
<polygon points="685.71,969.56 694.69,966.79 686.88,962.99 677.82,965.78" fill="#8f0000" stroke="#000" stroke-width="1.3" stroke-linejoin="round"/>
<polygon points="477.4,969.31 487.38,966.61 479.47,962.73 469.54,965.41" fill="#9f0000" stroke="#000" stroke-width="1.3" stroke-linejoin="round"/>
<polygon points="578.09,972.18 588.32,969.41 580.11,965.62 569.93,968.38" fill="#9f0000" stroke="#000" stroke-width="1.3" stroke-linejoin="round"/>
<polygon points="495.29,970.5 505.32,967.79 497.36,963.92 487.38,966.61" fill="#9f0000" stroke="#000" stroke-width="1.3" stroke-linejoin="round"/>
<polygon points="596.54,973.2 606.82,970.54 598.56,966.78 588.32,969.41" fill="#9f0000" stroke="#000" stroke-width="1.3" stroke-linejoin="round"/>
<polygon points="702.49,970.59 711.37,967.86 703.66,964.03 694.69,966.79" fill="#8f0000" stroke="#000" stroke-width="1.3" stroke-linejoin="round"/>
<polygon points="648.13,989.31 658.08,1081.03 649.82,1077.1 639.87,985.56" fill="#ef0000" stroke="#000" stroke-width="1.3" stroke-linejoin="round"/>
<polygon points="432.04,969.49 441.92,966.83 434.16,962.9 424.33,965.55" fill="#9f0000" stroke="#000" stroke-width="1.3" stroke-linejoin="round"/>
<polygon points="513.28,971.66 523.36,968.93 515.35,965.08 505.32,967.79" fill="#9f0000" stroke="#000" stroke-width="1.3" stroke-linejoin="round"/>
<polygon points="531.38,972.79 541.51,970.05 533.44,966.21 523.36,968.93" fill="#9f0000" stroke="#000" stroke-width="1.3" stroke-linejoin="round"/>
<polygon points="449.68,970.76 459.61,968.08 451.8,964.17 441.92,966.83" fill="#9f0000" stroke="#000" stroke-width="1.3" stroke-linejoin="round"/>
<polygon points="667.77,991.66 676.74,972.32 668.75,968.57 659.69,988.06" fill="#ff8f00" stroke="#000" stroke-width="1.3" stroke-linejoin="round"/>
<polygon points="676.74,972.32 685.71,969.56 677.82,965.78 668.75,968.57" fill="#8f0000" stroke="#000" stroke-width="1.3" stroke-linejoin="round"/>
<polygon points="549.57,973.89 559.75,971.13 551.64,967.31 541.51,970.05" fill="#9f0000" stroke="#000" stroke-width="1.3" stroke-linejoin="round"/>
<polygon points="467.42,972 477.4,969.31 469.54,965.41 459.61,968.08" fill="#9f0000" stroke="#000" stroke-width="1.3" stroke-linejoin="round"/>
<polygon points="567.86,974.95 578.09,972.18 569.93,968.38 559.75,971.13" fill="#9f0000" stroke="#000" stroke-width="1.3" stroke-linejoin="round"/>
<polygon points="693.61,973.33 702.49,970.59 694.69,966.79 685.71,969.56" fill="#8f0000" stroke="#000" stroke-width="1.3" stroke-linejoin="round"/>
<polygon points="485.26,973.21 495.29,970.5 487.38,966.61 477.4,969.31" fill="#9f0000" stroke="#000" stroke-width="1.3" stroke-linejoin="round"/>
<polygon points="586.26,975.99 596.54,973.2 588.32,969.41 578.09,972.18" fill="#9f0000" stroke="#000" stroke-width="1.3" stroke-linejoin="round"/>
<polygon points="503.2,974.38 513.28,971.66 505.32,967.79 495.29,970.5" fill="#9f0000" stroke="#000" stroke-width="1.3" stroke-linejoin="round"/>
<polygon points="604.75,977 615.08,974.29 606.82,970.54 596.54,973.2" fill="#9f0000" stroke="#000" stroke-width="1.3" stroke-linejoin="round"/>
<polygon points="656.4,993.07 666.35,1084.96 658.08,1081.03 648.13,989.31" fill="#ef0000" stroke="#000" stroke-width="1.3" stroke-linejoin="round"/>
<polygon points="710.29,974.4 719.08,971.69 711.37,967.86 702.49,970.59" fill="#8f0000" stroke="#000" stroke-width="1.3" stroke-linejoin="round"/>
<polygon points="521.24,975.53 531.38,972.79 523.36,968.93 513.28,971.66" fill="#9f0000" stroke="#000" stroke-width="1.3" stroke-linejoin="round"/>
<polygon points="439.75,973.44 449.68,970.76 441.92,966.83 432.04,969.49" fill="#9f0000" stroke="#000" stroke-width="1.3" stroke-linejoin="round"/>
<polygon points="539.39,976.64 549.57,973.89 541.51,970.05 531.38,972.79" fill="#9f0000" stroke="#000" stroke-width="1.3" stroke-linejoin="round"/>
<polygon points="457.44,974.69 467.42,972 459.61,968.08 449.68,970.76" fill="#9f0000" stroke="#000" stroke-width="1.3" stroke-linejoin="round"/>
<polygon points="675.84,995.26 684.73,976.06 676.74,972.32 667.77,991.66" fill="#ff8f00" stroke="#000" stroke-width="1.3" stroke-linejoin="round"/>
<polygon points="684.73,976.06 693.61,973.33 685.71,969.56 676.74,972.32" fill="#8f0000" stroke="#000" stroke-width="1.3" stroke-linejoin="round"/>
<polygon points="557.63,977.72 567.86,974.95 559.75,971.13 549.57,973.89" fill="#9f0000" stroke="#000" stroke-width="1.3" stroke-linejoin="round"/>
<polygon points="475.23,975.91 485.26,973.21 477.4,969.31 467.42,972" fill="#9f0000" stroke="#000" stroke-width="1.3" stroke-linejoin="round"/>
<polygon points="575.97,978.77 586.26,975.99 578.09,972.18 567.86,974.95" fill="#9f0000" stroke="#000" stroke-width="1.3" stroke-linejoin="round"/>
<polygon points="701.5,977.1 710.29,974.4 702.49,970.59 693.61,973.33" fill="#8f0000" stroke="#000" stroke-width="1.3" stroke-linejoin="round"/>
<polygon points="493.12,977.1 503.2,974.38 495.29,970.5 485.26,973.21" fill="#9f0000" stroke="#000" stroke-width="1.3" stroke-linejoin="round"/>
<polygon points="594.42,979.8 604.75,977 596.54,973.2 586.26,975.99" fill="#9f0000" stroke="#000" stroke-width="1.3" stroke-linejoin="round"/>
<polygon points="612.96,980.79 623.34,978.05 615.08,974.29 604.75,977" fill="#9f0000" stroke="#000" stroke-width="1.3" stroke-linejoin="round"/>
<polygon points="511.11,978.26 521.24,975.53 513.28,971.66 503.2,974.38" fill="#9f0000" stroke="#000" stroke-width="1.3" stroke-linejoin="round"/>
<polygon points="529.21,979.39 539.39,976.64 531.38,972.79 521.24,975.53" fill="#9f0000" stroke="#000" stroke-width="1.3" stroke-linejoin="round"/>
<polygon points="447.46,977.38 457.44,974.69 449.68,970.76 439.75,973.44" fill="#9f0000" stroke="#000" stroke-width="1.3" stroke-linejoin="round"/>
<polygon points="547.4,980.49 557.63,977.72 549.57,973.89 539.39,976.64" fill="#9f0000" stroke="#000" stroke-width="1.3" stroke-linejoin="round"/>
<polygon points="465.2,978.62 475.23,975.91 467.42,972 457.44,974.69" fill="#9f0000" stroke="#000" stroke-width="1.3" stroke-linejoin="round"/>
<polygon points="683.92,998.86 692.71,979.81 684.73,976.06 675.84,995.26" fill="#ff8f00" stroke="#000" stroke-width="1.3" stroke-linejoin="round"/>
<polygon points="692.71,979.81 701.5,977.1 693.61,973.33 684.73,976.06" fill="#8f0000" stroke="#000" stroke-width="1.3" stroke-linejoin="round"/>
<polygon points="565.69,981.56 575.97,978.77 567.86,974.95 557.63,977.72" fill="#9f0000" stroke="#000" stroke-width="1.3" stroke-linejoin="round"/>
<polygon points="483.04,979.83 493.12,977.1 485.26,973.21 475.23,975.91" fill="#9f0000" stroke="#000" stroke-width="1.3" stroke-linejoin="round"/>
<polygon points="584.09,982.6 594.42,979.8 586.26,975.99 575.97,978.77" fill="#9f0000" stroke="#000" stroke-width="1.3" stroke-linejoin="round"/>
<polygon points="500.98,981 511.11,978.26 503.2,974.38 493.12,977.1" fill="#9f0000" stroke="#000" stroke-width="1.3" stroke-linejoin="round"/>
<polygon points="602.58,983.6 612.96,980.79 604.75,977 594.42,979.8" fill="#9f0000" stroke="#000" stroke-width="1.3" stroke-linejoin="round"/>
<polygon points="621.17,984.58 631.61,981.8 623.34,978.05 612.96,980.79" fill="#9f0000" stroke="#000" stroke-width="1.3" stroke-linejoin="round"/>
<polygon points="519.02,982.15 529.21,979.39 521.24,975.53 511.11,978.26" fill="#9f0000" stroke="#000" stroke-width="1.3" stroke-linejoin="round"/>
<polygon points="537.17,983.26 547.4,980.49 539.39,976.64 529.21,979.39" fill="#9f0000" stroke="#000" stroke-width="1.3" stroke-linejoin="round"/>
<polygon points="455.17,981.33 465.2,978.62 457.44,974.69 447.46,977.38" fill="#9f0000" stroke="#000" stroke-width="1.3" stroke-linejoin="round"/>
<polygon points="555.41,984.35 565.69,981.56 557.63,977.72 547.4,980.49" fill="#9f0000" stroke="#000" stroke-width="1.3" stroke-linejoin="round"/>
<polygon points="472.96,982.55 483.04,979.83 475.23,975.91 465.2,978.62" fill="#9f0000" stroke="#000" stroke-width="1.3" stroke-linejoin="round"/>
<polygon points="573.75,985.4 584.09,982.6 575.97,978.77 565.69,981.56" fill="#9f0000" stroke="#000" stroke-width="1.3" stroke-linejoin="round"/>
<polygon points="490.85,983.74 500.98,981 493.12,977.1 483.04,979.83" fill="#9f0000" stroke="#000" stroke-width="1.3" stroke-linejoin="round"/>
<polygon points="592.2,986.42 602.58,983.6 594.42,979.8 584.09,982.6" fill="#9f0000" stroke="#000" stroke-width="1.3" stroke-linejoin="round"/>
<polygon points="610.74,987.41 621.17,984.58 612.96,980.79 602.58,983.6" fill="#9f0000" stroke="#000" stroke-width="1.3" stroke-linejoin="round"/>
<polygon points="508.84,984.9 519.02,982.15 511.11,978.26 500.98,981" fill="#9f0000" stroke="#000" stroke-width="1.3" stroke-linejoin="round"/>
<polygon points="629.39,988.37 639.87,985.56 631.61,981.8 621.17,984.58" fill="#9f0000" stroke="#000" stroke-width="1.3" stroke-linejoin="round"/>
<polygon points="526.94,986.03 537.17,983.26 529.21,979.39 519.02,982.15" fill="#9f0000" stroke="#000" stroke-width="1.3" stroke-linejoin="round"/>
<polygon points="545.13,987.13 555.41,984.35 547.4,980.49 537.17,983.26" fill="#9f0000" stroke="#000" stroke-width="1.3" stroke-linejoin="round"/>
<polygon points="462.88,985.27 472.96,982.55 465.2,978.62 455.17,981.33" fill="#9f0000" stroke="#000" stroke-width="1.3" stroke-linejoin="round"/>
<polygon points="563.42,988.2 573.75,985.4 565.69,981.56 555.41,984.35" fill="#9f0000" stroke="#000" stroke-width="1.3" stroke-linejoin="round"/>
<polygon points="480.72,986.48 490.85,983.74 483.04,979.83 472.96,982.55" fill="#9f0000" stroke="#000" stroke-width="1.3" stroke-linejoin="round"/>
<polygon points="581.82,989.23 592.2,986.42 584.09,982.6 573.75,985.4" fill="#9f0000" stroke="#000" stroke-width="1.3" stroke-linejoin="round"/>
<polygon points="498.66,987.66 508.84,984.9 500.98,981 490.85,983.74" fill="#9f0000" stroke="#000" stroke-width="1.3" stroke-linejoin="round"/>
<polygon points="600.31,990.24 610.74,987.41 602.58,983.6 592.2,986.42" fill="#9f0000" stroke="#000" stroke-width="1.3" stroke-linejoin="round"/>
<polygon points="618.9,991.21 629.39,988.37 621.17,984.58 610.74,987.41" fill="#9f0000" stroke="#000" stroke-width="1.3" stroke-linejoin="round"/>
<polygon points="516.7,988.8 526.94,986.03 519.02,982.15 508.84,984.9" fill="#9f0000" stroke="#000" stroke-width="1.3" stroke-linejoin="round"/>
<polygon points="637.6,992.16 648.13,989.31 639.87,985.56 629.39,988.37" fill="#9f0000" stroke="#000" stroke-width="1.3" stroke-linejoin="round"/>
<polygon points="534.85,989.92 545.13,987.13 537.17,983.26 526.94,986.03" fill="#9f0000" stroke="#000" stroke-width="1.3" stroke-linejoin="round"/>
<polygon points="553.09,991 563.42,988.2 555.41,984.35 545.13,987.13" fill="#9f0000" stroke="#000" stroke-width="1.3" stroke-linejoin="round"/>
<polygon points="470.59,989.22 480.72,986.48 472.96,982.55 462.88,985.27" fill="#9f0000" stroke="#000" stroke-width="1.3" stroke-linejoin="round"/>
<polygon points="571.43,992.05 581.82,989.23 573.75,985.4 563.42,988.2" fill="#9f0000" stroke="#000" stroke-width="1.3" stroke-linejoin="round"/>
<polygon points="488.48,990.41 498.66,987.66 490.85,983.74 480.72,986.48" fill="#9f0000" stroke="#000" stroke-width="1.3" stroke-linejoin="round"/>
<polygon points="589.88,993.07 600.31,990.24 592.2,986.42 581.82,989.23" fill="#9f0000" stroke="#000" stroke-width="1.3" stroke-linejoin="round"/>
<polygon points="608.42,994.06 618.9,991.21 610.74,987.41 600.31,990.24" fill="#9f0000" stroke="#000" stroke-width="1.3" stroke-linejoin="round"/>
<polygon points="506.47,991.57 516.7,988.8 508.84,984.9 498.66,987.66" fill="#9f0000" stroke="#000" stroke-width="1.3" stroke-linejoin="round"/>
<polygon points="627.07,995.02 637.6,992.16 629.39,988.37 618.9,991.21" fill="#9f0000" stroke="#000" stroke-width="1.3" stroke-linejoin="round"/>
<polygon points="524.57,992.7 534.85,989.92 526.94,986.03 516.7,988.8" fill="#9f0000" stroke="#000" stroke-width="1.3" stroke-linejoin="round"/>
<polygon points="645.81,995.95 656.4,993.07 648.13,989.31 637.6,992.16" fill="#9f0000" stroke="#000" stroke-width="1.3" stroke-linejoin="round"/>
<polygon points="542.76,993.8 553.09,991 545.13,987.13 534.85,989.92" fill="#9f0000" stroke="#000" stroke-width="1.3" stroke-linejoin="round"/>
<polygon points="561.05,994.87 571.43,992.05 563.42,988.2 553.09,991" fill="#9f0000" stroke="#000" stroke-width="1.3" stroke-linejoin="round"/>
<polygon points="478.3,993.17 488.48,990.41 480.72,986.48 470.59,989.22" fill="#9f0000" stroke="#000" stroke-width="1.3" stroke-linejoin="round"/>
<polygon points="579.44,995.9 589.88,993.07 581.82,989.23 571.43,992.05" fill="#9f0000" stroke="#000" stroke-width="1.3" stroke-linejoin="round"/>
<polygon points="496.24,994.34 506.47,991.57 498.66,987.66 488.48,990.41" fill="#9f0000" stroke="#000" stroke-width="1.3" stroke-linejoin="round"/>
<polygon points="597.94,996.91 608.42,994.06 600.31,990.24 589.88,993.07" fill="#9f0000" stroke="#000" stroke-width="1.3" stroke-linejoin="round"/>
<polygon points="616.53,997.88 627.07,995.02 618.9,991.21 608.42,994.06" fill="#9f0000" stroke="#000" stroke-width="1.3" stroke-linejoin="round"/>
<polygon points="514.28,995.49 524.57,992.7 516.7,988.8 506.47,991.57" fill="#9f0000" stroke="#000" stroke-width="1.3" stroke-linejoin="round"/>
<polygon points="635.23,998.83 645.81,995.95 637.6,992.16 627.07,995.02" fill="#9f0000" stroke="#000" stroke-width="1.3" stroke-linejoin="round"/>
<polygon points="532.43,996.6 542.76,993.8 534.85,989.92 524.57,992.7" fill="#9f0000" stroke="#000" stroke-width="1.3" stroke-linejoin="round"/>
<polygon points="550.67,997.68 561.05,994.87 553.09,991 542.76,993.8" fill="#9f0000" stroke="#000" stroke-width="1.3" stroke-linejoin="round"/>
<polygon points="569.01,998.73 579.44,995.9 571.43,992.05 561.05,994.87" fill="#9f0000" stroke="#000" stroke-width="1.3" stroke-linejoin="round"/>
<polygon points="486.01,997.11 496.24,994.34 488.48,990.41 478.3,993.17" fill="#9f0000" stroke="#000" stroke-width="1.3" stroke-linejoin="round"/>
<polygon points="587.46,999.76 597.94,996.91 589.88,993.07 579.44,995.9" fill="#9f0000" stroke="#000" stroke-width="1.3" stroke-linejoin="round"/>
<polygon points="606,1000.75 616.53,997.88 608.42,994.06 597.94,996.91" fill="#9f0000" stroke="#000" stroke-width="1.3" stroke-linejoin="round"/>
<polygon points="504,998.27 514.28,995.49 506.47,991.57 496.24,994.34" fill="#9f0000" stroke="#000" stroke-width="1.3" stroke-linejoin="round"/>
<polygon points="624.65,1001.7 635.23,998.83 627.07,995.02 616.53,997.88" fill="#9f0000" stroke="#000" stroke-width="1.3" stroke-linejoin="round"/>
<polygon points="522.09,999.4 532.43,996.6 524.57,992.7 514.28,995.49" fill="#9f0000" stroke="#000" stroke-width="1.3" stroke-linejoin="round"/>
<polygon points="540.29,1000.5 550.67,997.68 542.76,993.8 532.43,996.6" fill="#9f0000" stroke="#000" stroke-width="1.3" stroke-linejoin="round"/>
<polygon points="558.58,1001.57 569.01,998.73 561.05,994.87 550.67,997.68" fill="#9f0000" stroke="#000" stroke-width="1.3" stroke-linejoin="round"/>
<polygon points="576.97,1002.6 587.46,999.76 579.44,995.9 569.01,998.73" fill="#9f0000" stroke="#000" stroke-width="1.3" stroke-linejoin="round"/>
<polygon points="493.72,1001.06 504,998.27 496.24,994.34 486.01,997.11" fill="#9f0000" stroke="#000" stroke-width="1.3" stroke-linejoin="round"/>
<polygon points="595.47,1003.61 606,1000.75 597.94,996.91 587.46,999.76" fill="#9f0000" stroke="#000" stroke-width="1.3" stroke-linejoin="round"/>
<polygon points="614.06,1004.58 624.65,1001.7 616.53,997.88 606,1000.75" fill="#9f0000" stroke="#000" stroke-width="1.3" stroke-linejoin="round"/>
<polygon points="511.76,1002.2 522.09,999.4 514.28,995.49 504,998.27" fill="#9f0000" stroke="#000" stroke-width="1.3" stroke-linejoin="round"/>
<polygon points="529.9,1003.31 540.29,1000.5 532.43,996.6 522.09,999.4" fill="#9f0000" stroke="#000" stroke-width="1.3" stroke-linejoin="round"/>
<polygon points="548.15,1004.4 558.58,1001.57 550.67,997.68 540.29,1000.5" fill="#9f0000" stroke="#000" stroke-width="1.3" stroke-linejoin="round"/>
<polygon points="566.49,1005.45 576.97,1002.6 569.01,998.73 558.58,1001.57" fill="#9f0000" stroke="#000" stroke-width="1.3" stroke-linejoin="round"/>
<polygon points="584.93,1006.47 595.47,1003.61 587.46,999.76 576.97,1002.6" fill="#9f0000" stroke="#000" stroke-width="1.3" stroke-linejoin="round"/>
<polygon points="603.48,1007.46 614.06,1004.58 606,1000.75 595.47,1003.61" fill="#9f0000" stroke="#000" stroke-width="1.3" stroke-linejoin="round"/>
<polygon points="501.43,1005 511.76,1002.2 504,998.27 493.72,1001.06" fill="#9f0000" stroke="#000" stroke-width="1.3" stroke-linejoin="round"/>
<polygon points="519.52,1006.13 529.9,1003.31 522.09,999.4 511.76,1002.2" fill="#9f0000" stroke="#000" stroke-width="1.3" stroke-linejoin="round"/>
<polygon points="537.71,1007.23 548.15,1004.4 540.29,1000.5 529.9,1003.31" fill="#9f0000" stroke="#000" stroke-width="1.3" stroke-linejoin="round"/>
<polygon points="556.01,1008.3 566.49,1005.45 558.58,1001.57 548.15,1004.4" fill="#9f0000" stroke="#000" stroke-width="1.3" stroke-linejoin="round"/>
<polygon points="574.4,1009.33 584.93,1006.47 576.97,1002.6 566.49,1005.45" fill="#9f0000" stroke="#000" stroke-width="1.3" stroke-linejoin="round"/>
<polygon points="592.9,1010.34 603.48,1007.46 595.47,1003.61 584.93,1006.47" fill="#9f0000" stroke="#000" stroke-width="1.3" stroke-linejoin="round"/>
<polygon points="509.14,1008.95 519.52,1006.13 511.76,1002.2 501.43,1005" fill="#9f0000" stroke="#000" stroke-width="1.3" stroke-linejoin="round"/>
<polygon points="527.28,1010.06 537.71,1007.23 529.9,1003.31 519.52,1006.13" fill="#9f0000" stroke="#000" stroke-width="1.3" stroke-linejoin="round"/>
<polygon points="545.53,1011.14 556.01,1008.3 548.15,1004.4 537.71,1007.23" fill="#9f0000" stroke="#000" stroke-width="1.3" stroke-linejoin="round"/>
<polygon points="563.87,1012.2 574.4,1009.33 566.49,1005.45 556.01,1008.3" fill="#9f0000" stroke="#000" stroke-width="1.3" stroke-linejoin="round"/>
<polygon points="582.31,1013.22 592.9,1010.34 584.93,1006.47 574.4,1009.33" fill="#9f0000" stroke="#000" stroke-width="1.3" stroke-linejoin="round"/>
<polygon points="516.85,1012.89 527.28,1010.06 519.52,1006.13 509.14,1008.95" fill="#9f0000" stroke="#000" stroke-width="1.3" stroke-linejoin="round"/>
<polygon points="535.04,1013.99 545.53,1011.14 537.71,1007.23 527.28,1010.06" fill="#9f0000" stroke="#000" stroke-width="1.3" stroke-linejoin="round"/>
<polygon points="553.34,1015.06 563.87,1012.2 556.01,1008.3 545.53,1011.14" fill="#9f0000" stroke="#000" stroke-width="1.3" stroke-linejoin="round"/>
<polygon points="571.73,1016.09 582.31,1013.22 574.4,1009.33 563.87,1012.2" fill="#9f0000" stroke="#000" stroke-width="1.3" stroke-linejoin="round"/>
<polygon points="524.56,1016.84 535.04,1013.99 527.28,1010.06 516.85,1012.89" fill="#9f0000" stroke="#000" stroke-width="1.3" stroke-linejoin="round"/>
<polygon points="542.8,1017.92 553.34,1015.06 545.53,1011.14 535.04,1013.99" fill="#9f0000" stroke="#000" stroke-width="1.3" stroke-linejoin="round"/>
<polygon points="561.15,1018.97 571.73,1016.09 563.87,1012.2 553.34,1015.06" fill="#9f0000" stroke="#000" stroke-width="1.3" stroke-linejoin="round"/>
<polygon points="532.27,1020.78 542.8,1017.92 535.04,1013.99 524.56,1016.84" fill="#9f0000" stroke="#000" stroke-width="1.3" stroke-linejoin="round"/>
<polygon points="550.56,1021.85 561.15,1018.97 553.34,1015.06 542.8,1017.92" fill="#9f0000" stroke="#000" stroke-width="1.3" stroke-linejoin="round"/>
<polygon points="539.98,1024.73 550.56,1021.85 542.8,1017.92 532.27,1020.78" fill="#9f0000" stroke="#000" stroke-width="1.3" stroke-linejoin="round"/>
<line x1="381.3" y1="1092" x2="381.3" y2="918.1" stroke="#6a6a6a" stroke-width="1.3"/>
<line x1="535.5" y1="1174" x2="381.3" y2="1092" stroke="#3a3a3a" stroke-width="1.3"/>
<line x1="535.5" y1="1174" x2="734.5" y2="1112.75" stroke="#3a3a3a" stroke-width="1.3"/>
<line x1="381.3" y1="1092" x2="377" y2="1093.32" stroke="#3a3a3a" stroke-width="1.1"/>
<line x1="381.3" y1="1057.22" x2="377" y2="1058.54" stroke="#3a3a3a" stroke-width="1.1"/>
<line x1="381.3" y1="1022.44" x2="377" y2="1023.76" stroke="#3a3a3a" stroke-width="1.1"/>
<line x1="381.3" y1="987.66" x2="377" y2="988.98" stroke="#3a3a3a" stroke-width="1.1"/>
<line x1="381.3" y1="952.88" x2="377" y2="954.2" stroke="#3a3a3a" stroke-width="1.1"/>
<line x1="381.3" y1="918.1" x2="377" y2="919.42" stroke="#3a3a3a" stroke-width="1.1"/>
<line x1="535.5" y1="1174" x2="531.2" y2="1175.32" stroke="#3a3a3a" stroke-width="1.1"/>
<line x1="458.4" y1="1133" x2="454.1" y2="1134.32" stroke="#3a3a3a" stroke-width="1.1"/>
<line x1="381.3" y1="1092" x2="377" y2="1093.32" stroke="#3a3a3a" stroke-width="1.1"/>
<line x1="535.5" y1="1174" x2="539.47" y2="1176.11" stroke="#3a3a3a" stroke-width="1.1"/>
<line x1="635" y1="1143.38" x2="638.97" y2="1145.49" stroke="#3a3a3a" stroke-width="1.1"/>
<line x1="734.5" y1="1112.75" x2="738.47" y2="1114.86" stroke="#3a3a3a" stroke-width="1.1"/>
<text transform="translate(370.5 1092) scale(1.25 1)" font-size="12.5" text-anchor="end" class="t">-400</text>
<text transform="translate(370.5 1057.22) scale(1.25 1)" font-size="12.5" text-anchor="end" class="t">-300</text>
<text transform="translate(370.5 1022.44) scale(1.25 1)" font-size="12.5" text-anchor="end" class="t">-200</text>
<text transform="translate(370.5 987.66) scale(1.25 1)" font-size="12.5" text-anchor="end" class="t">-100</text>
<text transform="translate(370.5 952.88) scale(1.25 1)" font-size="12.5" text-anchor="end" class="t">0</text>
<text transform="translate(370.5 918.1) scale(1.25 1)" font-size="12.5" text-anchor="end" class="t">100</text>
<text transform="translate(519.75 1190.75) scale(1.25 1)" font-size="12.5" text-anchor="middle" class="t">0</text>
<text transform="translate(435.4 1150.5) scale(1.25 1)" font-size="12.5" text-anchor="middle" class="t">0.5</text>
<text transform="translate(363.95 1109.95) scale(1.25 1)" font-size="12.5" text-anchor="middle" class="t">1</text>
<text transform="translate(550.5 1193) scale(1.25 1)" font-size="12.5" text-anchor="middle" class="t">0</text>
<text transform="translate(658.75 1162.38) scale(1.25 1)" font-size="12.5" text-anchor="middle" class="t">0.5</text>
<text transform="translate(750.1 1131.55) scale(1.25 1)" font-size="12.5" text-anchor="middle" class="t">1</text>
<text transform="translate(389.8 1184.44) scale(1.25 1)" font-size="14" text-anchor="middle" class="t">FinS</text>
<text transform="translate(687.8 1201.04) scale(1.25 1)" font-size="14" text-anchor="middle" class="t">INF</text>
<rect x="786.1" y="1169.84" width="34.2" height="5.56" fill="#00008f"/>
<rect x="786.1" y="1164.87" width="34.2" height="5.56" fill="#00009f"/>
<rect x="786.1" y="1159.91" width="34.2" height="5.56" fill="#0000af"/>
<rect x="786.1" y="1154.95" width="34.2" height="5.56" fill="#0000bf"/>
<rect x="786.1" y="1149.99" width="34.2" height="5.56" fill="#0000cf"/>
<rect x="786.1" y="1145.02" width="34.2" height="5.56" fill="#0000df"/>
<rect x="786.1" y="1140.06" width="34.2" height="5.56" fill="#0000ef"/>
<rect x="786.1" y="1135.1" width="34.2" height="5.56" fill="#0000ff"/>
<rect x="786.1" y="1130.14" width="34.2" height="5.56" fill="#0010ff"/>
<rect x="786.1" y="1125.17" width="34.2" height="5.56" fill="#0020ff"/>
<rect x="786.1" y="1120.21" width="34.2" height="5.56" fill="#0030ff"/>
<rect x="786.1" y="1115.25" width="34.2" height="5.56" fill="#0040ff"/>
<rect x="786.1" y="1110.29" width="34.2" height="5.56" fill="#0050ff"/>
<rect x="786.1" y="1105.32" width="34.2" height="5.56" fill="#0060ff"/>
<rect x="786.1" y="1100.36" width="34.2" height="5.56" fill="#0070ff"/>
<rect x="786.1" y="1095.4" width="34.2" height="5.56" fill="#0080ff"/>
<rect x="786.1" y="1090.44" width="34.2" height="5.56" fill="#008fff"/>
<rect x="786.1" y="1085.47" width="34.2" height="5.56" fill="#009fff"/>
<rect x="786.1" y="1080.51" width="34.2" height="5.56" fill="#00afff"/>
<rect x="786.1" y="1075.55" width="34.2" height="5.56" fill="#00bfff"/>
<rect x="786.1" y="1070.59" width="34.2" height="5.56" fill="#00cfff"/>
<rect x="786.1" y="1065.62" width="34.2" height="5.56" fill="#00dfff"/>
<rect x="786.1" y="1060.66" width="34.2" height="5.56" fill="#00efff"/>
<rect x="786.1" y="1055.7" width="34.2" height="5.56" fill="#00ffff"/>
<rect x="786.1" y="1050.74" width="34.2" height="5.56" fill="#10ffef"/>
<rect x="786.1" y="1045.77" width="34.2" height="5.56" fill="#20ffdf"/>
<rect x="786.1" y="1040.81" width="34.2" height="5.56" fill="#30ffcf"/>
<rect x="786.1" y="1035.85" width="34.2" height="5.56" fill="#40ffbf"/>
<rect x="786.1" y="1030.89" width="34.2" height="5.56" fill="#50ffaf"/>
<rect x="786.1" y="1025.92" width="34.2" height="5.56" fill="#60ff9f"/>
<rect x="786.1" y="1020.96" width="34.2" height="5.56" fill="#70ff8f"/>
<rect x="786.1" y="1016" width="34.2" height="5.56" fill="#80ff80"/>
<rect x="786.1" y="1011.04" width="34.2" height="5.56" fill="#8fff70"/>
<rect x="786.1" y="1006.08" width="34.2" height="5.56" fill="#9fff60"/>
<rect x="786.1" y="1001.11" width="34.2" height="5.56" fill="#afff50"/>
<rect x="786.1" y="996.15" width="34.2" height="5.56" fill="#bfff40"/>
<rect x="786.1" y="991.19" width="34.2" height="5.56" fill="#cfff30"/>
<rect x="786.1" y="986.23" width="34.2" height="5.56" fill="#dfff20"/>
<rect x="786.1" y="981.26" width="34.2" height="5.56" fill="#efff10"/>
<rect x="786.1" y="976.3" width="34.2" height="5.56" fill="#ffff00"/>
<rect x="786.1" y="971.34" width="34.2" height="5.56" fill="#ffef00"/>
<rect x="786.1" y="966.38" width="34.2" height="5.56" fill="#ffdf00"/>
<rect x="786.1" y="961.41" width="34.2" height="5.56" fill="#ffcf00"/>
<rect x="786.1" y="956.45" width="34.2" height="5.56" fill="#ffbf00"/>
<rect x="786.1" y="951.49" width="34.2" height="5.56" fill="#ffaf00"/>
<rect x="786.1" y="946.52" width="34.2" height="5.56" fill="#ff9f00"/>
<rect x="786.1" y="941.56" width="34.2" height="5.56" fill="#ff8f00"/>
<rect x="786.1" y="936.6" width="34.2" height="5.56" fill="#ff8000"/>
<rect x="786.1" y="931.64" width="34.2" height="5.56" fill="#ff7000"/>
<rect x="786.1" y="926.68" width="34.2" height="5.56" fill="#ff6000"/>
<rect x="786.1" y="921.71" width="34.2" height="5.56" fill="#ff5000"/>
<rect x="786.1" y="916.75" width="34.2" height="5.56" fill="#ff4000"/>
<rect x="786.1" y="911.79" width="34.2" height="5.56" fill="#ff3000"/>
<rect x="786.1" y="906.83" width="34.2" height="5.56" fill="#ff2000"/>
<rect x="786.1" y="901.86" width="34.2" height="5.56" fill="#ff1000"/>
<rect x="786.1" y="896.9" width="34.2" height="5.56" fill="#ff0000"/>
<rect x="786.1" y="891.94" width="34.2" height="5.56" fill="#ef0000"/>
<rect x="786.1" y="886.98" width="34.2" height="5.56" fill="#df0000"/>
<rect x="786.1" y="882.01" width="34.2" height="5.56" fill="#cf0000"/>
<rect x="786.1" y="877.05" width="34.2" height="5.56" fill="#bf0000"/>
<rect x="786.1" y="872.09" width="34.2" height="5.56" fill="#af0000"/>
<rect x="786.1" y="867.13" width="34.2" height="5.56" fill="#9f0000"/>
<rect x="786.1" y="862.16" width="34.2" height="5.56" fill="#8f0000"/>
<rect x="786.1" y="857.2" width="34.2" height="5.56" fill="#800000"/>
<rect x="786.1" y="857.5" width="34.2" height="317.6" fill="none" stroke="#3a3a3a" stroke-width="0.8"/>
<line x1="817.3" y1="1153.63" x2="820.3" y2="1153.63" stroke="#3a3a3a" stroke-width="1"/>
<text transform="translate(826.5 1158.13) scale(1.25 1)" font-size="12.5" text-anchor="start" class="t">-300</text>
<line x1="817.3" y1="1104.85" x2="820.3" y2="1104.85" stroke="#3a3a3a" stroke-width="1"/>
<text transform="translate(826.5 1109.35) scale(1.25 1)" font-size="12.5" text-anchor="start" class="t">-250</text>
<line x1="817.3" y1="1056.06" x2="820.3" y2="1056.06" stroke="#3a3a3a" stroke-width="1"/>
<text transform="translate(826.5 1060.56) scale(1.25 1)" font-size="12.5" text-anchor="start" class="t">-200</text>
<line x1="817.3" y1="1007.27" x2="820.3" y2="1007.27" stroke="#3a3a3a" stroke-width="1"/>
<text transform="translate(826.5 1011.77) scale(1.25 1)" font-size="12.5" text-anchor="start" class="t">-150</text>
<line x1="817.3" y1="958.49" x2="820.3" y2="958.49" stroke="#3a3a3a" stroke-width="1"/>
<text transform="translate(826.5 962.99) scale(1.25 1)" font-size="12.5" text-anchor="start" class="t">-100</text>
<line x1="817.3" y1="909.7" x2="820.3" y2="909.7" stroke="#3a3a3a" stroke-width="1"/>
<text transform="translate(826.5 914.2) scale(1.25 1)" font-size="12.5" text-anchor="start" class="t">-50</text>
<line x1="817.3" y1="860.92" x2="820.3" y2="860.92" stroke="#3a3a3a" stroke-width="1"/>
<text transform="translate(826.5 865.42) scale(1.25 1)" font-size="12.5" text-anchor="start" class="t">0</text>
<text x="214.8" y="405.5" font-family='"Liberation Serif", serif' font-weight="bold" font-size="30" fill="#000">a)</text>
<text x="262.9" y="405.5" font-family='"Liberation Serif", serif' font-weight="bold" font-size="30" fill="#000" textLength="171.8" lengthAdjust="spacingAndGlyphs">NRs on FinS</text>
<text x="811.7" y="405.8" font-family='"Liberation Serif", serif' font-weight="bold" font-size="30" fill="#000">b)</text>
<text x="859.4" y="405.8" font-family='"Liberation Serif", serif' font-weight="bold" font-size="30" fill="#000" textLength="176.8" lengthAdjust="spacingAndGlyphs">EPU on FinS</text>
<text x="215.9" y="819.2" font-family='"Liberation Serif", serif' font-weight="bold" font-size="30" fill="#000">c)</text>
<text x="264" y="819.2" font-family='"Liberation Serif", serif' font-weight="bold" font-size="30" fill="#000" textLength="169.65" lengthAdjust="spacingAndGlyphs">TNI on FinS</text>
<text x="820" y="819.2" font-family='"Liberation Serif", serif' font-weight="bold" font-size="30" fill="#000">d)</text>
<text x="867.1" y="819.2" font-family='"Liberation Serif", serif' font-weight="bold" font-size="30" fill="#000" textLength="161.3" lengthAdjust="spacingAndGlyphs">RQ on FinS</text>
<text x="517.95" y="1232.9" font-family='"Liberation Serif", serif' font-weight="bold" font-size="30" fill="#000">e)</text>
<text x="565" y="1232.9" font-family='"Liberation Serif", serif' font-weight="bold" font-size="30" fill="#000" textLength="167.6" lengthAdjust="spacingAndGlyphs">INF on FinS</text><rect x="0" y="0" width="1200" height="2" fill="#222"/>
<rect x="0" y="0" width="1.5" height="1241" fill="#000"/>
<rect x="1198.3" y="0" width="1.7" height="1241" fill="#000"/>
<rect x="0" y="1238.8" width="1200" height="1.4" fill="#111"/>
<rect x="0" y="1240.2" width="1200" height="0.8" fill="#777"/>
<rect x="599" y="0" width="2" height="826" fill="#4a4a4a"/>
<rect x="0" y="412.4" width="1200" height="1.7" fill="#111"/>
<rect x="0" y="824.9" width="1200" height="1.8" fill="#2a2a2a"/></svg><svg class="ov" width="1200" height="1241" viewBox="0 0 1200 1241"><rect x="0" y="0" width="1200" height="2" fill="#222"/>
<rect x="0" y="0" width="1.5" height="1241" fill="#000"/>
<rect x="1198.3" y="0" width="1.7" height="1241" fill="#000"/>
<rect x="0" y="1238.8" width="1200" height="1.4" fill="#111"/>
<rect x="0" y="1240.2" width="1200" height="0.8" fill="#777"/></svg>
</body></html>
